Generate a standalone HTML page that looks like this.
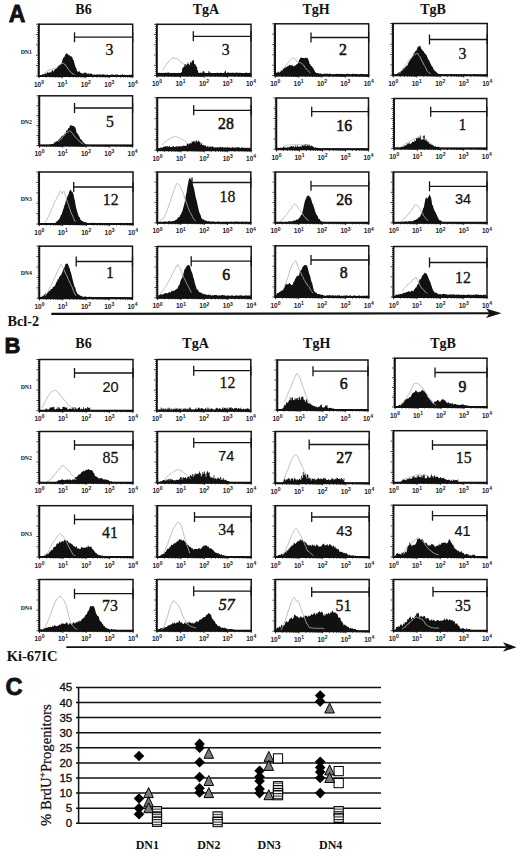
<!DOCTYPE html><html><head><meta charset="utf-8"><style>html,body{margin:0;padding:0;background:#fff;}svg{display:block;}</style></head><body>
<svg width="520" height="853" viewBox="0 0 520 853">
<defs><pattern id="stripe" patternUnits="userSpaceOnUse" width="4" height="2.6"><rect width="4" height="2.6" fill="#fff"/><rect y="0" width="4" height="1.1" fill="#222"/></pattern></defs>
<rect width="520" height="853" fill="#fff"/>
<path d="M40.0 76.0 L40.0 75.1 L40.7 75.6 L41.4 75.0 L42.1 75.0 L42.8 73.8 L43.5 74.3 L44.2 74.5 L44.9 73.7 L45.6 73.1 L46.3 74.0 L47.0 72.4 L47.7 72.2 L48.4 72.5 L49.1 73.2 L49.8 71.6 L50.5 72.6 L51.2 72.6 L51.9 70.3 L52.6 69.9 L53.3 71.5 L54.0 71.0 L54.7 69.6 L55.4 68.7 L56.1 68.9 L56.8 68.0 L57.5 67.3 L58.2 65.8 L58.9 65.2 L59.6 64.9 L60.3 63.8 L61.0 64.2 L61.7 63.0 L62.4 60.3 L63.1 57.7 L63.8 57.7 L64.5 56.8 L65.2 54.5 L65.9 54.3 L66.6 53.0 L67.3 53.9 L68.0 54.1 L68.7 55.6 L69.4 55.1 L70.1 55.7 L70.8 56.5 L71.5 56.4 L72.2 57.0 L72.9 59.4 L73.6 59.9 L74.3 62.7 L75.0 65.5 L75.7 67.2 L76.4 68.6 L77.1 71.3 L77.8 71.5 L78.5 71.9 L79.2 70.8 L79.9 71.9 L80.6 73.0 L81.3 72.8 L82.0 73.4 L82.7 73.6 L83.4 73.6 L84.1 72.4 L84.8 72.7 L85.5 72.4 L86.2 73.8 L86.9 72.5 L87.6 74.2 L88.3 73.8 L89.0 72.9 L89.7 74.5 L90.4 73.3 L91.1 73.4 L91.8 74.1 L92.5 74.2 L93.2 74.7 L93.9 74.9 L94.6 74.2 L95.3 74.7 L96.0 74.6 L96.7 74.5 L97.4 74.6 L98.1 74.2 L98.8 75.1 L99.5 74.4 L100.2 73.9 L100.9 74.9 L101.6 74.6 L102.3 74.8 L103.0 74.1 L103.7 74.5 L104.4 74.7 L105.1 74.4 L105.8 75.1 L106.5 74.9 L107.2 74.0 L107.9 75.1 L108.6 75.0 L109.3 75.1 L110.0 75.0 L110.7 74.8 L111.4 74.6 L112.1 74.6 L112.8 74.2 L113.5 75.2 L114.2 75.0 L114.9 74.6 L115.6 74.5 L116.3 74.8 L117.0 74.5 L117.7 74.4 L118.4 75.4 L119.1 75.4 L119.8 75.4 L120.5 74.8 L121.2 74.8 L121.9 74.7 L122.6 74.3 L123.3 75.1 L124.0 74.4 L124.7 75.1 L125.4 75.2 L126.1 74.8 L126.8 74.9 L127.5 75.0 L128.2 75.5 L128.9 74.9 L129.6 74.4 L130.3 75.5 L131.0 74.5 L131.7 74.4 L132.0 76.0 Z" fill="#111"/>
<path d="M44.0 73.5 L44.7 73.1 L45.4 72.8 L46.1 71.9 L46.8 71.5 L47.5 71.2 L48.2 70.2 L48.9 69.9 L49.6 70.0 L50.3 69.8 L51.0 69.6 L51.7 69.3 L52.4 68.9 L53.1 69.1 L53.8 68.4 L54.5 68.8 L55.2 68.0 L55.9 67.4 L56.6 67.4 L57.3 66.9 L58.0 66.2 L58.7 66.0 L59.4 65.2 L60.1 65.0 L60.8 64.1 L61.5 63.8 L62.2 63.1 L62.9 63.2 L63.6 63.4 L64.3 64.3 L65.0 64.2 L65.7 65.1 L66.4 66.7 L67.1 66.9 L67.8 68.2 L68.5 69.6 L69.2 70.3 L69.9 71.6 L70.6 71.9 L71.3 72.4 L72.0 73.0 L72.7 74.0 L73.4 74.0 L74.1 74.4 L74.8 75.0" fill="none" stroke="#b4b4b4" stroke-width="0.85"/>
<rect x="39.0" y="24.2" width="93.7" height="51.8" fill="none" stroke="#151515" stroke-width="1.5"/>
<line x1="38.6" y1="23.7" x2="38.6" y2="76.5" stroke="#111" stroke-width="1.3"/>
<line x1="38.0" y1="76.0" x2="133.2" y2="76.0" stroke="#111" stroke-width="2"/>
<path d="M36.0 24.2H39.0M37.2 26.3H39.0M37.2 28.3H39.0M37.2 30.4H39.0M37.2 32.5H39.0M36.0 34.6H39.0M37.2 36.6H39.0M37.2 38.7H39.0M37.2 40.8H39.0M37.2 42.8H39.0M36.0 44.9H39.0M37.2 47.0H39.0M37.2 49.1H39.0M37.2 51.1H39.0M37.2 53.2H39.0M36.0 55.3H39.0M37.2 57.4H39.0M37.2 59.4H39.0M37.2 61.5H39.0M37.2 63.6H39.0M36.0 65.6H39.0M37.2 67.7H39.0M37.2 69.8H39.0M37.2 71.9H39.0M37.2 73.9H39.0M36.0 76.0H39.0" stroke="#111" stroke-width="0.8"/>
<path d="M39.0 76.0V78.2M46.1 76.0V77.5M50.2 76.0V77.5M53.1 76.0V77.5M55.4 76.0V77.5M57.2 76.0V77.5M58.8 76.0V77.5M60.2 76.0V77.5M61.4 76.0V77.5M62.4 76.0V78.2M69.5 76.0V77.5M73.6 76.0V77.5M76.5 76.0V77.5M78.8 76.0V77.5M80.7 76.0V77.5M82.2 76.0V77.5M83.6 76.0V77.5M84.8 76.0V77.5M85.8 76.0V78.2M92.9 76.0V77.5M97.0 76.0V77.5M100.0 76.0V77.5M102.2 76.0V77.5M104.1 76.0V77.5M105.6 76.0V77.5M107.0 76.0V77.5M108.2 76.0V77.5M109.3 76.0V78.2M116.3 76.0V77.5M120.5 76.0V77.5M123.4 76.0V77.5M125.6 76.0V77.5M127.5 76.0V77.5M129.1 76.0V77.5M130.4 76.0V77.5M131.6 76.0V77.5M132.7 76.0V78.2" stroke="#111" stroke-width="0.9"/>
<text x="39.0" y="86.6" font-family="'Liberation Sans', sans-serif" font-size="6.5" font-weight="bold" fill="#222" text-anchor="middle">10<tspan font-size="5" dy="-2.9">0</tspan></text>
<text x="62.4" y="86.6" font-family="'Liberation Sans', sans-serif" font-size="6.5" font-weight="bold" fill="#222" text-anchor="middle">10<tspan font-size="5" dy="-2.9">1</tspan></text>
<text x="85.8" y="86.6" font-family="'Liberation Sans', sans-serif" font-size="6.5" font-weight="bold" fill="#222" text-anchor="middle">10<tspan font-size="5" dy="-2.9">2</tspan></text>
<text x="109.3" y="86.6" font-family="'Liberation Sans', sans-serif" font-size="6.5" font-weight="bold" fill="#222" text-anchor="middle">10<tspan font-size="5" dy="-2.9">3</tspan></text>
<text x="132.7" y="86.6" font-family="'Liberation Sans', sans-serif" font-size="6.5" font-weight="bold" fill="#222" text-anchor="middle">10<tspan font-size="5" dy="-2.9">4</tspan></text>
<path d="M74.5 37.2H132.7 M74.5 32.2V42.2 M132.7 32.2V42.2" stroke="#151515" stroke-width="1.3" fill="none"/>
<text x="109.5" y="55.2" font-family="'Liberation Serif', serif" font-size="15.8" stroke="#111" stroke-width="0.3" fill="#111" text-anchor="middle">3</text>
<rect x="157.0" y="73.0" width="94.0" height="2.5" fill="#111"/>
<path d="M158.0 75.5 L158.0 72.8 L158.8 72.8 L158.8 72.8 L159.6 72.8 L159.6 73.2 L160.4 73.2 L160.4 73.0 L161.2 73.0 L161.2 72.7 L162.0 72.7 L162.0 72.9 L162.8 72.9 L162.8 73.1 L163.6 73.1 L163.6 72.8 L164.4 72.8 L164.4 73.2 L165.2 73.2 L165.2 72.6 L166.0 72.6 L166.0 73.1 L166.8 73.1 L166.8 72.7 L167.6 72.7 L167.6 72.5 L168.4 72.5 L168.4 72.6 L169.2 72.6 L169.2 73.1 L170.0 73.1 L170.0 73.0 L170.8 73.0 L170.8 72.8 L171.6 72.8 L171.6 73.0 L172.4 73.0 L172.4 73.2 L173.2 73.2 L173.2 73.1 L174.0 73.1 L174.0 72.7 L174.8 72.7 L174.8 73.0 L175.6 73.0 L175.6 73.0 L176.4 73.0 L176.4 72.9 L177.2 72.9 L177.2 73.0 L178.0 73.0 L178.0 72.8 L178.8 72.8 L178.8 73.2 L179.6 73.2 L179.6 73.1 L180.4 73.1 L180.4 72.8 L181.2 72.8 L181.2 72.1 L182.0 72.1 L182.0 68.6 L182.8 68.6 L182.8 67.6 L183.6 67.6 L183.6 66.5 L184.4 66.5 L184.4 64.1 L185.2 64.1 L185.2 64.3 L186.0 64.3 L186.0 65.0 L186.8 65.0 L186.8 63.9 L187.6 63.9 L187.6 62.5 L188.4 62.5 L188.4 64.1 L189.2 64.1 L189.2 65.1 L190.0 65.1 L190.0 61.9 L190.8 61.9 L190.8 63.1 L191.6 63.1 L191.6 61.3 L192.4 61.3 L192.4 60.3 L193.2 60.3 L193.2 60.2 L194.0 60.2 L194.0 63.7 L194.8 63.7 L194.8 64.2 L195.6 64.2 L195.6 65.7 L196.4 65.7 L196.4 67.0 L197.2 67.0 L197.2 70.1 L198.0 70.1 L198.0 72.6 L198.8 72.6 L198.8 73.0 L199.6 73.0 L199.6 72.7 L200.4 72.7 L200.4 72.8 L201.2 72.8 L201.2 72.8 L202.0 72.8 L202.0 72.5 L202.8 72.5 L202.8 71.0 L203.6 71.0 L203.6 71.6 L204.4 71.6 L204.4 72.7 L205.2 72.7 L205.2 72.9 L206.0 72.9 L206.0 72.9 L206.8 72.9 L206.8 72.9 L207.6 72.9 L207.6 72.9 L208.4 72.9 L208.4 71.0 L209.2 71.0 L209.2 72.4 L210.0 72.4 L210.0 72.6 L210.8 72.6 L210.8 72.9 L211.6 72.9 L211.6 72.9 L212.4 72.9 L212.4 73.1 L213.2 73.1 L213.2 73.2 L214.0 73.2 L214.0 73.0 L214.8 73.0 L214.8 73.2 L215.6 73.2 L215.6 73.2 L216.4 73.2 L216.4 72.9 L217.2 72.9 L217.2 72.6 L218.0 72.6 L218.0 72.9 L218.8 72.9 L218.8 72.9 L219.6 72.9 L219.6 73.1 L220.4 73.1 L220.4 72.6 L221.2 72.6 L221.2 72.9 L222.0 72.9 L222.0 72.9 L222.8 72.9 L222.8 73.0 L223.6 73.0 L223.6 72.9 L224.4 72.9 L224.4 71.7 L225.2 71.7 L225.2 70.8 L226.0 70.8 L226.0 73.1 L226.8 73.1 L226.8 72.8 L227.6 72.8 L227.6 72.5 L228.4 72.5 L228.4 72.6 L229.2 72.6 L229.2 73.1 L230.0 73.1 L230.0 72.7 L230.8 72.7 L230.8 72.8 L231.6 72.8 L231.6 73.0 L232.4 73.0 L232.4 72.6 L233.2 72.6 L233.2 72.7 L234.0 72.7 L234.0 73.1 L234.8 73.1 L234.8 72.8 L235.6 72.8 L235.6 72.8 L236.4 72.8 L236.4 72.6 L237.2 72.6 L237.2 72.8 L238.0 72.8 L238.0 73.2 L238.8 73.2 L238.8 72.6 L239.6 72.6 L239.6 72.9 L240.4 72.9 L240.4 72.8 L241.2 72.8 L241.2 73.0 L242.0 73.0 L242.0 73.1 L242.8 73.1 L242.8 73.0 L243.6 73.0 L243.6 73.2 L244.4 73.2 L244.4 73.1 L245.2 73.1 L245.2 72.8 L246.0 72.8 L246.0 72.6 L246.8 72.6 L246.8 72.9 L247.6 72.9 L247.6 72.9 L248.4 72.9 L248.4 73.0 L249.2 73.0 L249.2 72.8 L250.0 72.8 L250.0 72.7 L250.8 72.7 L250.0 75.5 Z" fill="#111"/>
<path d="M162.7 70.3 L163.4 68.6 L164.1 67.6 L164.8 67.0 L165.5 65.7 L166.2 65.0 L166.9 63.5 L167.6 63.2 L168.3 61.9 L169.0 61.5 L169.7 60.0 L170.4 59.8 L171.1 58.9 L171.8 58.8 L172.5 57.5 L173.2 56.9 L173.9 57.9 L174.6 59.0 L175.3 58.5 L176.0 58.7 L176.7 59.1 L177.4 58.6 L178.1 59.3 L178.8 60.3 L179.5 60.4 L180.2 61.4 L180.9 62.1 L181.6 61.9 L182.3 63.4 L183.0 63.6 L183.7 64.1 L184.4 64.4 L185.1 64.8 L185.8 65.7" fill="none" stroke="#b4b4b4" stroke-width="0.85"/>
<rect x="157.0" y="24.3" width="94.0" height="51.2" fill="none" stroke="#151515" stroke-width="1.5"/>
<line x1="156.6" y1="23.8" x2="156.6" y2="76.0" stroke="#111" stroke-width="1.3"/>
<line x1="156.0" y1="75.5" x2="251.5" y2="75.5" stroke="#111" stroke-width="2"/>
<path d="M154.0 24.3H157.0M155.2 26.3H157.0M155.2 28.4H157.0M155.2 30.4H157.0M155.2 32.5H157.0M154.0 34.5H157.0M155.2 36.6H157.0M155.2 38.6H157.0M155.2 40.7H157.0M155.2 42.7H157.0M154.0 44.8H157.0M155.2 46.8H157.0M155.2 48.9H157.0M155.2 50.9H157.0M155.2 53.0H157.0M154.0 55.0H157.0M155.2 57.1H157.0M155.2 59.1H157.0M155.2 61.2H157.0M155.2 63.2H157.0M154.0 65.3H157.0M155.2 67.3H157.0M155.2 69.4H157.0M155.2 71.4H157.0M155.2 73.5H157.0M154.0 75.5H157.0" stroke="#111" stroke-width="0.8"/>
<path d="M157.0 75.5V77.7M164.1 75.5V77.0M168.2 75.5V77.0M171.1 75.5V77.0M173.4 75.5V77.0M175.3 75.5V77.0M176.9 75.5V77.0M178.2 75.5V77.0M179.4 75.5V77.0M180.5 75.5V77.7M187.6 75.5V77.0M191.7 75.5V77.0M194.6 75.5V77.0M196.9 75.5V77.0M198.8 75.5V77.0M200.4 75.5V77.0M201.7 75.5V77.0M202.9 75.5V77.0M204.0 75.5V77.7M211.1 75.5V77.0M215.2 75.5V77.0M218.1 75.5V77.0M220.4 75.5V77.0M222.3 75.5V77.0M223.9 75.5V77.0M225.2 75.5V77.0M226.4 75.5V77.0M227.5 75.5V77.7M234.6 75.5V77.0M238.7 75.5V77.0M241.6 75.5V77.0M243.9 75.5V77.0M245.8 75.5V77.0M247.4 75.5V77.0M248.7 75.5V77.0M249.9 75.5V77.0M251.0 75.5V77.7" stroke="#111" stroke-width="0.9"/>
<text x="157.0" y="86.1" font-family="'Liberation Sans', sans-serif" font-size="6.5" font-weight="bold" fill="#222" text-anchor="middle">10<tspan font-size="5" dy="-2.9">0</tspan></text>
<text x="180.5" y="86.1" font-family="'Liberation Sans', sans-serif" font-size="6.5" font-weight="bold" fill="#222" text-anchor="middle">10<tspan font-size="5" dy="-2.9">1</tspan></text>
<text x="204.0" y="86.1" font-family="'Liberation Sans', sans-serif" font-size="6.5" font-weight="bold" fill="#222" text-anchor="middle">10<tspan font-size="5" dy="-2.9">2</tspan></text>
<text x="227.5" y="86.1" font-family="'Liberation Sans', sans-serif" font-size="6.5" font-weight="bold" fill="#222" text-anchor="middle">10<tspan font-size="5" dy="-2.9">3</tspan></text>
<text x="251.0" y="86.1" font-family="'Liberation Sans', sans-serif" font-size="6.5" font-weight="bold" fill="#222" text-anchor="middle">10<tspan font-size="5" dy="-2.9">4</tspan></text>
<path d="M193.3 36.3H251.0 M193.3 31.3V41.3 M251.0 31.3V41.3" stroke="#151515" stroke-width="1.3" fill="none"/>
<text x="225.8" y="54.7" font-family="'Liberation Serif', serif" font-size="15.8" stroke="#111" stroke-width="0.3" fill="#111" text-anchor="middle">3</text>
<path d="M276.0 75.5 L276.0 73.3 L276.7 72.2 L277.4 72.5 L278.1 72.5 L278.8 71.3 L279.5 72.3 L280.2 71.7 L280.9 70.5 L281.6 69.7 L282.3 70.7 L283.0 69.1 L283.7 68.7 L284.4 67.6 L285.1 68.4 L285.8 66.8 L286.5 67.2 L287.2 66.6 L287.9 65.9 L288.6 65.9 L289.3 64.7 L290.0 65.5 L290.7 64.9 L291.4 65.4 L292.1 65.2 L292.8 65.2 L293.5 66.8 L294.2 66.1 L294.9 65.6 L295.6 65.5 L296.3 64.6 L297.0 64.3 L297.7 63.8 L298.4 62.4 L299.1 59.9 L299.8 59.2 L300.5 57.2 L301.2 58.0 L301.9 57.5 L302.6 58.0 L303.3 57.9 L304.0 58.0 L304.7 58.4 L305.4 57.6 L306.1 58.1 L306.8 57.7 L307.5 58.0 L308.2 59.5 L308.9 60.9 L309.6 64.0 L310.3 64.2 L311.0 66.0 L311.7 65.9 L312.4 67.2 L313.1 68.0 L313.8 69.2 L314.5 70.8 L315.2 71.9 L315.9 72.6 L316.6 73.2 L317.3 72.9 L318.0 73.1 L318.7 73.6 L319.4 73.6 L320.1 73.8 L320.8 73.3 L321.5 74.0 L322.2 74.1 L322.9 74.1 L323.6 74.0 L324.3 73.4 L325.0 73.7 L325.7 74.0 L326.4 73.6 L327.1 73.6 L327.8 74.1 L328.5 74.1 L329.2 73.6 L329.9 74.1 L330.6 73.6 L331.3 74.4 L332.0 74.5 L332.7 74.2 L333.4 74.4 L334.1 73.7 L334.8 74.4 L335.5 74.1 L336.2 73.7 L336.9 73.9 L337.6 73.7 L338.3 74.0 L339.0 74.1 L339.7 74.1 L340.4 73.8 L341.1 73.8 L341.8 74.3 L342.5 74.1 L343.2 73.8 L343.9 74.3 L344.6 74.0 L345.3 74.5 L346.0 73.7 L346.7 74.3 L347.4 73.6 L348.1 73.7 L348.8 74.3 L349.5 74.1 L350.2 74.4 L350.9 74.3 L351.6 74.4 L352.3 73.8 L353.0 73.7 L353.7 74.0 L354.4 73.7 L355.1 73.9 L355.8 74.0 L356.5 73.9 L357.2 74.2 L357.9 73.7 L358.6 74.5 L359.3 74.4 L360.0 74.5 L360.7 73.8 L361.4 74.0 L362.1 73.7 L362.8 74.6 L363.5 73.9 L364.2 74.6 L364.9 74.2 L365.6 74.4 L366.3 73.9 L367.0 74.5 L367.7 74.3 L368.0 75.5 Z" fill="#111"/>
<path d="M279.0 73.0 L279.7 72.3 L280.4 71.6 L281.1 70.5 L281.8 70.5 L282.5 69.0 L283.2 68.7 L283.9 68.4 L284.6 67.1 L285.3 66.8 L286.0 65.7 L286.7 64.3 L287.4 63.9 L288.1 62.9 L288.8 62.2 L289.5 60.6 L290.2 59.6 L290.9 59.1 L291.6 58.4 L292.3 57.7 L293.0 58.1 L293.7 58.3 L294.4 58.3 L295.1 59.5 L295.8 59.9 L296.5 61.0 L297.2 61.4 L297.9 61.5 L298.6 62.2 L299.3 62.5 L300.0 62.5 L300.7 62.9 L301.4 63.5 L302.1 63.6 L302.8 64.7 L303.5 65.1 L304.2 66.0 L304.9 67.3 L305.6 68.0 L306.3 69.2 L307.0 69.5 L307.7 70.2 L308.4 71.0 L309.1 71.9 L309.8 72.5 L310.5 73.4" fill="none" stroke="#b4b4b4" stroke-width="0.85"/>
<rect x="275.2" y="23.8" width="93.5" height="51.7" fill="none" stroke="#151515" stroke-width="1.5"/>
<line x1="274.8" y1="23.3" x2="274.8" y2="76.0" stroke="#111" stroke-width="1.3"/>
<line x1="274.2" y1="75.5" x2="369.2" y2="75.5" stroke="#111" stroke-width="2"/>
<path d="M272.2 23.8H275.2M273.4 25.9H275.2M273.4 27.9H275.2M273.4 30.0H275.2M273.4 32.1H275.2M272.2 34.1H275.2M273.4 36.2H275.2M273.4 38.3H275.2M273.4 40.3H275.2M273.4 42.4H275.2M272.2 44.5H275.2M273.4 46.5H275.2M273.4 48.6H275.2M273.4 50.7H275.2M273.4 52.8H275.2M272.2 54.8H275.2M273.4 56.9H275.2M273.4 59.0H275.2M273.4 61.0H275.2M273.4 63.1H275.2M272.2 65.2H275.2M273.4 67.2H275.2M273.4 69.3H275.2M273.4 71.4H275.2M273.4 73.4H275.2M272.2 75.5H275.2" stroke="#111" stroke-width="0.8"/>
<path d="M275.2 75.5V77.7M282.2 75.5V77.0M286.4 75.5V77.0M289.3 75.5V77.0M291.5 75.5V77.0M293.4 75.5V77.0M295.0 75.5V77.0M296.3 75.5V77.0M297.5 75.5V77.0M298.6 75.5V77.7M305.6 75.5V77.0M309.7 75.5V77.0M312.6 75.5V77.0M314.9 75.5V77.0M316.8 75.5V77.0M318.3 75.5V77.0M319.7 75.5V77.0M320.9 75.5V77.0M321.9 75.5V77.7M329.0 75.5V77.0M333.1 75.5V77.0M336.0 75.5V77.0M338.3 75.5V77.0M340.1 75.5V77.0M341.7 75.5V77.0M343.1 75.5V77.0M344.3 75.5V77.0M345.3 75.5V77.7M352.4 75.5V77.0M356.5 75.5V77.0M359.4 75.5V77.0M361.7 75.5V77.0M363.5 75.5V77.0M365.1 75.5V77.0M366.4 75.5V77.0M367.6 75.5V77.0M368.7 75.5V77.7" stroke="#111" stroke-width="0.9"/>
<text x="275.2" y="86.1" font-family="'Liberation Sans', sans-serif" font-size="6.5" font-weight="bold" fill="#222" text-anchor="middle">10<tspan font-size="5" dy="-2.9">0</tspan></text>
<text x="298.6" y="86.1" font-family="'Liberation Sans', sans-serif" font-size="6.5" font-weight="bold" fill="#222" text-anchor="middle">10<tspan font-size="5" dy="-2.9">1</tspan></text>
<text x="321.9" y="86.1" font-family="'Liberation Sans', sans-serif" font-size="6.5" font-weight="bold" fill="#222" text-anchor="middle">10<tspan font-size="5" dy="-2.9">2</tspan></text>
<text x="345.3" y="86.1" font-family="'Liberation Sans', sans-serif" font-size="6.5" font-weight="bold" fill="#222" text-anchor="middle">10<tspan font-size="5" dy="-2.9">3</tspan></text>
<text x="368.7" y="86.1" font-family="'Liberation Sans', sans-serif" font-size="6.5" font-weight="bold" fill="#222" text-anchor="middle">10<tspan font-size="5" dy="-2.9">4</tspan></text>
<path d="M311.0 37.5H368.7 M311.0 32.5V42.5 M368.7 32.5V42.5" stroke="#151515" stroke-width="1.3" fill="none"/>
<text x="343.0" y="54.7" font-family="'Liberation Serif', serif" font-size="15.8" stroke="#111" stroke-width="0.55" fill="#111" text-anchor="middle">2</text>
<path d="M394.3 75.3 L394.3 75.1 L395.0 74.5 L395.7 74.8 L396.4 73.9 L397.1 73.5 L397.8 73.2 L398.5 72.8 L399.2 72.0 L399.9 72.0 L400.6 71.7 L401.3 70.3 L402.0 71.0 L402.7 69.7 L403.4 69.3 L404.1 67.5 L404.8 68.4 L405.5 67.0 L406.2 65.4 L406.9 66.2 L407.6 65.0 L408.3 63.2 L409.0 61.6 L409.7 61.0 L410.4 59.3 L411.1 58.6 L411.8 57.7 L412.5 56.3 L413.2 54.7 L413.9 53.3 L414.6 52.7 L415.3 51.0 L416.0 51.1 L416.7 49.9 L417.4 47.4 L418.1 46.5 L418.8 46.8 L419.5 46.0 L420.2 45.8 L420.9 47.8 L421.6 49.2 L422.3 50.0 L423.0 50.9 L423.7 51.3 L424.4 53.1 L425.1 53.6 L425.8 54.5 L426.5 55.1 L427.2 57.1 L427.9 58.6 L428.6 60.1 L429.3 60.5 L430.0 62.8 L430.7 63.7 L431.4 65.4 L432.1 66.4 L432.8 67.2 L433.5 69.0 L434.2 70.2 L434.9 70.7 L435.6 71.5 L436.3 71.7 L437.0 73.0 L437.7 73.2 L438.4 74.1 L439.1 74.2 L439.8 74.0 L440.5 74.3 L441.2 74.2 L441.9 74.3 L442.6 74.7 L443.3 74.7 L444.0 74.5 L444.7 74.5 L445.4 74.4 L446.1 74.6 L446.8 74.6 L447.5 74.9 L448.2 74.9 L448.9 75.0 L449.6 74.3 L450.3 74.4 L451.0 74.4 L451.7 74.2 L452.4 74.2 L453.1 74.3 L453.8 74.9 L454.5 74.8 L455.2 74.8 L455.9 74.3 L456.6 74.6 L457.3 74.5 L458.0 74.4 L458.7 75.0 L459.4 74.5 L460.1 74.4 L460.8 74.4 L461.5 74.9 L462.2 74.5 L462.9 74.6 L463.6 74.7 L464.3 74.4 L465.0 74.5 L465.7 74.3 L466.4 74.7 L467.1 75.0 L467.8 74.6 L468.5 75.0 L469.2 74.9 L469.9 75.0 L470.6 74.7 L471.3 75.0 L472.0 75.1 L472.7 75.1 L473.4 74.4 L474.1 74.5 L474.8 75.0 L475.5 74.7 L476.2 74.5 L476.9 74.8 L477.6 74.7 L478.3 75.1 L479.0 74.9 L479.7 74.7 L480.4 75.1 L481.1 75.1 L481.8 74.6 L482.5 74.9 L483.2 74.8 L483.9 75.0 L484.6 75.1 L485.3 74.5 L486.0 74.9 L486.7 74.9 L487.0 75.3 Z" fill="#111"/>
<path d="M399.0 73.8 L399.7 73.1 L400.4 71.9 L401.1 71.3 L401.8 69.7 L402.5 68.7 L403.2 68.3 L403.9 67.6 L404.6 66.5 L405.3 65.5 L406.0 64.4 L406.7 63.3 L407.4 62.2 L408.1 61.1 L408.8 60.8 L409.5 59.8 L410.2 59.0 L410.9 58.2 L411.6 57.6 L412.3 56.8 L413.0 56.2 L413.7 55.6 L414.4 54.9 L415.1 54.0 L415.8 54.1 L416.5 53.4 L417.2 53.8 L417.9 53.6 L418.6 55.4 L419.3 55.9 L420.0 56.7 L420.7 58.2 L421.4 60.0 L422.1 61.6 L422.8 62.1 L423.5 64.2 L424.2 65.3 L424.9 66.5 L425.6 67.8 L426.3 69.0 L427.0 70.5 L427.7 71.6 L428.4 72.3 L429.1 72.8 L429.8 73.0 L430.5 73.9" fill="none" stroke="#b4b4b4" stroke-width="0.85"/>
<rect x="393.2" y="23.5" width="94.0" height="51.8" fill="none" stroke="#151515" stroke-width="1.5"/>
<line x1="392.8" y1="23.0" x2="392.8" y2="75.8" stroke="#111" stroke-width="1.3"/>
<line x1="392.2" y1="75.3" x2="487.7" y2="75.3" stroke="#111" stroke-width="2"/>
<path d="M390.2 23.5H393.2M391.4 25.6H393.2M391.4 27.6H393.2M391.4 29.7H393.2M391.4 31.8H393.2M390.2 33.9H393.2M391.4 35.9H393.2M391.4 38.0H393.2M391.4 40.1H393.2M391.4 42.1H393.2M390.2 44.2H393.2M391.4 46.3H393.2M391.4 48.4H393.2M391.4 50.4H393.2M391.4 52.5H393.2M390.2 54.6H393.2M391.4 56.7H393.2M391.4 58.7H393.2M391.4 60.8H393.2M391.4 62.9H393.2M390.2 64.9H393.2M391.4 67.0H393.2M391.4 69.1H393.2M391.4 71.2H393.2M391.4 73.2H393.2M390.2 75.3H393.2" stroke="#111" stroke-width="0.8"/>
<path d="M393.2 75.3V77.5M400.3 75.3V76.8M404.4 75.3V76.8M407.3 75.3V76.8M409.6 75.3V76.8M411.5 75.3V76.8M413.1 75.3V76.8M414.4 75.3V76.8M415.6 75.3V76.8M416.7 75.3V77.5M423.8 75.3V76.8M427.9 75.3V76.8M430.8 75.3V76.8M433.1 75.3V76.8M435.0 75.3V76.8M436.6 75.3V76.8M437.9 75.3V76.8M439.1 75.3V76.8M440.2 75.3V77.5M447.3 75.3V76.8M451.4 75.3V76.8M454.3 75.3V76.8M456.6 75.3V76.8M458.5 75.3V76.8M460.1 75.3V76.8M461.4 75.3V76.8M462.6 75.3V76.8M463.7 75.3V77.5M470.8 75.3V76.8M474.9 75.3V76.8M477.8 75.3V76.8M480.1 75.3V76.8M482.0 75.3V76.8M483.6 75.3V76.8M484.9 75.3V76.8M486.1 75.3V76.8M487.2 75.3V77.5" stroke="#111" stroke-width="0.9"/>
<text x="393.2" y="85.9" font-family="'Liberation Sans', sans-serif" font-size="6.5" font-weight="bold" fill="#222" text-anchor="middle">10<tspan font-size="5" dy="-2.9">0</tspan></text>
<text x="416.7" y="85.9" font-family="'Liberation Sans', sans-serif" font-size="6.5" font-weight="bold" fill="#222" text-anchor="middle">10<tspan font-size="5" dy="-2.9">1</tspan></text>
<text x="440.2" y="85.9" font-family="'Liberation Sans', sans-serif" font-size="6.5" font-weight="bold" fill="#222" text-anchor="middle">10<tspan font-size="5" dy="-2.9">2</tspan></text>
<text x="463.7" y="85.9" font-family="'Liberation Sans', sans-serif" font-size="6.5" font-weight="bold" fill="#222" text-anchor="middle">10<tspan font-size="5" dy="-2.9">3</tspan></text>
<text x="487.2" y="85.9" font-family="'Liberation Sans', sans-serif" font-size="6.5" font-weight="bold" fill="#222" text-anchor="middle">10<tspan font-size="5" dy="-2.9">4</tspan></text>
<path d="M429.5 39.5H487.2 M429.5 34.5V44.5 M487.2 34.5V44.5" stroke="#151515" stroke-width="1.3" fill="none"/>
<text x="462.5" y="58.9" font-family="'Liberation Serif', serif" font-size="15.8" stroke="#111" stroke-width="0.3" fill="#111" text-anchor="middle">3</text>
<path d="M48.0 145.5 L48.0 145.4 L48.7 145.0 L49.4 144.6 L50.1 144.8 L50.8 144.4 L51.5 143.9 L52.2 144.0 L52.9 144.1 L53.6 143.7 L54.3 142.6 L55.0 142.2 L55.7 141.8 L56.4 141.2 L57.1 141.5 L57.8 140.7 L58.5 139.8 L59.2 139.5 L59.9 138.1 L60.6 138.3 L61.3 136.3 L62.0 136.6 L62.7 135.3 L63.4 135.5 L64.1 134.5 L64.8 133.6 L65.5 133.3 L66.2 130.7 L66.9 130.5 L67.6 130.0 L68.3 127.9 L69.0 128.4 L69.7 126.4 L70.4 125.3 L71.1 124.8 L71.8 126.1 L72.5 125.8 L73.2 126.1 L73.9 125.7 L74.6 127.2 L75.3 127.3 L76.0 130.1 L76.7 132.9 L77.4 133.4 L78.1 134.3 L78.8 135.8 L79.5 136.7 L80.2 139.0 L80.9 139.3 L81.6 139.7 L82.3 140.8 L83.0 142.6 L83.7 142.3 L84.4 143.0 L85.1 144.2 L85.8 144.7 L86.5 144.8 L87.2 144.5 L87.9 144.7 L88.0 145.5 Z" fill="#111"/>
<path d="M58.0 141.7 L58.7 141.1 L59.4 140.5 L60.1 139.7 L60.8 139.4 L61.5 139.0 L62.2 137.9 L62.9 136.5 L63.6 135.5 L64.3 135.6 L65.0 134.4 L65.7 132.9 L66.4 132.6 L67.1 132.0 L67.8 132.4 L68.5 131.8 L69.2 131.2 L69.9 130.7 L70.6 131.2 L71.3 132.3 L72.0 133.1 L72.7 133.6 L73.4 134.7 L74.1 135.8 L74.8 136.8 L75.5 137.0 L76.2 137.7 L76.9 138.7 L77.6 139.4 L78.3 140.1 L79.0 141.1 L79.7 141.3 L80.4 142.1 L81.1 143.0 L81.8 143.1 L82.5 144.1 L83.2 144.3 L83.9 145.0" fill="none" stroke="#b4b4b4" stroke-width="0.85"/>
<rect x="39.5" y="95.8" width="93.1" height="49.7" fill="none" stroke="#151515" stroke-width="1.5"/>
<line x1="39.1" y1="95.3" x2="39.1" y2="146.0" stroke="#111" stroke-width="1.3"/>
<line x1="38.5" y1="145.5" x2="133.1" y2="145.5" stroke="#111" stroke-width="2"/>
<path d="M36.5 95.8H39.5M37.7 97.8H39.5M37.7 99.8H39.5M37.7 101.8H39.5M37.7 103.8H39.5M36.5 105.7H39.5M37.7 107.7H39.5M37.7 109.7H39.5M37.7 111.7H39.5M37.7 113.7H39.5M36.5 115.7H39.5M37.7 117.7H39.5M37.7 119.7H39.5M37.7 121.6H39.5M37.7 123.6H39.5M36.5 125.6H39.5M37.7 127.6H39.5M37.7 129.6H39.5M37.7 131.6H39.5M37.7 133.6H39.5M36.5 135.6H39.5M37.7 137.5H39.5M37.7 139.5H39.5M37.7 141.5H39.5M37.7 143.5H39.5M36.5 145.5H39.5" stroke="#111" stroke-width="0.8"/>
<path d="M39.5 145.5V147.7M46.5 145.5V147.0M50.6 145.5V147.0M53.5 145.5V147.0M55.8 145.5V147.0M57.6 145.5V147.0M59.2 145.5V147.0M60.5 145.5V147.0M61.7 145.5V147.0M62.8 145.5V147.7M69.8 145.5V147.0M73.9 145.5V147.0M76.8 145.5V147.0M79.0 145.5V147.0M80.9 145.5V147.0M82.4 145.5V147.0M83.8 145.5V147.0M85.0 145.5V147.0M86.0 145.5V147.7M93.1 145.5V147.0M97.2 145.5V147.0M100.1 145.5V147.0M102.3 145.5V147.0M104.2 145.5V147.0M105.7 145.5V147.0M107.1 145.5V147.0M108.3 145.5V147.0M109.3 145.5V147.7M116.3 145.5V147.0M120.4 145.5V147.0M123.3 145.5V147.0M125.6 145.5V147.0M127.4 145.5V147.0M129.0 145.5V147.0M130.3 145.5V147.0M131.5 145.5V147.0M132.6 145.5V147.7" stroke="#111" stroke-width="0.9"/>
<text x="39.5" y="156.1" font-family="'Liberation Sans', sans-serif" font-size="6.5" font-weight="bold" fill="#222" text-anchor="middle">10<tspan font-size="5" dy="-2.9">0</tspan></text>
<text x="62.8" y="156.1" font-family="'Liberation Sans', sans-serif" font-size="6.5" font-weight="bold" fill="#222" text-anchor="middle">10<tspan font-size="5" dy="-2.9">1</tspan></text>
<text x="86.0" y="156.1" font-family="'Liberation Sans', sans-serif" font-size="6.5" font-weight="bold" fill="#222" text-anchor="middle">10<tspan font-size="5" dy="-2.9">2</tspan></text>
<text x="109.3" y="156.1" font-family="'Liberation Sans', sans-serif" font-size="6.5" font-weight="bold" fill="#222" text-anchor="middle">10<tspan font-size="5" dy="-2.9">3</tspan></text>
<text x="132.6" y="156.1" font-family="'Liberation Sans', sans-serif" font-size="6.5" font-weight="bold" fill="#222" text-anchor="middle">10<tspan font-size="5" dy="-2.9">4</tspan></text>
<path d="M74.5 108.0H132.6 M74.5 103.0V113.0 M132.6 103.0V113.0" stroke="#151515" stroke-width="1.3" fill="none"/>
<text x="110.0" y="126.9" font-family="'Liberation Serif', serif" font-size="15.8" stroke="#111" stroke-width="0.3" fill="#111" text-anchor="middle">5</text>
<rect x="157.5" y="148.7" width="93.6" height="1.5" fill="#111"/>
<path d="M158.0 150.2 L158.0 148.3 L158.8 148.3 L158.8 148.2 L159.6 148.2 L159.6 148.1 L160.4 148.1 L160.4 147.6 L161.2 147.6 L161.2 147.5 L162.0 147.5 L162.0 147.7 L162.8 147.7 L162.8 147.0 L163.6 147.0 L163.6 146.6 L164.4 146.6 L164.4 146.8 L165.2 146.8 L165.2 146.1 L166.0 146.1 L166.0 146.4 L166.8 146.4 L166.8 146.1 L167.6 146.1 L167.6 146.5 L168.4 146.5 L168.4 146.8 L169.2 146.8 L169.2 146.0 L170.0 146.0 L170.0 146.9 L170.8 146.9 L170.8 147.2 L171.6 147.2 L171.6 146.7 L172.4 146.7 L172.4 146.5 L173.2 146.5 L173.2 146.1 L174.0 146.1 L174.0 147.1 L174.8 147.1 L174.8 147.0 L175.6 147.0 L175.6 146.3 L176.4 146.3 L176.4 146.3 L177.2 146.3 L177.2 146.8 L178.0 146.8 L178.0 146.2 L178.8 146.2 L178.8 146.6 L179.6 146.6 L179.6 145.9 L180.4 145.9 L180.4 146.5 L181.2 146.5 L181.2 146.3 L182.0 146.3 L182.0 146.2 L182.8 146.2 L182.8 145.7 L183.6 145.7 L183.6 145.6 L184.4 145.6 L184.4 145.9 L185.2 145.9 L185.2 145.7 L186.0 145.7 L186.0 145.7 L186.8 145.7 L186.8 143.5 L187.6 143.5 L187.6 143.4 L188.4 143.4 L188.4 144.5 L189.2 144.5 L189.2 143.5 L190.0 143.5 L190.0 143.0 L190.8 143.0 L190.8 143.6 L191.6 143.6 L191.6 141.5 L192.4 141.5 L192.4 141.9 L193.2 141.9 L193.2 141.0 L194.0 141.0 L194.0 141.3 L194.8 141.3 L194.8 142.4 L195.6 142.4 L195.6 140.5 L196.4 140.5 L196.4 140.4 L197.2 140.4 L197.2 141.9 L198.0 141.9 L198.0 140.4 L198.8 140.4 L198.8 141.5 L199.6 141.5 L199.6 142.1 L200.4 142.1 L200.4 144.4 L201.2 144.4 L201.2 142.9 L202.0 142.9 L202.0 145.0 L202.8 145.0 L202.8 144.7 L203.6 144.7 L203.6 145.3 L204.4 145.3 L204.4 145.7 L205.2 145.7 L205.2 145.6 L206.0 145.6 L206.0 146.8 L206.8 146.8 L206.8 146.2 L207.6 146.2 L207.6 146.2 L208.4 146.2 L208.4 147.2 L209.2 147.2 L209.2 146.4 L210.0 146.4 L210.0 146.4 L210.8 146.4 L210.8 147.2 L211.6 147.2 L211.6 146.3 L212.4 146.3 L212.4 146.5 L213.2 146.5 L213.2 147.2 L214.0 147.2 L214.0 147.6 L214.8 147.6 L214.8 147.2 L215.6 147.2 L215.6 147.6 L216.4 147.6 L216.4 147.5 L217.2 147.5 L217.2 146.9 L218.0 146.9 L218.0 147.6 L218.8 147.6 L218.8 147.5 L219.6 147.5 L219.6 147.1 L220.4 147.1 L220.4 146.8 L221.2 146.8 L221.2 147.4 L222.0 147.4 L222.0 147.1 L222.8 147.1 L222.8 147.4 L223.6 147.4 L223.6 147.5 L224.4 147.5 L224.4 147.5 L225.2 147.5 L225.2 147.3 L226.0 147.3 L226.0 147.7 L226.8 147.7 L226.8 147.1 L227.6 147.1 L227.6 147.5 L228.4 147.5 L228.4 147.5 L229.2 147.5 L229.2 147.5 L230.0 147.5 L230.0 147.7 L230.8 147.7 L230.8 147.9 L231.6 147.9 L231.6 147.0 L232.4 147.0 L232.4 147.3 L233.2 147.3 L233.2 147.7 L234.0 147.7 L234.0 147.5 L234.8 147.5 L234.8 147.8 L235.6 147.8 L235.6 147.3 L236.4 147.3 L236.4 147.5 L237.2 147.5 L237.2 147.3 L238.0 147.3 L238.0 147.2 L238.8 147.2 L238.8 147.3 L239.6 147.3 L239.6 147.9 L240.4 147.9 L240.4 148.0 L241.2 148.0 L241.2 147.3 L242.0 147.3 L242.0 147.5 L242.8 147.5 L242.8 147.7 L243.6 147.7 L243.6 148.1 L244.4 148.1 L244.4 147.5 L245.2 147.5 L245.2 147.9 L246.0 147.9 L246.0 147.9 L246.8 147.9 L246.8 147.5 L247.6 147.5 L247.6 148.2 L248.4 148.2 L248.4 147.7 L249.2 147.7 L249.2 147.7 L250.0 147.7 L250.0 147.9 L250.8 147.9 L250.0 150.2 Z" fill="#111"/>
<path d="M162.0 144.6 L162.7 144.8 L163.4 144.0 L164.1 142.5 L164.8 142.4 L165.5 141.4 L166.2 141.3 L166.9 140.3 L167.6 139.8 L168.3 139.7 L169.0 139.0 L169.7 139.2 L170.4 138.1 L171.1 137.8 L171.8 137.4 L172.5 137.2 L173.2 137.2 L173.9 136.4 L174.6 136.7 L175.3 137.0 L176.0 136.3 L176.7 136.9 L177.4 137.4 L178.1 137.5 L178.8 137.6 L179.5 137.6 L180.2 138.3 L180.9 138.6 L181.6 139.6 L182.3 139.7 L183.0 140.1 L183.7 140.4 L184.4 140.8 L185.1 141.1 L185.8 141.8 L186.5 142.4 L187.2 142.8 L187.9 143.9" fill="none" stroke="#b4b4b4" stroke-width="0.85"/>
<rect x="157.5" y="97.7" width="93.6" height="52.5" fill="none" stroke="#151515" stroke-width="1.5"/>
<line x1="157.1" y1="97.2" x2="157.1" y2="150.7" stroke="#111" stroke-width="1.3"/>
<line x1="156.5" y1="150.2" x2="251.6" y2="150.2" stroke="#111" stroke-width="2"/>
<path d="M154.5 97.7H157.5M155.7 99.8H157.5M155.7 101.9H157.5M155.7 104.0H157.5M155.7 106.1H157.5M154.5 108.2H157.5M155.7 110.3H157.5M155.7 112.4H157.5M155.7 114.5H157.5M155.7 116.6H157.5M154.5 118.7H157.5M155.7 120.8H157.5M155.7 122.9H157.5M155.7 125.0H157.5M155.7 127.1H157.5M154.5 129.2H157.5M155.7 131.3H157.5M155.7 133.4H157.5M155.7 135.5H157.5M155.7 137.6H157.5M154.5 139.7H157.5M155.7 141.8H157.5M155.7 143.9H157.5M155.7 146.0H157.5M155.7 148.1H157.5M154.5 150.2H157.5" stroke="#111" stroke-width="0.8"/>
<path d="M157.5 150.2V152.4M164.5 150.2V151.7M168.7 150.2V151.7M171.6 150.2V151.7M173.9 150.2V151.7M175.7 150.2V151.7M177.3 150.2V151.7M178.6 150.2V151.7M179.8 150.2V151.7M180.9 150.2V152.4M187.9 150.2V151.7M192.1 150.2V151.7M195.0 150.2V151.7M197.3 150.2V151.7M199.1 150.2V151.7M200.7 150.2V151.7M202.0 150.2V151.7M203.2 150.2V151.7M204.3 150.2V152.4M211.3 150.2V151.7M215.5 150.2V151.7M218.4 150.2V151.7M220.7 150.2V151.7M222.5 150.2V151.7M224.1 150.2V151.7M225.4 150.2V151.7M226.6 150.2V151.7M227.7 150.2V152.4M234.7 150.2V151.7M238.9 150.2V151.7M241.8 150.2V151.7M244.1 150.2V151.7M245.9 150.2V151.7M247.5 150.2V151.7M248.8 150.2V151.7M250.0 150.2V151.7M251.1 150.2V152.4" stroke="#111" stroke-width="0.9"/>
<text x="157.5" y="160.8" font-family="'Liberation Sans', sans-serif" font-size="6.5" font-weight="bold" fill="#222" text-anchor="middle">10<tspan font-size="5" dy="-2.9">0</tspan></text>
<text x="180.9" y="160.8" font-family="'Liberation Sans', sans-serif" font-size="6.5" font-weight="bold" fill="#222" text-anchor="middle">10<tspan font-size="5" dy="-2.9">1</tspan></text>
<text x="204.3" y="160.8" font-family="'Liberation Sans', sans-serif" font-size="6.5" font-weight="bold" fill="#222" text-anchor="middle">10<tspan font-size="5" dy="-2.9">2</tspan></text>
<text x="227.7" y="160.8" font-family="'Liberation Sans', sans-serif" font-size="6.5" font-weight="bold" fill="#222" text-anchor="middle">10<tspan font-size="5" dy="-2.9">3</tspan></text>
<text x="251.1" y="160.8" font-family="'Liberation Sans', sans-serif" font-size="6.5" font-weight="bold" fill="#222" text-anchor="middle">10<tspan font-size="5" dy="-2.9">4</tspan></text>
<path d="M193.7 110.3H251.1 M193.7 105.3V115.3 M251.1 105.3V115.3" stroke="#151515" stroke-width="1.3" fill="none"/>
<text x="226.0" y="128.7" font-family="'Liberation Serif', serif" font-size="15.8" stroke="#111" stroke-width="0.55" fill="#111" text-anchor="middle">28</text>
<path d="M277.0 149.3 L277.0 147.8 L277.8 147.8 L277.8 147.7 L278.6 147.7 L278.6 147.7 L279.4 147.7 L279.4 148.1 L280.2 148.1 L280.2 147.4 L281.0 147.4 L281.0 147.9 L281.8 147.9 L281.8 147.9 L282.6 147.9 L282.6 146.9 L283.4 146.9 L283.4 146.7 L284.2 146.7 L284.2 147.6 L285.0 147.6 L285.0 147.4 L285.8 147.4 L285.8 147.5 L286.6 147.5 L286.6 147.7 L287.4 147.7 L287.4 146.7 L288.2 146.7 L288.2 147.4 L289.0 147.4 L289.0 146.8 L289.8 146.8 L289.8 146.9 L290.6 146.9 L290.6 146.1 L291.4 146.1 L291.4 146.0 L292.2 146.0 L292.2 146.8 L293.0 146.8 L293.0 146.1 L293.8 146.1 L293.8 147.2 L294.6 147.2 L294.6 146.8 L295.4 146.8 L295.4 145.3 L296.2 145.3 L296.2 147.0 L297.0 147.0 L297.0 145.5 L297.8 145.5 L297.8 146.8 L298.6 146.8 L298.6 146.8 L299.4 146.8 L299.4 146.6 L300.2 146.6 L300.2 146.4 L301.0 146.4 L301.0 146.6 L301.8 146.6 L301.8 145.3 L302.6 145.3 L302.6 144.8 L303.4 144.8 L303.4 145.8 L304.2 145.8 L304.2 144.5 L305.0 144.5 L305.0 144.4 L305.8 144.4 L305.8 144.6 L306.6 144.6 L306.6 146.1 L307.4 146.1 L307.4 144.3 L308.2 144.3 L308.2 145.6 L309.0 145.6 L309.0 144.8 L309.8 144.8 L309.8 146.4 L310.6 146.4 L310.6 145.4 L311.4 145.4 L311.4 145.8 L312.2 145.8 L312.2 146.3 L313.0 146.3 L313.0 147.0 L313.8 147.0 L313.8 147.4 L314.6 147.4 L314.6 147.8 L315.4 147.8 L315.4 147.3 L316.2 147.3 L316.2 147.7 L317.0 147.7 L317.0 147.9 L317.8 147.9 L317.8 148.2 L318.6 148.2 L318.6 148.1 L319.4 148.1 L319.4 148.4 L320.2 148.4 L320.2 148.6 L321.0 148.6 L321.0 148.4 L321.8 148.4 L321.8 148.7 L322.6 148.7 L322.6 148.6 L323.4 148.6 L323.4 148.6 L324.2 148.6 L324.2 148.6 L325.0 148.6 L325.0 148.7 L325.8 148.7 L325.8 148.6 L326.6 148.6 L326.6 148.8 L327.4 148.8 L327.4 148.6 L328.2 148.6 L328.2 148.6 L329.0 148.6 L329.0 148.7 L329.8 148.7 L329.8 148.7 L330.6 148.7 L330.6 148.7 L331.4 148.7 L331.4 148.6 L332.2 148.6 L332.2 148.8 L333.0 148.8 L333.0 148.8 L333.8 148.8 L333.8 148.8 L334.6 148.8 L334.6 148.6 L335.4 148.6 L335.4 148.8 L336.2 148.8 L336.2 148.7 L337.0 148.7 L337.0 148.5 L337.8 148.5 L337.8 148.7 L338.6 148.7 L338.6 148.6 L339.4 148.6 L339.4 148.6 L340.2 148.6 L340.2 148.9 L341.0 148.9 L341.0 148.8 L341.8 148.8 L341.8 148.8 L342.6 148.8 L342.6 148.8 L343.4 148.8 L343.4 148.6 L344.2 148.6 L344.2 148.8 L345.0 148.8 L345.0 148.5 L345.8 148.5 L345.8 148.9 L346.6 148.9 L346.6 148.8 L347.4 148.8 L347.4 148.7 L348.2 148.7 L348.2 148.6 L349.0 148.6 L349.0 148.8 L349.8 148.8 L349.8 148.8 L350.6 148.8 L350.6 148.7 L351.4 148.7 L351.4 148.7 L352.2 148.7 L352.2 148.9 L353.0 148.9 L353.0 148.7 L353.8 148.7 L353.8 148.5 L354.6 148.5 L354.6 148.8 L355.4 148.8 L355.4 148.6 L356.2 148.6 L356.2 148.8 L357.0 148.8 L357.0 148.7 L357.8 148.7 L357.8 148.6 L358.6 148.6 L358.6 148.9 L359.4 148.9 L359.4 148.6 L360.2 148.6 L360.2 148.5 L361.0 148.5 L361.0 148.6 L361.8 148.6 L361.8 148.8 L362.6 148.8 L362.6 148.7 L363.4 148.7 L363.4 148.7 L364.2 148.7 L364.2 148.7 L365.0 148.7 L365.0 148.8 L365.8 148.8 L365.8 148.7 L366.6 148.7 L366.6 148.7 L367.4 148.7 L367.4 148.9 L368.2 148.9 L368.0 149.3 Z" fill="#111"/>
<path d="M283.0 146.0 L283.7 146.1 L284.4 145.8 L285.1 145.9 L285.8 145.3 L286.5 145.3 L287.2 145.2 L287.9 145.6 L288.6 145.3 L289.3 144.7 L290.0 145.0 L290.7 145.0 L291.4 144.5 L292.1 144.9 L292.8 144.9 L293.5 144.9 L294.2 144.7 L294.9 144.6 L295.6 144.5 L296.3 144.9 L297.0 144.2 L297.7 144.5 L298.4 144.9 L299.1 144.2 L299.8 145.0 L300.5 144.9 L301.2 145.0 L301.9 144.4 L302.6 145.3 L303.3 145.0 L304.0 145.3 L304.7 145.0 L305.4 145.5 L306.1 145.3 L306.8 145.8" fill="none" stroke="#b4b4b4" stroke-width="0.85"/>
<rect x="276.5" y="98.0" width="92.0" height="51.3" fill="none" stroke="#151515" stroke-width="1.5"/>
<line x1="276.1" y1="97.5" x2="276.1" y2="149.8" stroke="#111" stroke-width="1.3"/>
<line x1="275.5" y1="149.3" x2="369.0" y2="149.3" stroke="#111" stroke-width="2"/>
<path d="M273.5 98.0H276.5M274.7 100.1H276.5M274.7 102.1H276.5M274.7 104.2H276.5M274.7 106.2H276.5M273.5 108.3H276.5M274.7 110.3H276.5M274.7 112.4H276.5M274.7 114.4H276.5M274.7 116.5H276.5M273.5 118.5H276.5M274.7 120.6H276.5M274.7 122.6H276.5M274.7 124.7H276.5M274.7 126.7H276.5M273.5 128.8H276.5M274.7 130.8H276.5M274.7 132.9H276.5M274.7 134.9H276.5M274.7 137.0H276.5M273.5 139.0H276.5M274.7 141.1H276.5M274.7 143.1H276.5M274.7 145.2H276.5M274.7 147.2H276.5M273.5 149.3H276.5" stroke="#111" stroke-width="0.8"/>
<path d="M276.5 149.3V151.5M283.4 149.3V150.8M287.5 149.3V150.8M290.3 149.3V150.8M292.6 149.3V150.8M294.4 149.3V150.8M295.9 149.3V150.8M297.3 149.3V150.8M298.4 149.3V150.8M299.5 149.3V151.5M306.4 149.3V150.8M310.5 149.3V150.8M313.3 149.3V150.8M315.6 149.3V150.8M317.4 149.3V150.8M318.9 149.3V150.8M320.3 149.3V150.8M321.4 149.3V150.8M322.5 149.3V151.5M329.4 149.3V150.8M333.5 149.3V150.8M336.3 149.3V150.8M338.6 149.3V150.8M340.4 149.3V150.8M341.9 149.3V150.8M343.3 149.3V150.8M344.4 149.3V150.8M345.5 149.3V151.5M352.4 149.3V150.8M356.5 149.3V150.8M359.3 149.3V150.8M361.6 149.3V150.8M363.4 149.3V150.8M364.9 149.3V150.8M366.3 149.3V150.8M367.4 149.3V150.8M368.5 149.3V151.5" stroke="#111" stroke-width="0.9"/>
<text x="276.5" y="159.9" font-family="'Liberation Sans', sans-serif" font-size="6.5" font-weight="bold" fill="#222" text-anchor="middle">10<tspan font-size="5" dy="-2.9">0</tspan></text>
<text x="299.5" y="159.9" font-family="'Liberation Sans', sans-serif" font-size="6.5" font-weight="bold" fill="#222" text-anchor="middle">10<tspan font-size="5" dy="-2.9">1</tspan></text>
<text x="322.5" y="159.9" font-family="'Liberation Sans', sans-serif" font-size="6.5" font-weight="bold" fill="#222" text-anchor="middle">10<tspan font-size="5" dy="-2.9">2</tspan></text>
<text x="345.5" y="159.9" font-family="'Liberation Sans', sans-serif" font-size="6.5" font-weight="bold" fill="#222" text-anchor="middle">10<tspan font-size="5" dy="-2.9">3</tspan></text>
<text x="368.5" y="159.9" font-family="'Liberation Sans', sans-serif" font-size="6.5" font-weight="bold" fill="#222" text-anchor="middle">10<tspan font-size="5" dy="-2.9">4</tspan></text>
<path d="M311.7 111.7H368.5 M311.7 106.7V116.7 M368.5 106.7V116.7" stroke="#151515" stroke-width="1.3" fill="none"/>
<text x="344.2" y="130.7" font-family="'Liberation Serif', serif" font-size="15.8" stroke="#111" stroke-width="0.55" fill="#111" text-anchor="middle">16</text>
<path d="M396.0 148.5 L396.0 148.3 L396.8 148.3 L396.8 146.7 L397.6 146.7 L397.6 148.3 L398.4 148.3 L398.4 148.0 L399.2 148.0 L399.2 147.7 L400.0 147.7 L400.0 147.6 L400.8 147.6 L400.8 147.1 L401.6 147.1 L401.6 146.6 L402.4 146.6 L402.4 146.8 L403.2 146.8 L403.2 146.5 L404.0 146.5 L404.0 145.7 L404.8 145.7 L404.8 145.2 L405.6 145.2 L405.6 145.5 L406.4 145.5 L406.4 144.5 L407.2 144.5 L407.2 143.5 L408.0 143.5 L408.0 143.5 L408.8 143.5 L408.8 142.8 L409.6 142.8 L409.6 143.9 L410.4 143.9 L410.4 143.7 L411.2 143.7 L411.2 143.0 L412.0 143.0 L412.0 141.7 L412.8 141.7 L412.8 141.7 L413.6 141.7 L413.6 142.0 L414.4 142.0 L414.4 139.8 L415.2 139.8 L415.2 141.0 L416.0 141.0 L416.0 138.2 L416.8 138.2 L416.8 137.9 L417.6 137.9 L417.6 138.4 L418.4 138.4 L418.4 136.8 L419.2 136.8 L419.2 137.8 L420.0 137.8 L420.0 135.4 L420.8 135.4 L420.8 139.4 L421.6 139.4 L421.6 139.4 L422.4 139.4 L422.4 139.5 L423.2 139.5 L423.2 135.8 L424.0 135.8 L424.0 135.4 L424.8 135.4 L424.8 140.3 L425.6 140.3 L425.6 138.8 L426.4 138.8 L426.4 141.1 L427.2 141.1 L427.2 141.4 L428.0 141.4 L428.0 142.0 L428.8 142.0 L428.8 143.2 L429.6 143.2 L429.6 144.1 L430.4 144.1 L430.4 144.2 L431.2 144.2 L431.2 144.4 L432.0 144.4 L432.0 145.1 L432.8 145.1 L432.8 145.3 L433.6 145.3 L433.6 146.2 L434.4 146.2 L434.4 146.6 L435.2 146.6 L435.2 146.3 L436.0 146.3 L436.0 147.0 L436.8 147.0 L436.8 147.1 L437.6 147.1 L437.6 146.4 L438.4 146.4 L438.4 147.1 L439.2 147.1 L439.2 147.5 L440.0 147.5 L440.0 148.3 L440.8 148.3 L440.0 148.5 Z" fill="#111"/>
<path d="M402.0 146.3 L402.7 145.8 L403.4 145.0 L404.1 144.9 L404.8 144.5 L405.5 143.4 L406.2 143.5 L406.9 142.3 L407.6 142.7 L408.3 142.1 L409.0 141.5 L409.7 141.4 L410.4 140.6 L411.1 140.5 L411.8 139.8 L412.5 139.8 L413.2 139.0 L413.9 138.5 L414.6 138.4 L415.3 138.4 L416.0 137.8 L416.7 137.8 L417.4 137.2 L418.1 136.9 L418.8 137.1 L419.5 137.0 L420.2 137.1 L420.9 136.7 L421.6 136.9 L422.3 137.3 L423.0 138.3 L423.7 138.4 L424.4 139.0 L425.1 139.1 L425.8 139.4 L426.5 140.1 L427.2 140.6 L427.9 140.7 L428.6 142.2 L429.3 141.8 L430.0 143.0 L430.7 143.7 L431.4 144.2 L432.1 144.4 L432.8 145.3" fill="none" stroke="#b4b4b4" stroke-width="0.85"/>
<rect x="394.2" y="98.5" width="92.6" height="50.0" fill="none" stroke="#151515" stroke-width="1.5"/>
<line x1="393.8" y1="98.0" x2="393.8" y2="149.0" stroke="#111" stroke-width="1.3"/>
<line x1="393.2" y1="148.5" x2="487.3" y2="148.5" stroke="#111" stroke-width="2"/>
<path d="M391.2 98.5H394.2M392.4 100.5H394.2M392.4 102.5H394.2M392.4 104.5H394.2M392.4 106.5H394.2M391.2 108.5H394.2M392.4 110.5H394.2M392.4 112.5H394.2M392.4 114.5H394.2M392.4 116.5H394.2M391.2 118.5H394.2M392.4 120.5H394.2M392.4 122.5H394.2M392.4 124.5H394.2M392.4 126.5H394.2M391.2 128.5H394.2M392.4 130.5H394.2M392.4 132.5H394.2M392.4 134.5H394.2M392.4 136.5H394.2M391.2 138.5H394.2M392.4 140.5H394.2M392.4 142.5H394.2M392.4 144.5H394.2M392.4 146.5H394.2M391.2 148.5H394.2" stroke="#111" stroke-width="0.8"/>
<path d="M394.2 148.5V150.7M401.2 148.5V150.0M405.2 148.5V150.0M408.1 148.5V150.0M410.4 148.5V150.0M412.2 148.5V150.0M413.8 148.5V150.0M415.1 148.5V150.0M416.3 148.5V150.0M417.4 148.5V150.7M424.3 148.5V150.0M428.4 148.5V150.0M431.3 148.5V150.0M433.5 148.5V150.0M435.4 148.5V150.0M436.9 148.5V150.0M438.3 148.5V150.0M439.4 148.5V150.0M440.5 148.5V150.7M447.5 148.5V150.0M451.5 148.5V150.0M454.4 148.5V150.0M456.7 148.5V150.0M458.5 148.5V150.0M460.1 148.5V150.0M461.4 148.5V150.0M462.6 148.5V150.0M463.6 148.5V150.7M470.6 148.5V150.0M474.7 148.5V150.0M477.6 148.5V150.0M479.8 148.5V150.0M481.7 148.5V150.0M483.2 148.5V150.0M484.6 148.5V150.0M485.7 148.5V150.0M486.8 148.5V150.7" stroke="#111" stroke-width="0.9"/>
<text x="394.2" y="159.1" font-family="'Liberation Sans', sans-serif" font-size="6.5" font-weight="bold" fill="#222" text-anchor="middle">10<tspan font-size="5" dy="-2.9">0</tspan></text>
<text x="417.4" y="159.1" font-family="'Liberation Sans', sans-serif" font-size="6.5" font-weight="bold" fill="#222" text-anchor="middle">10<tspan font-size="5" dy="-2.9">1</tspan></text>
<text x="440.5" y="159.1" font-family="'Liberation Sans', sans-serif" font-size="6.5" font-weight="bold" fill="#222" text-anchor="middle">10<tspan font-size="5" dy="-2.9">2</tspan></text>
<text x="463.6" y="159.1" font-family="'Liberation Sans', sans-serif" font-size="6.5" font-weight="bold" fill="#222" text-anchor="middle">10<tspan font-size="5" dy="-2.9">3</tspan></text>
<text x="486.8" y="159.1" font-family="'Liberation Sans', sans-serif" font-size="6.5" font-weight="bold" fill="#222" text-anchor="middle">10<tspan font-size="5" dy="-2.9">4</tspan></text>
<path d="M430.7 111.7H486.8 M430.7 106.7V116.7 M486.8 106.7V116.7" stroke="#151515" stroke-width="1.3" fill="none"/>
<text x="462.5" y="130.2" font-family="'Liberation Serif', serif" font-size="15.8" stroke="#111" stroke-width="0.3" fill="#111" text-anchor="middle">1</text>
<path d="M55.3 224.0 L55.3 223.3 L56.0 221.9 L56.7 221.6 L57.4 221.2 L58.1 219.8 L58.8 220.1 L59.5 218.5 L60.2 216.9 L60.9 215.0 L61.6 214.5 L62.3 212.3 L63.0 209.9 L63.7 207.9 L64.4 205.6 L65.1 203.9 L65.8 201.0 L66.5 198.6 L67.2 197.2 L67.9 195.2 L68.6 194.2 L69.3 191.5 L70.0 190.3 L70.7 189.5 L71.4 191.1 L72.1 192.2 L72.8 192.3 L73.5 194.4 L74.2 198.2 L74.9 200.7 L75.6 205.1 L76.3 208.4 L77.0 211.0 L77.7 213.2 L78.4 215.5 L79.1 217.2 L79.8 217.2 L80.5 219.7 L81.2 220.5 L81.9 221.1 L82.6 221.1 L83.3 221.7 L84.0 222.2 L84.7 221.7 L85.4 222.0 L86.1 222.5 L86.8 222.4 L87.5 223.0 L88.2 223.0 L88.9 223.0 L89.6 223.4 L90.3 222.8 L91.0 223.1 L91.7 222.9 L92.4 222.7 L93.1 222.9 L93.8 222.7 L94.5 223.0 L95.2 222.8 L95.9 223.3 L96.6 223.3 L97.3 223.1 L98.0 223.3 L98.7 223.3 L99.4 222.6 L100.1 223.1 L100.8 223.3 L101.5 223.1 L102.2 223.0 L102.9 223.4 L103.6 223.5 L104.3 222.9 L105.0 222.9 L105.7 223.5 L106.4 223.2 L107.1 223.2 L107.8 223.0 L108.5 223.0 L109.2 223.2 L109.9 223.0 L110.6 222.9 L111.3 222.8 L112.0 223.4 L112.7 223.3 L113.4 223.2 L114.1 223.4 L114.8 223.4 L115.5 223.1 L116.2 223.3 L116.9 223.0 L117.6 222.9 L118.3 223.4 L119.0 223.5 L119.7 223.0 L120.4 222.7 L121.1 222.9 L121.8 223.2 L122.5 222.9 L123.2 223.3 L123.9 223.3 L124.6 222.8 L125.3 223.5 L126.0 223.3 L126.7 223.2 L127.4 222.8 L128.1 223.6 L128.8 223.5 L129.5 223.6 L130.2 223.2 L130.9 223.3 L131.6 223.5 L132.3 222.8 L133.0 223.3 L133.0 224.0 Z" fill="#111"/>
<path d="M44.9 223.2 L45.6 221.6 L46.3 220.5 L47.0 219.0 L47.7 217.8 L48.4 216.8 L49.1 215.0 L49.8 213.9 L50.5 211.9 L51.2 210.2 L51.9 208.8 L52.6 207.3 L53.3 205.6 L54.0 203.7 L54.7 201.9 L55.4 200.3 L56.1 199.5 L56.8 198.5 L57.5 196.4 L58.2 196.0 L58.9 195.2 L59.6 192.5 L60.3 191.2 L61.0 191.4 L61.7 192.9 L62.4 193.8 L63.1 191.9 L63.8 191.2 L64.5 191.8 L65.2 195.0 L65.9 196.9 L66.6 199.4 L67.3 201.6 L68.0 203.6 L68.7 205.2 L69.4 208.1 L70.1 209.3 L70.8 212.1 L71.5 214.0 L72.2 214.9 L72.9 216.7 L73.6 218.3 L74.3 220.0 L75.0 221.3 L75.7 222.0" fill="none" stroke="#b4b4b4" stroke-width="0.85"/>
<rect x="39.3" y="172.0" width="93.7" height="52.0" fill="none" stroke="#151515" stroke-width="1.5"/>
<line x1="38.9" y1="171.5" x2="38.9" y2="224.5" stroke="#111" stroke-width="1.3"/>
<line x1="38.3" y1="224.0" x2="133.5" y2="224.0" stroke="#111" stroke-width="2"/>
<path d="M36.3 172.0H39.3M37.5 174.1H39.3M37.5 176.2H39.3M37.5 178.2H39.3M37.5 180.3H39.3M36.3 182.4H39.3M37.5 184.5H39.3M37.5 186.6H39.3M37.5 188.6H39.3M37.5 190.7H39.3M36.3 192.8H39.3M37.5 194.9H39.3M37.5 197.0H39.3M37.5 199.0H39.3M37.5 201.1H39.3M36.3 203.2H39.3M37.5 205.3H39.3M37.5 207.4H39.3M37.5 209.4H39.3M37.5 211.5H39.3M36.3 213.6H39.3M37.5 215.7H39.3M37.5 217.8H39.3M37.5 219.8H39.3M37.5 221.9H39.3M36.3 224.0H39.3" stroke="#111" stroke-width="0.8"/>
<path d="M39.3 224.0V226.2M46.4 224.0V225.5M50.5 224.0V225.5M53.4 224.0V225.5M55.7 224.0V225.5M57.5 224.0V225.5M59.1 224.0V225.5M60.5 224.0V225.5M61.7 224.0V225.5M62.7 224.0V226.2M69.8 224.0V225.5M73.9 224.0V225.5M76.8 224.0V225.5M79.1 224.0V225.5M81.0 224.0V225.5M82.5 224.0V225.5M83.9 224.0V225.5M85.1 224.0V225.5M86.2 224.0V226.2M93.2 224.0V225.5M97.3 224.0V225.5M100.3 224.0V225.5M102.5 224.0V225.5M104.4 224.0V225.5M105.9 224.0V225.5M107.3 224.0V225.5M108.5 224.0V225.5M109.6 224.0V226.2M116.6 224.0V225.5M120.8 224.0V225.5M123.7 224.0V225.5M125.9 224.0V225.5M127.8 224.0V225.5M129.4 224.0V225.5M130.7 224.0V225.5M131.9 224.0V225.5M133.0 224.0V226.2" stroke="#111" stroke-width="0.9"/>
<text x="39.3" y="234.6" font-family="'Liberation Sans', sans-serif" font-size="6.5" font-weight="bold" fill="#222" text-anchor="middle">10<tspan font-size="5" dy="-2.9">0</tspan></text>
<text x="62.7" y="234.6" font-family="'Liberation Sans', sans-serif" font-size="6.5" font-weight="bold" fill="#222" text-anchor="middle">10<tspan font-size="5" dy="-2.9">1</tspan></text>
<text x="86.2" y="234.6" font-family="'Liberation Sans', sans-serif" font-size="6.5" font-weight="bold" fill="#222" text-anchor="middle">10<tspan font-size="5" dy="-2.9">2</tspan></text>
<text x="109.6" y="234.6" font-family="'Liberation Sans', sans-serif" font-size="6.5" font-weight="bold" fill="#222" text-anchor="middle">10<tspan font-size="5" dy="-2.9">3</tspan></text>
<text x="133.0" y="234.6" font-family="'Liberation Sans', sans-serif" font-size="6.5" font-weight="bold" fill="#222" text-anchor="middle">10<tspan font-size="5" dy="-2.9">4</tspan></text>
<path d="M73.7 187.0H133.0 M73.7 182.0V192.0 M133.0 182.0V192.0" stroke="#151515" stroke-width="1.3" fill="none"/>
<text x="110.7" y="204.7" font-family="'Liberation Serif', serif" font-size="15.8" stroke="#111" stroke-width="0.3" fill="#111" text-anchor="middle">12</text>
<path d="M160.0 222.8 L160.0 222.0 L160.7 222.4 L161.4 221.9 L162.1 222.2 L162.8 221.9 L163.5 222.0 L164.2 221.6 L164.9 221.5 L165.6 221.9 L166.3 221.6 L167.0 221.9 L167.7 221.9 L168.4 221.3 L169.1 221.2 L169.8 221.1 L170.5 221.8 L171.2 221.6 L171.9 221.5 L172.6 220.9 L173.3 221.0 L174.0 220.7 L174.7 220.8 L175.4 219.9 L176.1 219.9 L176.8 219.2 L177.5 218.4 L178.2 217.5 L178.9 217.1 L179.6 217.0 L180.3 214.5 L181.0 214.8 L181.7 212.0 L182.4 211.3 L183.1 208.3 L183.8 205.9 L184.5 203.0 L185.2 199.8 L185.9 194.9 L186.6 192.5 L187.3 187.6 L188.0 183.8 L188.7 180.3 L189.4 177.7 L190.1 178.3 L190.8 179.5 L191.5 180.6 L192.2 182.1 L192.9 184.9 L193.6 187.0 L194.3 189.7 L195.0 193.5 L195.7 197.4 L196.4 199.6 L197.1 202.5 L197.8 205.9 L198.5 209.1 L199.2 212.1 L199.9 213.8 L200.6 215.1 L201.3 217.7 L202.0 218.5 L202.7 219.5 L203.4 219.2 L204.1 220.1 L204.8 220.6 L205.5 220.5 L206.2 220.7 L206.9 221.0 L207.6 221.4 L208.3 220.9 L209.0 221.5 L209.7 221.3 L210.4 221.8 L211.1 221.8 L211.8 221.8 L212.5 221.4 L213.2 221.7 L213.9 221.6 L214.6 222.0 L215.3 221.9 L216.0 222.2 L216.7 222.1 L217.4 221.5 L218.1 222.1 L218.8 221.5 L219.5 222.0 L220.2 222.2 L220.9 222.0 L221.6 222.2 L222.3 222.2 L223.0 222.1 L223.7 222.0 L224.4 222.2 L225.1 221.7 L225.8 222.1 L226.5 222.3 L227.2 222.0 L227.9 221.8 L228.6 221.9 L229.3 221.9 L230.0 222.1 L230.7 221.9 L231.4 221.6 L232.1 222.1 L232.8 222.2 L233.5 222.1 L234.2 222.3 L234.9 221.8 L235.6 221.5 L236.3 221.6 L237.0 222.0 L237.7 222.4 L238.4 221.6 L239.1 222.0 L239.8 222.2 L240.5 222.3 L241.2 221.8 L241.9 222.0 L242.6 221.5 L243.3 221.7 L244.0 222.2 L244.7 221.9 L245.4 221.9 L246.1 221.6 L246.8 222.2 L247.5 222.4 L248.2 222.2 L248.9 221.9 L249.6 222.3 L250.0 222.8 Z" fill="#111"/>
<path d="M159.5 221.6 L160.2 221.0 L160.9 220.3 L161.6 219.4 L162.3 218.6 L163.0 218.7 L163.7 217.7 L164.4 216.6 L165.1 215.4 L165.8 213.3 L166.5 212.1 L167.2 210.8 L167.9 208.3 L168.6 206.0 L169.3 204.6 L170.0 202.2 L170.7 200.5 L171.4 198.3 L172.1 196.0 L172.8 194.0 L173.5 191.3 L174.2 189.7 L174.9 187.9 L175.6 186.1 L176.3 184.5 L177.0 183.3 L177.7 183.7 L178.4 184.2 L179.1 184.5 L179.8 185.6 L180.5 187.0 L181.2 188.6 L181.9 190.2 L182.6 191.4 L183.3 193.8 L184.0 195.7 L184.7 198.3 L185.4 199.8 L186.1 201.7 L186.8 203.9 L187.5 206.2 L188.2 207.4 L188.9 209.4 L189.6 211.4 L190.3 212.6 L191.0 213.8 L191.7 214.9 L192.4 216.6 L193.1 218.1 L193.8 219.0 L194.5 219.8 L195.2 220.7 L195.9 221.4" fill="none" stroke="#b4b4b4" stroke-width="0.85"/>
<rect x="157.5" y="172.0" width="93.3" height="50.8" fill="none" stroke="#151515" stroke-width="1.5"/>
<line x1="157.1" y1="171.5" x2="157.1" y2="223.3" stroke="#111" stroke-width="1.3"/>
<line x1="156.5" y1="222.8" x2="251.3" y2="222.8" stroke="#111" stroke-width="2"/>
<path d="M154.5 172.0H157.5M155.7 174.0H157.5M155.7 176.1H157.5M155.7 178.1H157.5M155.7 180.1H157.5M154.5 182.2H157.5M155.7 184.2H157.5M155.7 186.2H157.5M155.7 188.3H157.5M155.7 190.3H157.5M154.5 192.3H157.5M155.7 194.4H157.5M155.7 196.4H157.5M155.7 198.4H157.5M155.7 200.4H157.5M154.5 202.5H157.5M155.7 204.5H157.5M155.7 206.5H157.5M155.7 208.6H157.5M155.7 210.6H157.5M154.5 212.6H157.5M155.7 214.7H157.5M155.7 216.7H157.5M155.7 218.7H157.5M155.7 220.8H157.5M154.5 222.8H157.5" stroke="#111" stroke-width="0.8"/>
<path d="M157.5 222.8V225.0M164.5 222.8V224.3M168.6 222.8V224.3M171.5 222.8V224.3M173.8 222.8V224.3M175.7 222.8V224.3M177.2 222.8V224.3M178.6 222.8V224.3M179.8 222.8V224.3M180.8 222.8V225.0M187.8 222.8V224.3M192.0 222.8V224.3M194.9 222.8V224.3M197.1 222.8V224.3M199.0 222.8V224.3M200.5 222.8V224.3M201.9 222.8V224.3M203.1 222.8V224.3M204.2 222.8V225.0M211.2 222.8V224.3M215.3 222.8V224.3M218.2 222.8V224.3M220.5 222.8V224.3M222.3 222.8V224.3M223.9 222.8V224.3M225.2 222.8V224.3M226.4 222.8V224.3M227.5 222.8V225.0M234.5 222.8V224.3M238.6 222.8V224.3M241.5 222.8V224.3M243.8 222.8V224.3M245.6 222.8V224.3M247.2 222.8V224.3M248.5 222.8V224.3M249.7 222.8V224.3M250.8 222.8V225.0" stroke="#111" stroke-width="0.9"/>
<text x="157.5" y="233.4" font-family="'Liberation Sans', sans-serif" font-size="6.5" font-weight="bold" fill="#222" text-anchor="middle">10<tspan font-size="5" dy="-2.9">0</tspan></text>
<text x="180.8" y="233.4" font-family="'Liberation Sans', sans-serif" font-size="6.5" font-weight="bold" fill="#222" text-anchor="middle">10<tspan font-size="5" dy="-2.9">1</tspan></text>
<text x="204.2" y="233.4" font-family="'Liberation Sans', sans-serif" font-size="6.5" font-weight="bold" fill="#222" text-anchor="middle">10<tspan font-size="5" dy="-2.9">2</tspan></text>
<text x="227.5" y="233.4" font-family="'Liberation Sans', sans-serif" font-size="6.5" font-weight="bold" fill="#222" text-anchor="middle">10<tspan font-size="5" dy="-2.9">3</tspan></text>
<text x="250.8" y="233.4" font-family="'Liberation Sans', sans-serif" font-size="6.5" font-weight="bold" fill="#222" text-anchor="middle">10<tspan font-size="5" dy="-2.9">4</tspan></text>
<path d="M192.0 182.5H250.8 M192.0 177.5V187.5 M250.8 177.5V187.5" stroke="#151515" stroke-width="1.3" fill="none"/>
<text x="227.5" y="202.2" font-family="'Liberation Serif', serif" font-size="15.8" stroke="#111" stroke-width="0.3" fill="#111" text-anchor="middle">18</text>
<path d="M285.0 222.8 L285.0 221.7 L285.7 222.3 L286.4 221.9 L287.1 222.1 L287.8 222.1 L288.5 221.3 L289.2 221.8 L289.9 221.5 L290.6 221.3 L291.3 221.4 L292.0 221.3 L292.7 221.4 L293.4 220.7 L294.1 220.2 L294.8 220.5 L295.5 220.7 L296.2 219.8 L296.9 219.5 L297.6 219.7 L298.3 218.7 L299.0 218.4 L299.7 217.4 L300.4 216.2 L301.1 215.1 L301.8 214.5 L302.5 211.8 L303.2 209.2 L303.9 205.2 L304.6 202.3 L305.3 199.7 L306.0 198.7 L306.7 196.6 L307.4 195.9 L308.1 195.0 L308.8 196.0 L309.5 196.5 L310.2 197.0 L310.9 198.3 L311.6 200.4 L312.3 203.4 L313.0 203.9 L313.7 206.4 L314.4 208.4 L315.1 211.3 L315.8 212.9 L316.5 214.8 L317.2 215.6 L317.9 216.7 L318.6 218.9 L319.3 219.0 L320.0 219.5 L320.7 220.9 L321.4 221.6 L322.1 221.5 L322.8 222.2 L323.5 221.7 L324.2 221.9 L324.9 222.3 L325.6 222.4 L326.3 221.7 L327.0 222.4 L327.7 222.1 L328.4 222.2 L329.1 221.8 L329.8 221.9 L330.5 222.4 L331.2 221.9 L331.9 222.1 L332.6 222.4 L333.3 221.8 L334.0 222.6 L334.7 222.0 L335.4 222.5 L336.1 222.4 L336.8 222.5 L337.5 221.9 L338.2 221.9 L338.9 222.0 L339.6 222.6 L340.3 221.8 L341.0 222.4 L341.7 222.0 L342.4 222.2 L343.1 221.9 L343.8 222.4 L344.5 222.0 L345.2 222.4 L345.9 222.4 L346.6 222.1 L347.3 222.0 L348.0 222.4 L348.7 222.6 L349.4 222.3 L350.1 222.1 L350.8 221.9 L351.5 221.9 L352.2 221.9 L352.9 221.9 L353.6 222.2 L354.3 222.6 L355.0 222.0 L355.7 222.5 L356.4 222.5 L357.1 222.4 L357.8 222.2 L358.5 222.4 L359.2 222.1 L359.9 222.3 L360.6 222.5 L361.3 222.4 L362.0 222.4 L362.7 222.3 L363.4 222.4 L364.1 222.5 L364.8 222.1 L365.5 222.1 L366.2 222.2 L366.9 222.2 L367.6 222.7 L368.0 222.8 Z" fill="#111"/>
<path d="M279.6 222.1 L280.3 221.2 L281.0 220.8 L281.7 219.9 L282.4 218.9 L283.1 218.7 L283.8 217.9 L284.5 216.8 L285.2 216.4 L285.9 215.5 L286.6 214.6 L287.3 213.7 L288.0 212.8 L288.7 211.7 L289.4 210.5 L290.1 209.6 L290.8 208.9 L291.5 208.1 L292.2 206.7 L292.9 205.4 L293.6 204.7 L294.3 204.1 L295.0 204.2 L295.7 205.1 L296.4 205.1 L297.1 206.4 L297.8 207.1 L298.5 208.5 L299.2 209.3 L299.9 210.1 L300.6 210.7 L301.3 212.6 L302.0 213.0 L302.7 214.0 L303.4 215.0 L304.1 216.3 L304.8 217.1 L305.5 217.5 L306.2 219.0 L306.9 218.9 L307.6 220.0 L308.3 220.6 L309.0 220.7" fill="none" stroke="#b4b4b4" stroke-width="0.85"/>
<rect x="275.5" y="172.0" width="93.3" height="50.8" fill="none" stroke="#151515" stroke-width="1.5"/>
<line x1="275.1" y1="171.5" x2="275.1" y2="223.3" stroke="#111" stroke-width="1.3"/>
<line x1="274.5" y1="222.8" x2="369.3" y2="222.8" stroke="#111" stroke-width="2"/>
<path d="M272.5 172.0H275.5M273.7 174.0H275.5M273.7 176.1H275.5M273.7 178.1H275.5M273.7 180.1H275.5M272.5 182.2H275.5M273.7 184.2H275.5M273.7 186.2H275.5M273.7 188.3H275.5M273.7 190.3H275.5M272.5 192.3H275.5M273.7 194.4H275.5M273.7 196.4H275.5M273.7 198.4H275.5M273.7 200.4H275.5M272.5 202.5H275.5M273.7 204.5H275.5M273.7 206.5H275.5M273.7 208.6H275.5M273.7 210.6H275.5M272.5 212.6H275.5M273.7 214.7H275.5M273.7 216.7H275.5M273.7 218.7H275.5M273.7 220.8H275.5M272.5 222.8H275.5" stroke="#111" stroke-width="0.8"/>
<path d="M275.5 222.8V225.0M282.5 222.8V224.3M286.6 222.8V224.3M289.5 222.8V224.3M291.8 222.8V224.3M293.7 222.8V224.3M295.2 222.8V224.3M296.6 222.8V224.3M297.8 222.8V224.3M298.8 222.8V225.0M305.8 222.8V224.3M310.0 222.8V224.3M312.9 222.8V224.3M315.1 222.8V224.3M317.0 222.8V224.3M318.5 222.8V224.3M319.9 222.8V224.3M321.1 222.8V224.3M322.1 222.8V225.0M329.2 222.8V224.3M333.3 222.8V224.3M336.2 222.8V224.3M338.5 222.8V224.3M340.3 222.8V224.3M341.9 222.8V224.3M343.2 222.8V224.3M344.4 222.8V224.3M345.5 222.8V225.0M352.5 222.8V224.3M356.6 222.8V224.3M359.5 222.8V224.3M361.8 222.8V224.3M363.6 222.8V224.3M365.2 222.8V224.3M366.5 222.8V224.3M367.7 222.8V224.3M368.8 222.8V225.0" stroke="#111" stroke-width="0.9"/>
<text x="275.5" y="233.4" font-family="'Liberation Sans', sans-serif" font-size="6.5" font-weight="bold" fill="#222" text-anchor="middle">10<tspan font-size="5" dy="-2.9">0</tspan></text>
<text x="298.8" y="233.4" font-family="'Liberation Sans', sans-serif" font-size="6.5" font-weight="bold" fill="#222" text-anchor="middle">10<tspan font-size="5" dy="-2.9">1</tspan></text>
<text x="322.1" y="233.4" font-family="'Liberation Sans', sans-serif" font-size="6.5" font-weight="bold" fill="#222" text-anchor="middle">10<tspan font-size="5" dy="-2.9">2</tspan></text>
<text x="345.5" y="233.4" font-family="'Liberation Sans', sans-serif" font-size="6.5" font-weight="bold" fill="#222" text-anchor="middle">10<tspan font-size="5" dy="-2.9">3</tspan></text>
<text x="368.8" y="233.4" font-family="'Liberation Sans', sans-serif" font-size="6.5" font-weight="bold" fill="#222" text-anchor="middle">10<tspan font-size="5" dy="-2.9">4</tspan></text>
<path d="M311.0 185.8H368.8 M311.0 180.8V190.8 M368.8 180.8V190.8" stroke="#151515" stroke-width="1.3" fill="none"/>
<text x="344.2" y="205.2" font-family="'Liberation Serif', serif" font-size="15.8" stroke="#111" stroke-width="0.55" fill="#111" text-anchor="middle">26</text>
<path d="M400.0 222.8 L400.0 221.8 L400.7 222.3 L401.4 221.9 L402.1 221.8 L402.8 221.5 L403.5 222.0 L404.2 221.9 L404.9 221.5 L405.6 221.5 L406.3 221.3 L407.0 221.8 L407.7 221.9 L408.4 221.6 L409.1 221.0 L409.8 220.9 L410.5 221.4 L411.2 221.6 L411.9 221.3 L412.6 220.9 L413.3 220.7 L414.0 220.4 L414.7 219.8 L415.4 220.2 L416.1 219.0 L416.8 219.4 L417.5 218.8 L418.2 217.9 L418.9 217.1 L419.6 217.3 L420.3 216.1 L421.0 214.4 L421.7 212.7 L422.4 211.1 L423.1 208.5 L423.8 207.6 L424.5 203.8 L425.2 199.9 L425.9 197.2 L426.6 198.1 L427.3 199.1 L428.0 197.2 L428.7 196.5 L429.4 194.1 L430.1 195.9 L430.8 196.7 L431.5 200.0 L432.2 205.1 L432.9 205.6 L433.6 208.3 L434.3 210.0 L435.0 211.6 L435.7 212.6 L436.4 214.2 L437.1 215.6 L437.8 217.5 L438.5 218.5 L439.2 220.3 L439.9 219.9 L440.6 220.2 L441.3 221.2 L442.0 221.5 L442.7 222.0 L443.4 222.0 L444.1 222.2 L444.8 222.1 L445.5 222.0 L446.2 222.2 L446.9 222.4 L447.6 222.2 L448.3 222.4 L449.0 221.8 L449.7 222.0 L450.4 222.3 L451.1 222.0 L451.8 222.6 L452.5 221.8 L453.2 222.5 L453.9 222.1 L454.6 222.2 L455.3 222.3 L456.0 222.4 L456.7 222.1 L457.4 222.2 L458.1 222.2 L458.8 222.2 L459.5 222.2 L460.2 222.3 L460.9 221.9 L461.6 222.0 L462.3 222.3 L463.0 222.5 L463.7 222.3 L464.4 222.6 L465.1 222.5 L465.8 222.0 L466.5 222.6 L467.2 222.1 L467.9 222.1 L468.6 222.5 L469.3 222.3 L470.0 222.5 L470.7 222.4 L471.4 222.3 L472.1 222.5 L472.8 222.5 L473.5 222.6 L474.2 222.3 L474.9 222.5 L475.6 222.2 L476.3 222.6 L477.0 222.0 L477.7 222.2 L478.4 222.5 L479.1 222.4 L479.8 222.7 L480.5 222.4 L481.2 222.4 L481.9 222.0 L482.6 222.2 L483.3 222.4 L484.0 221.9 L484.7 221.9 L485.4 222.3 L486.1 222.5 L486.8 222.0 L487.0 222.8 Z" fill="#111"/>
<path d="M401.1 221.5 L401.8 220.7 L402.5 220.2 L403.2 219.4 L403.9 218.4 L404.6 218.0 L405.3 217.7 L406.0 216.9 L406.7 216.1 L407.4 214.9 L408.1 214.7 L408.8 214.2 L409.5 213.1 L410.2 211.5 L410.9 211.3 L411.6 210.4 L412.3 208.6 L413.0 208.4 L413.7 206.9 L414.4 205.4 L415.1 204.7 L415.8 204.5 L416.5 204.8 L417.2 205.0 L417.9 205.8 L418.6 206.9 L419.3 207.7 L420.0 208.9 L420.7 210.7 L421.4 211.8 L422.1 212.4 L422.8 213.7 L423.5 215.6 L424.2 216.4 L424.9 217.3 L425.6 218.7 L426.3 219.4 L427.0 219.9 L427.7 220.2 L428.4 220.8" fill="none" stroke="#b4b4b4" stroke-width="0.85"/>
<rect x="393.7" y="172.0" width="93.3" height="50.8" fill="none" stroke="#151515" stroke-width="1.5"/>
<line x1="393.3" y1="171.5" x2="393.3" y2="223.3" stroke="#111" stroke-width="1.3"/>
<line x1="392.7" y1="222.8" x2="487.5" y2="222.8" stroke="#111" stroke-width="2"/>
<path d="M390.7 172.0H393.7M391.9 174.0H393.7M391.9 176.1H393.7M391.9 178.1H393.7M391.9 180.1H393.7M390.7 182.2H393.7M391.9 184.2H393.7M391.9 186.2H393.7M391.9 188.3H393.7M391.9 190.3H393.7M390.7 192.3H393.7M391.9 194.4H393.7M391.9 196.4H393.7M391.9 198.4H393.7M391.9 200.4H393.7M390.7 202.5H393.7M391.9 204.5H393.7M391.9 206.5H393.7M391.9 208.6H393.7M391.9 210.6H393.7M390.7 212.6H393.7M391.9 214.7H393.7M391.9 216.7H393.7M391.9 218.7H393.7M391.9 220.8H393.7M390.7 222.8H393.7" stroke="#111" stroke-width="0.8"/>
<path d="M393.7 222.8V225.0M400.7 222.8V224.3M404.8 222.8V224.3M407.7 222.8V224.3M410.0 222.8V224.3M411.9 222.8V224.3M413.4 222.8V224.3M414.8 222.8V224.3M416.0 222.8V224.3M417.0 222.8V225.0M424.0 222.8V224.3M428.2 222.8V224.3M431.1 222.8V224.3M433.3 222.8V224.3M435.2 222.8V224.3M436.7 222.8V224.3M438.1 222.8V224.3M439.3 222.8V224.3M440.4 222.8V225.0M447.4 222.8V224.3M451.5 222.8V224.3M454.4 222.8V224.3M456.7 222.8V224.3M458.5 222.8V224.3M460.1 222.8V224.3M461.4 222.8V224.3M462.6 222.8V224.3M463.7 222.8V225.0M470.7 222.8V224.3M474.8 222.8V224.3M477.7 222.8V224.3M480.0 222.8V224.3M481.8 222.8V224.3M483.4 222.8V224.3M484.7 222.8V224.3M485.9 222.8V224.3M487.0 222.8V225.0" stroke="#111" stroke-width="0.9"/>
<text x="393.7" y="233.4" font-family="'Liberation Sans', sans-serif" font-size="6.5" font-weight="bold" fill="#222" text-anchor="middle">10<tspan font-size="5" dy="-2.9">0</tspan></text>
<text x="417.0" y="233.4" font-family="'Liberation Sans', sans-serif" font-size="6.5" font-weight="bold" fill="#222" text-anchor="middle">10<tspan font-size="5" dy="-2.9">1</tspan></text>
<text x="440.4" y="233.4" font-family="'Liberation Sans', sans-serif" font-size="6.5" font-weight="bold" fill="#222" text-anchor="middle">10<tspan font-size="5" dy="-2.9">2</tspan></text>
<text x="463.7" y="233.4" font-family="'Liberation Sans', sans-serif" font-size="6.5" font-weight="bold" fill="#222" text-anchor="middle">10<tspan font-size="5" dy="-2.9">3</tspan></text>
<text x="487.0" y="233.4" font-family="'Liberation Sans', sans-serif" font-size="6.5" font-weight="bold" fill="#222" text-anchor="middle">10<tspan font-size="5" dy="-2.9">4</tspan></text>
<path d="M429.5 186.3H487.0 M429.5 181.3V191.3 M487.0 181.3V191.3" stroke="#151515" stroke-width="1.3" fill="none"/>
<text x="463.0" y="204.4" font-family="'Liberation Sans', sans-serif" font-size="14.5" stroke="#111" stroke-width="0.2" fill="#111" text-anchor="middle">34</text>
<path d="M40.3 298.2 L40.3 296.8 L41.0 297.0 L41.7 296.8 L42.4 296.5 L43.1 295.2 L43.8 295.8 L44.5 294.5 L45.2 294.1 L45.9 293.4 L46.6 294.1 L47.3 292.5 L48.0 293.1 L48.7 290.9 L49.4 291.0 L50.1 290.5 L50.8 289.5 L51.5 288.8 L52.2 288.9 L52.9 286.9 L53.6 286.9 L54.3 286.3 L55.0 285.7 L55.7 283.9 L56.4 282.0 L57.1 281.5 L57.8 279.1 L58.5 279.5 L59.2 276.9 L59.9 276.3 L60.6 275.4 L61.3 274.5 L62.0 272.9 L62.7 271.2 L63.4 268.7 L64.1 268.1 L64.8 266.4 L65.5 264.1 L66.2 264.0 L66.9 263.5 L67.6 263.5 L68.3 265.0 L69.0 267.1 L69.7 268.6 L70.4 271.6 L71.1 272.9 L71.8 275.9 L72.5 278.9 L73.2 282.1 L73.9 284.2 L74.6 286.9 L75.3 287.4 L76.0 290.7 L76.7 291.9 L77.4 293.8 L78.1 294.2 L78.8 294.6 L79.5 295.0 L80.2 295.9 L80.9 295.4 L81.6 296.1 L82.3 296.4 L83.0 297.0 L83.7 296.4 L84.4 296.7 L85.1 296.6 L85.8 296.6 L86.5 296.8 L87.2 297.1 L87.9 297.3 L88.6 296.8 L89.3 296.9 L90.0 296.6 L90.7 297.2 L91.4 296.7 L92.1 297.0 L92.8 297.4 L93.5 297.1 L94.2 297.5 L94.9 296.9 L95.6 297.6 L96.3 297.5 L97.0 297.3 L97.7 297.1 L98.4 297.2 L99.1 297.6 L99.8 297.0 L100.5 297.1 L101.2 297.5 L101.9 297.3 L102.6 297.4 L103.3 297.3 L104.0 297.2 L104.7 297.0 L105.4 297.2 L106.1 297.1 L106.8 297.5 L107.5 297.1 L108.2 297.0 L108.9 297.1 L109.6 296.9 L110.3 296.9 L111.0 297.8 L111.7 297.5 L112.4 297.0 L113.1 297.3 L113.8 297.2 L114.5 297.0 L115.2 297.4 L115.9 297.2 L116.6 297.6 L117.3 297.6 L118.0 297.6 L118.7 297.3 L119.4 297.8 L120.1 297.0 L120.8 297.6 L121.5 297.5 L122.2 297.8 L122.9 297.5 L123.6 297.6 L124.3 297.8 L125.0 297.2 L125.7 297.9 L126.4 297.4 L127.1 297.7 L127.8 297.9 L128.5 297.3 L129.2 297.5 L129.9 297.8 L130.6 297.6 L131.3 297.8 L132.0 297.5 L132.0 298.2 Z" fill="#111"/>
<path d="M45.0 296.2 L45.7 295.0 L46.4 294.2 L47.1 292.8 L47.8 292.2 L48.5 290.4 L49.2 289.0 L49.9 287.5 L50.6 286.5 L51.3 285.4 L52.0 283.6 L52.7 281.8 L53.4 280.8 L54.1 278.6 L54.8 277.2 L55.5 275.9 L56.2 274.2 L56.9 272.4 L57.6 271.5 L58.3 269.6 L59.0 268.5 L59.7 266.3 L60.4 264.4 L61.1 264.4 L61.8 266.1 L62.5 267.5 L63.2 268.0 L63.9 269.3 L64.6 270.8 L65.3 273.1 L66.0 274.1 L66.7 275.4 L67.4 277.1 L68.1 279.1 L68.8 279.9 L69.5 282.1 L70.2 283.3 L70.9 285.0 L71.6 286.1 L72.3 287.3 L73.0 289.7 L73.7 291.2 L74.4 293.0 L75.1 294.2 L75.8 295.8" fill="none" stroke="#b4b4b4" stroke-width="0.85"/>
<rect x="39.5" y="246.2" width="93.0" height="52.0" fill="none" stroke="#151515" stroke-width="1.5"/>
<line x1="39.1" y1="245.7" x2="39.1" y2="298.7" stroke="#111" stroke-width="1.3"/>
<line x1="38.5" y1="298.2" x2="133.0" y2="298.2" stroke="#111" stroke-width="2"/>
<path d="M36.5 246.2H39.5M37.7 248.3H39.5M37.7 250.4H39.5M37.7 252.4H39.5M37.7 254.5H39.5M36.5 256.6H39.5M37.7 258.7H39.5M37.7 260.8H39.5M37.7 262.8H39.5M37.7 264.9H39.5M36.5 267.0H39.5M37.7 269.1H39.5M37.7 271.2H39.5M37.7 273.2H39.5M37.7 275.3H39.5M36.5 277.4H39.5M37.7 279.5H39.5M37.7 281.6H39.5M37.7 283.6H39.5M37.7 285.7H39.5M36.5 287.8H39.5M37.7 289.9H39.5M37.7 292.0H39.5M37.7 294.0H39.5M37.7 296.1H39.5M36.5 298.2H39.5" stroke="#111" stroke-width="0.8"/>
<path d="M39.5 298.2V300.4M46.5 298.2V299.7M50.6 298.2V299.7M53.5 298.2V299.7M55.8 298.2V299.7M57.6 298.2V299.7M59.1 298.2V299.7M60.5 298.2V299.7M61.7 298.2V299.7M62.8 298.2V300.4M69.7 298.2V299.7M73.8 298.2V299.7M76.7 298.2V299.7M79.0 298.2V299.7M80.8 298.2V299.7M82.4 298.2V299.7M83.7 298.2V299.7M84.9 298.2V299.7M86.0 298.2V300.4M93.0 298.2V299.7M97.1 298.2V299.7M100.0 298.2V299.7M102.3 298.2V299.7M104.1 298.2V299.7M105.6 298.2V299.7M107.0 298.2V299.7M108.2 298.2V299.7M109.2 298.2V300.4M116.2 298.2V299.7M120.3 298.2V299.7M123.2 298.2V299.7M125.5 298.2V299.7M127.3 298.2V299.7M128.9 298.2V299.7M130.2 298.2V299.7M131.4 298.2V299.7M132.5 298.2V300.4" stroke="#111" stroke-width="0.9"/>
<text x="39.5" y="308.8" font-family="'Liberation Sans', sans-serif" font-size="6.5" font-weight="bold" fill="#222" text-anchor="middle">10<tspan font-size="5" dy="-2.9">0</tspan></text>
<text x="62.8" y="308.8" font-family="'Liberation Sans', sans-serif" font-size="6.5" font-weight="bold" fill="#222" text-anchor="middle">10<tspan font-size="5" dy="-2.9">1</tspan></text>
<text x="86.0" y="308.8" font-family="'Liberation Sans', sans-serif" font-size="6.5" font-weight="bold" fill="#222" text-anchor="middle">10<tspan font-size="5" dy="-2.9">2</tspan></text>
<text x="109.2" y="308.8" font-family="'Liberation Sans', sans-serif" font-size="6.5" font-weight="bold" fill="#222" text-anchor="middle">10<tspan font-size="5" dy="-2.9">3</tspan></text>
<text x="132.5" y="308.8" font-family="'Liberation Sans', sans-serif" font-size="6.5" font-weight="bold" fill="#222" text-anchor="middle">10<tspan font-size="5" dy="-2.9">4</tspan></text>
<path d="M76.2 261.5H132.5 M76.2 256.5V266.5 M132.5 256.5V266.5" stroke="#151515" stroke-width="1.3" fill="none"/>
<text x="110.0" y="278.4" font-family="'Liberation Serif', serif" font-size="15.8" stroke="#111" stroke-width="0.3" fill="#111" text-anchor="middle">1</text>
<path d="M158.3 297.8 L158.3 295.4 L159.0 295.1 L159.7 295.0 L160.4 294.3 L161.1 294.6 L161.8 294.3 L162.5 294.7 L163.2 294.3 L163.9 293.8 L164.6 293.2 L165.3 293.2 L166.0 293.2 L166.7 292.9 L167.4 293.6 L168.1 292.9 L168.8 292.3 L169.5 292.1 L170.2 292.4 L170.9 292.3 L171.6 290.6 L172.3 291.4 L173.0 290.2 L173.7 290.9 L174.4 290.9 L175.1 289.3 L175.8 290.0 L176.5 288.7 L177.2 289.0 L177.9 287.4 L178.6 285.4 L179.3 285.2 L180.0 282.8 L180.7 280.4 L181.4 278.9 L182.1 278.1 L182.8 275.5 L183.5 273.7 L184.2 270.3 L184.9 268.9 L185.6 268.2 L186.3 266.4 L187.0 265.7 L187.7 265.3 L188.4 264.5 L189.1 265.9 L189.8 265.6 L190.5 268.2 L191.2 270.7 L191.9 272.2 L192.6 274.3 L193.3 277.6 L194.0 279.3 L194.7 282.6 L195.4 284.9 L196.1 287.1 L196.8 289.3 L197.5 289.7 L198.2 290.1 L198.9 292.1 L199.6 292.2 L200.3 292.6 L201.0 292.5 L201.7 293.0 L202.4 293.7 L203.1 293.6 L203.8 294.6 L204.5 293.7 L205.2 294.6 L205.9 294.6 L206.6 294.5 L207.3 294.9 L208.0 294.9 L208.7 294.5 L209.4 295.1 L210.1 294.4 L210.8 295.4 L211.5 295.5 L212.2 295.6 L212.9 294.8 L213.6 295.7 L214.3 295.1 L215.0 295.0 L215.7 295.0 L216.4 294.9 L217.1 295.2 L217.8 295.7 L218.5 295.5 L219.2 295.2 L219.9 295.4 L220.6 295.7 L221.3 295.0 L222.0 294.9 L222.7 295.0 L223.4 295.3 L224.1 295.4 L224.8 295.3 L225.5 295.4 L226.2 296.0 L226.9 295.6 L227.6 295.6 L228.3 295.7 L229.0 295.1 L229.7 296.0 L230.4 295.9 L231.1 295.2 L231.8 295.5 L232.5 295.6 L233.2 295.6 L233.9 296.0 L234.6 296.0 L235.3 295.5 L236.0 295.4 L236.7 295.3 L237.4 295.9 L238.1 295.1 L238.8 296.0 L239.5 295.6 L240.2 295.2 L240.9 295.4 L241.6 295.1 L242.3 296.1 L243.0 295.4 L243.7 296.0 L244.4 295.4 L245.1 295.4 L245.8 295.6 L246.5 295.2 L247.2 295.8 L247.9 295.6 L248.6 295.4 L249.3 295.7 L250.0 295.1 L250.7 295.9 L251.0 297.8 Z" fill="#111"/>
<path d="M160.6 293.9 L161.3 292.8 L162.0 291.9 L162.7 290.9 L163.4 289.9 L164.1 288.6 L164.8 287.6 L165.5 286.8 L166.2 285.4 L166.9 284.9 L167.6 283.2 L168.3 281.9 L169.0 281.2 L169.7 279.1 L170.4 278.1 L171.1 277.1 L171.8 274.8 L172.5 273.6 L173.2 272.6 L173.9 270.9 L174.6 269.7 L175.3 268.7 L176.0 266.7 L176.7 266.6 L177.4 264.9 L178.1 264.8 L178.8 266.0 L179.5 267.5 L180.2 268.5 L180.9 270.5 L181.6 271.9 L182.3 273.6 L183.0 275.4 L183.7 277.4 L184.4 278.5 L185.1 280.1 L185.8 281.4 L186.5 283.3 L187.2 284.3 L187.9 285.8 L188.6 286.8 L189.3 288.5 L190.0 290.1 L190.7 291.1 L191.4 292.6" fill="none" stroke="#b4b4b4" stroke-width="0.85"/>
<rect x="157.5" y="246.5" width="93.7" height="51.3" fill="none" stroke="#151515" stroke-width="1.5"/>
<line x1="157.1" y1="246.0" x2="157.1" y2="298.3" stroke="#111" stroke-width="1.3"/>
<line x1="156.5" y1="297.8" x2="251.7" y2="297.8" stroke="#111" stroke-width="2"/>
<path d="M154.5 246.5H157.5M155.7 248.6H157.5M155.7 250.6H157.5M155.7 252.7H157.5M155.7 254.7H157.5M154.5 256.8H157.5M155.7 258.8H157.5M155.7 260.9H157.5M155.7 262.9H157.5M155.7 265.0H157.5M154.5 267.0H157.5M155.7 269.1H157.5M155.7 271.1H157.5M155.7 273.2H157.5M155.7 275.2H157.5M154.5 277.3H157.5M155.7 279.3H157.5M155.7 281.4H157.5M155.7 283.4H157.5M155.7 285.5H157.5M154.5 287.5H157.5M155.7 289.6H157.5M155.7 291.6H157.5M155.7 293.7H157.5M155.7 295.7H157.5M154.5 297.8H157.5" stroke="#111" stroke-width="0.8"/>
<path d="M157.5 297.8V300.0M164.6 297.8V299.3M168.7 297.8V299.3M171.6 297.8V299.3M173.9 297.8V299.3M175.7 297.8V299.3M177.3 297.8V299.3M178.7 297.8V299.3M179.9 297.8V299.3M180.9 297.8V300.0M188.0 297.8V299.3M192.1 297.8V299.3M195.0 297.8V299.3M197.3 297.8V299.3M199.2 297.8V299.3M200.7 297.8V299.3M202.1 297.8V299.3M203.3 297.8V299.3M204.3 297.8V300.0M211.4 297.8V299.3M215.5 297.8V299.3M218.5 297.8V299.3M220.7 297.8V299.3M222.6 297.8V299.3M224.1 297.8V299.3M225.5 297.8V299.3M226.7 297.8V299.3M227.8 297.8V300.0M234.8 297.8V299.3M239.0 297.8V299.3M241.9 297.8V299.3M244.1 297.8V299.3M246.0 297.8V299.3M247.6 297.8V299.3M248.9 297.8V299.3M250.1 297.8V299.3M251.2 297.8V300.0" stroke="#111" stroke-width="0.9"/>
<text x="157.5" y="308.4" font-family="'Liberation Sans', sans-serif" font-size="6.5" font-weight="bold" fill="#222" text-anchor="middle">10<tspan font-size="5" dy="-2.9">0</tspan></text>
<text x="180.9" y="308.4" font-family="'Liberation Sans', sans-serif" font-size="6.5" font-weight="bold" fill="#222" text-anchor="middle">10<tspan font-size="5" dy="-2.9">1</tspan></text>
<text x="204.3" y="308.4" font-family="'Liberation Sans', sans-serif" font-size="6.5" font-weight="bold" fill="#222" text-anchor="middle">10<tspan font-size="5" dy="-2.9">2</tspan></text>
<text x="227.8" y="308.4" font-family="'Liberation Sans', sans-serif" font-size="6.5" font-weight="bold" fill="#222" text-anchor="middle">10<tspan font-size="5" dy="-2.9">3</tspan></text>
<text x="251.2" y="308.4" font-family="'Liberation Sans', sans-serif" font-size="6.5" font-weight="bold" fill="#222" text-anchor="middle">10<tspan font-size="5" dy="-2.9">4</tspan></text>
<path d="M191.2 261.2H251.2 M191.2 256.2V266.2 M251.2 256.2V266.2" stroke="#151515" stroke-width="1.3" fill="none"/>
<text x="226.2" y="280.2" font-family="'Liberation Serif', serif" font-size="15.8" stroke="#111" stroke-width="0.55" fill="#111" text-anchor="middle">6</text>
<path d="M276.0 297.0 L276.0 295.2 L276.7 294.2 L277.4 293.0 L278.1 293.0 L278.8 292.7 L279.5 292.1 L280.2 291.7 L280.9 291.1 L281.6 290.6 L282.3 290.7 L283.0 289.8 L283.7 288.9 L284.4 287.7 L285.1 285.3 L285.8 283.9 L286.5 284.3 L287.2 284.2 L287.9 284.4 L288.6 283.9 L289.3 282.8 L290.0 283.5 L290.7 284.4 L291.4 285.2 L292.1 284.5 L292.8 284.8 L293.5 282.0 L294.2 281.5 L294.9 279.6 L295.6 278.3 L296.3 277.1 L297.0 275.9 L297.7 275.8 L298.4 275.9 L299.1 274.7 L299.8 272.2 L300.5 270.8 L301.2 269.9 L301.9 268.9 L302.6 266.5 L303.3 266.4 L304.0 265.5 L304.7 265.1 L305.4 265.1 L306.1 265.6 L306.8 265.1 L307.5 267.1 L308.2 269.7 L308.9 272.8 L309.6 274.8 L310.3 276.4 L311.0 280.2 L311.7 282.2 L312.4 283.8 L313.1 287.4 L313.8 289.9 L314.5 291.5 L315.2 292.2 L315.9 292.7 L316.6 292.8 L317.3 293.9 L318.0 294.2 L318.7 294.1 L319.4 294.1 L320.1 294.6 L320.8 294.6 L321.5 295.0 L322.2 294.6 L322.9 295.1 L323.6 295.5 L324.3 295.4 L325.0 295.6 L325.7 295.9 L326.4 295.4 L327.1 295.6 L327.8 295.1 L328.5 295.5 L329.2 295.3 L329.9 295.0 L330.6 295.4 L331.3 295.5 L332.0 295.5 L332.7 295.2 L333.4 295.2 L334.1 295.7 L334.8 295.7 L335.5 295.3 L336.2 295.6 L336.9 295.9 L337.6 295.1 L338.3 295.4 L339.0 295.3 L339.7 295.4 L340.4 295.9 L341.1 295.5 L341.8 295.7 L342.5 295.9 L343.2 295.7 L343.9 295.4 L344.6 295.5 L345.3 295.7 L346.0 295.4 L346.7 295.3 L347.4 295.5 L348.1 296.0 L348.8 296.1 L349.5 295.3 L350.2 295.5 L350.9 295.6 L351.6 295.9 L352.3 295.9 L353.0 295.7 L353.7 295.5 L354.4 295.6 L355.1 295.8 L355.8 295.4 L356.5 295.9 L357.2 296.0 L357.9 295.9 L358.6 295.3 L359.3 295.8 L360.0 295.3 L360.7 296.2 L361.4 296.0 L362.1 296.1 L362.8 295.4 L363.5 295.4 L364.2 296.2 L364.9 295.6 L365.6 295.8 L366.3 295.7 L367.0 295.6 L367.7 295.4 L368.0 297.0 Z" fill="#111"/>
<path d="M283.0 289.2 L283.7 287.8 L284.4 286.5 L285.1 284.7 L285.8 282.8 L286.5 280.8 L287.2 279.7 L287.9 277.3 L288.6 275.3 L289.3 272.1 L290.0 269.9 L290.7 268.1 L291.4 266.9 L292.1 264.6 L292.8 263.8 L293.5 262.8 L294.2 262.5 L294.9 261.8 L295.6 260.6 L296.3 261.8 L297.0 263.6 L297.7 265.8 L298.4 267.4 L299.1 269.6 L299.8 271.2 L300.5 272.5 L301.2 273.6 L301.9 275.6 L302.6 276.3 L303.3 277.6 L304.0 279.5 L304.7 280.3 L305.4 281.9 L306.1 283.3 L306.8 283.5 L307.5 285.4 L308.2 285.8 L308.9 286.7 L309.6 287.7 L310.3 289.4 L311.0 290.4 L311.7 291.3 L312.4 292.5 L313.1 293.1" fill="none" stroke="#b4b4b4" stroke-width="0.85"/>
<rect x="275.5" y="245.8" width="93.3" height="51.2" fill="none" stroke="#151515" stroke-width="1.5"/>
<line x1="275.1" y1="245.3" x2="275.1" y2="297.5" stroke="#111" stroke-width="1.3"/>
<line x1="274.5" y1="297.0" x2="369.3" y2="297.0" stroke="#111" stroke-width="2"/>
<path d="M272.5 245.8H275.5M273.7 247.8H275.5M273.7 249.9H275.5M273.7 251.9H275.5M273.7 254.0H275.5M272.5 256.0H275.5M273.7 258.1H275.5M273.7 260.1H275.5M273.7 262.2H275.5M273.7 264.2H275.5M272.5 266.3H275.5M273.7 268.3H275.5M273.7 270.4H275.5M273.7 272.4H275.5M273.7 274.5H275.5M272.5 276.5H275.5M273.7 278.6H275.5M273.7 280.6H275.5M273.7 282.7H275.5M273.7 284.7H275.5M272.5 286.8H275.5M273.7 288.8H275.5M273.7 290.9H275.5M273.7 292.9H275.5M273.7 295.0H275.5M272.5 297.0H275.5" stroke="#111" stroke-width="0.8"/>
<path d="M275.5 297.0V299.2M282.5 297.0V298.5M286.6 297.0V298.5M289.5 297.0V298.5M291.8 297.0V298.5M293.7 297.0V298.5M295.2 297.0V298.5M296.6 297.0V298.5M297.8 297.0V298.5M298.8 297.0V299.2M305.8 297.0V298.5M310.0 297.0V298.5M312.9 297.0V298.5M315.1 297.0V298.5M317.0 297.0V298.5M318.5 297.0V298.5M319.9 297.0V298.5M321.1 297.0V298.5M322.1 297.0V299.2M329.2 297.0V298.5M333.3 297.0V298.5M336.2 297.0V298.5M338.5 297.0V298.5M340.3 297.0V298.5M341.9 297.0V298.5M343.2 297.0V298.5M344.4 297.0V298.5M345.5 297.0V299.2M352.5 297.0V298.5M356.6 297.0V298.5M359.5 297.0V298.5M361.8 297.0V298.5M363.6 297.0V298.5M365.2 297.0V298.5M366.5 297.0V298.5M367.7 297.0V298.5M368.8 297.0V299.2" stroke="#111" stroke-width="0.9"/>
<text x="275.5" y="307.6" font-family="'Liberation Sans', sans-serif" font-size="6.5" font-weight="bold" fill="#222" text-anchor="middle">10<tspan font-size="5" dy="-2.9">0</tspan></text>
<text x="298.8" y="307.6" font-family="'Liberation Sans', sans-serif" font-size="6.5" font-weight="bold" fill="#222" text-anchor="middle">10<tspan font-size="5" dy="-2.9">1</tspan></text>
<text x="322.1" y="307.6" font-family="'Liberation Sans', sans-serif" font-size="6.5" font-weight="bold" fill="#222" text-anchor="middle">10<tspan font-size="5" dy="-2.9">2</tspan></text>
<text x="345.5" y="307.6" font-family="'Liberation Sans', sans-serif" font-size="6.5" font-weight="bold" fill="#222" text-anchor="middle">10<tspan font-size="5" dy="-2.9">3</tspan></text>
<text x="368.8" y="307.6" font-family="'Liberation Sans', sans-serif" font-size="6.5" font-weight="bold" fill="#222" text-anchor="middle">10<tspan font-size="5" dy="-2.9">4</tspan></text>
<path d="M311.0 260.0H368.8 M311.0 255.0V265.0 M368.8 255.0V265.0" stroke="#151515" stroke-width="1.3" fill="none"/>
<text x="343.7" y="278.4" font-family="'Liberation Serif', serif" font-size="15.8" stroke="#111" stroke-width="0.55" fill="#111" text-anchor="middle">8</text>
<path d="M395.3 297.0 L395.3 294.4 L396.0 294.9 L396.7 294.6 L397.4 294.9 L398.1 294.6 L398.8 294.3 L399.5 294.6 L400.2 294.0 L400.9 293.7 L401.6 294.2 L402.3 293.9 L403.0 292.7 L403.7 292.9 L404.4 293.2 L405.1 292.2 L405.8 292.8 L406.5 292.1 L407.2 292.2 L407.9 291.6 L408.6 291.3 L409.3 291.4 L410.0 291.7 L410.7 291.8 L411.4 290.8 L412.1 290.4 L412.8 291.2 L413.5 291.1 L414.2 289.5 L414.9 288.7 L415.6 287.4 L416.3 287.6 L417.0 285.5 L417.7 284.3 L418.4 284.0 L419.1 280.8 L419.8 279.1 L420.5 279.4 L421.2 278.2 L421.9 276.6 L422.6 275.2 L423.3 274.5 L424.0 273.9 L424.7 272.6 L425.4 273.3 L426.1 273.1 L426.8 274.3 L427.5 275.4 L428.2 277.3 L428.9 278.9 L429.6 280.7 L430.3 282.0 L431.0 284.4 L431.7 286.2 L432.4 288.5 L433.1 290.2 L433.8 291.3 L434.5 292.4 L435.2 291.9 L435.9 293.4 L436.6 292.8 L437.3 293.0 L438.0 294.4 L438.7 294.1 L439.4 294.2 L440.1 294.3 L440.8 293.9 L441.5 294.7 L442.2 294.0 L442.9 294.3 L443.6 293.7 L444.3 293.9 L445.0 293.7 L445.7 294.6 L446.4 294.1 L447.1 294.7 L447.8 294.8 L448.5 294.4 L449.2 295.0 L449.9 294.0 L450.6 294.4 L451.3 294.6 L452.0 294.8 L452.7 294.2 L453.4 294.3 L454.1 295.1 L454.8 294.1 L455.5 294.9 L456.2 295.1 L456.9 294.3 L457.6 295.1 L458.3 294.3 L459.0 294.5 L459.7 295.0 L460.4 295.1 L461.1 294.4 L461.8 295.0 L462.5 294.9 L463.2 294.8 L463.9 294.5 L464.6 295.1 L465.3 295.1 L466.0 294.9 L466.7 295.0 L467.4 294.5 L468.1 295.1 L468.8 294.2 L469.5 294.4 L470.2 295.3 L470.9 295.1 L471.6 294.5 L472.3 295.2 L473.0 294.5 L473.7 294.8 L474.4 295.1 L475.1 294.4 L475.8 294.6 L476.5 294.4 L477.2 294.7 L477.9 294.6 L478.6 294.5 L479.3 294.9 L480.0 295.1 L480.7 294.7 L481.4 294.9 L482.1 295.1 L482.8 295.3 L483.5 294.4 L484.2 294.5 L484.9 295.2 L485.6 294.5 L486.3 295.4 L487.0 295.4 L487.0 297.0 Z" fill="#111"/>
<path d="M402.2 291.1 L402.9 290.2 L403.6 288.9 L404.3 288.3 L405.0 287.4 L405.7 286.7 L406.4 286.2 L407.1 285.0 L407.8 284.5 L408.5 283.9 L409.2 283.5 L409.9 282.6 L410.6 282.3 L411.3 281.2 L412.0 280.7 L412.7 279.7 L413.4 279.4 L414.1 279.3 L414.8 277.9 L415.5 277.9 L416.2 277.5 L416.9 279.0 L417.6 280.5 L418.3 282.1 L419.0 282.8 L419.7 284.7 L420.4 286.1 L421.1 287.3 L421.8 288.1 L422.5 289.1 L423.2 289.3 L423.9 290.0 L424.6 291.3 L425.3 292.0 L426.0 292.2 L426.7 292.9 L427.4 293.5" fill="none" stroke="#b4b4b4" stroke-width="0.85"/>
<rect x="393.7" y="246.5" width="93.3" height="50.5" fill="none" stroke="#151515" stroke-width="1.5"/>
<line x1="393.3" y1="246.0" x2="393.3" y2="297.5" stroke="#111" stroke-width="1.3"/>
<line x1="392.7" y1="297.0" x2="487.5" y2="297.0" stroke="#111" stroke-width="2"/>
<path d="M390.7 246.5H393.7M391.9 248.5H393.7M391.9 250.5H393.7M391.9 252.6H393.7M391.9 254.6H393.7M390.7 256.6H393.7M391.9 258.6H393.7M391.9 260.6H393.7M391.9 262.7H393.7M391.9 264.7H393.7M390.7 266.7H393.7M391.9 268.7H393.7M391.9 270.7H393.7M391.9 272.8H393.7M391.9 274.8H393.7M390.7 276.8H393.7M391.9 278.8H393.7M391.9 280.8H393.7M391.9 282.9H393.7M391.9 284.9H393.7M390.7 286.9H393.7M391.9 288.9H393.7M391.9 290.9H393.7M391.9 293.0H393.7M391.9 295.0H393.7M390.7 297.0H393.7" stroke="#111" stroke-width="0.8"/>
<path d="M393.7 297.0V299.2M400.7 297.0V298.5M404.8 297.0V298.5M407.7 297.0V298.5M410.0 297.0V298.5M411.9 297.0V298.5M413.4 297.0V298.5M414.8 297.0V298.5M416.0 297.0V298.5M417.0 297.0V299.2M424.0 297.0V298.5M428.2 297.0V298.5M431.1 297.0V298.5M433.3 297.0V298.5M435.2 297.0V298.5M436.7 297.0V298.5M438.1 297.0V298.5M439.3 297.0V298.5M440.4 297.0V299.2M447.4 297.0V298.5M451.5 297.0V298.5M454.4 297.0V298.5M456.7 297.0V298.5M458.5 297.0V298.5M460.1 297.0V298.5M461.4 297.0V298.5M462.6 297.0V298.5M463.7 297.0V299.2M470.7 297.0V298.5M474.8 297.0V298.5M477.7 297.0V298.5M480.0 297.0V298.5M481.8 297.0V298.5M483.4 297.0V298.5M484.7 297.0V298.5M485.9 297.0V298.5M487.0 297.0V299.2" stroke="#111" stroke-width="0.9"/>
<text x="393.7" y="307.6" font-family="'Liberation Sans', sans-serif" font-size="6.5" font-weight="bold" fill="#222" text-anchor="middle">10<tspan font-size="5" dy="-2.9">0</tspan></text>
<text x="417.0" y="307.6" font-family="'Liberation Sans', sans-serif" font-size="6.5" font-weight="bold" fill="#222" text-anchor="middle">10<tspan font-size="5" dy="-2.9">1</tspan></text>
<text x="440.4" y="307.6" font-family="'Liberation Sans', sans-serif" font-size="6.5" font-weight="bold" fill="#222" text-anchor="middle">10<tspan font-size="5" dy="-2.9">2</tspan></text>
<text x="463.7" y="307.6" font-family="'Liberation Sans', sans-serif" font-size="6.5" font-weight="bold" fill="#222" text-anchor="middle">10<tspan font-size="5" dy="-2.9">3</tspan></text>
<text x="487.0" y="307.6" font-family="'Liberation Sans', sans-serif" font-size="6.5" font-weight="bold" fill="#222" text-anchor="middle">10<tspan font-size="5" dy="-2.9">4</tspan></text>
<path d="M429.5 262.5H487.0 M429.5 257.5V267.5 M487.0 257.5V267.5" stroke="#151515" stroke-width="1.3" fill="none"/>
<text x="463.0" y="282.7" font-family="'Liberation Serif', serif" font-size="15.8" stroke="#111" stroke-width="0.3" fill="#111" text-anchor="middle">12</text>
<path d="M44.0 410.7 L44.0 410.3 L44.8 410.3 L44.8 410.1 L45.6 410.1 L45.6 408.2 L46.4 408.2 L46.4 408.9 L47.2 408.9 L47.2 409.6 L48.0 409.6 L48.0 409.7 L48.8 409.7 L48.8 408.7 L49.6 408.7 L49.6 407.6 L50.4 407.6 L50.4 407.4 L51.2 407.4 L51.2 407.5 L52.0 407.5 L52.0 407.3 L52.8 407.3 L52.8 406.8 L53.6 406.8 L53.6 407.3 L54.4 407.3 L54.4 409.4 L55.2 409.4 L55.2 409.4 L56.0 409.4 L56.0 408.8 L56.8 408.8 L56.8 408.7 L57.6 408.7 L57.6 406.7 L58.4 406.7 L58.4 408.6 L59.2 408.6 L59.2 407.4 L60.0 407.4 L60.0 409.0 L60.8 409.0 L60.8 409.0 L61.6 409.0 L61.6 408.9 L62.4 408.9 L62.4 406.7 L63.2 406.7 L63.2 407.0 L64.0 407.0 L64.0 406.8 L64.8 406.8 L64.8 407.6 L65.6 407.6 L65.6 407.8 L66.4 407.8 L66.4 407.2 L67.2 407.2 L67.2 409.2 L68.0 409.2 L68.0 409.6 L68.8 409.6 L68.8 408.9 L69.6 408.9 L69.6 408.2 L70.4 408.2 L70.4 409.0 L71.2 409.0 L71.2 408.8 L72.0 408.8 L72.0 407.6 L72.8 407.6 L72.8 408.6 L73.6 408.6 L73.6 407.0 L74.4 407.0 L74.4 409.8 L75.2 409.8 L75.2 407.5 L76.0 407.5 L76.0 408.7 L76.8 408.7 L76.8 409.4 L77.6 409.4 L77.6 407.9 L78.4 407.9 L78.4 408.0 L79.2 408.0 L79.2 407.0 L80.0 407.0 L80.0 409.4 L80.8 409.4 L80.8 408.4 L81.6 408.4 L81.6 409.2 L82.4 409.2 L82.4 409.3 L83.2 409.3 L83.2 407.3 L84.0 407.3 L84.0 409.6 L84.8 409.6 L84.8 408.3 L85.6 408.3 L85.6 407.9 L86.4 407.9 L86.4 409.1 L87.2 409.1 L87.2 406.9 L88.0 406.9 L88.0 407.8 L88.8 407.8 L88.8 408.2 L89.6 408.2 L89.6 407.6 L90.4 407.6 L90.0 410.7 Z" fill="#111"/>
<path d="M41.8 407.9 L42.5 406.9 L43.2 405.6 L43.9 403.7 L44.6 402.6 L45.3 401.4 L46.0 400.1 L46.7 399.0 L47.4 397.0 L48.1 396.0 L48.8 395.7 L49.5 394.4 L50.2 393.2 L50.9 392.3 L51.6 391.9 L52.3 391.1 L53.0 391.2 L53.7 390.8 L54.4 390.4 L55.1 390.5 L55.8 390.2 L56.5 390.8 L57.2 391.3 L57.9 392.6 L58.6 393.6 L59.3 393.7 L60.0 395.3 L60.7 396.0 L61.4 396.2 L62.1 397.4 L62.8 398.9 L63.5 399.0 L64.2 399.9 L64.9 401.1 L65.6 401.6 L66.3 402.5 L67.0 403.9 L67.7 404.9 L68.4 405.3 L69.1 405.4 L69.8 406.5 L70.5 406.5 L71.2 407.4 L71.9 407.5 L72.6 407.8 L73.3 408.6" fill="none" stroke="#b4b4b4" stroke-width="0.85"/>
<rect x="39.5" y="359.5" width="93.5" height="51.2" fill="none" stroke="#151515" stroke-width="1.5"/>
<line x1="39.1" y1="359.0" x2="39.1" y2="411.2" stroke="#111" stroke-width="1.3"/>
<line x1="38.5" y1="410.7" x2="133.5" y2="410.7" stroke="#111" stroke-width="2"/>
<path d="M36.5 359.5H39.5M37.7 361.5H39.5M37.7 363.6H39.5M37.7 365.6H39.5M37.7 367.7H39.5M36.5 369.7H39.5M37.7 371.8H39.5M37.7 373.8H39.5M37.7 375.9H39.5M37.7 377.9H39.5M36.5 380.0H39.5M37.7 382.0H39.5M37.7 384.1H39.5M37.7 386.1H39.5M37.7 388.2H39.5M36.5 390.2H39.5M37.7 392.3H39.5M37.7 394.3H39.5M37.7 396.4H39.5M37.7 398.4H39.5M36.5 400.5H39.5M37.7 402.5H39.5M37.7 404.6H39.5M37.7 406.6H39.5M37.7 408.7H39.5M36.5 410.7H39.5" stroke="#111" stroke-width="0.8"/>
<path d="M39.5 410.7V412.9M46.5 410.7V412.2M50.7 410.7V412.2M53.6 410.7V412.2M55.8 410.7V412.2M57.7 410.7V412.2M59.3 410.7V412.2M60.6 410.7V412.2M61.8 410.7V412.2M62.9 410.7V412.9M69.9 410.7V412.2M74.0 410.7V412.2M76.9 410.7V412.2M79.2 410.7V412.2M81.1 410.7V412.2M82.6 410.7V412.2M84.0 410.7V412.2M85.2 410.7V412.2M86.2 410.7V412.9M93.3 410.7V412.2M97.4 410.7V412.2M100.3 410.7V412.2M102.6 410.7V412.2M104.4 410.7V412.2M106.0 410.7V412.2M107.4 410.7V412.2M108.6 410.7V412.2M109.6 410.7V412.9M116.7 410.7V412.2M120.8 410.7V412.2M123.7 410.7V412.2M126.0 410.7V412.2M127.8 410.7V412.2M129.4 410.7V412.2M130.7 410.7V412.2M131.9 410.7V412.2M133.0 410.7V412.9" stroke="#111" stroke-width="0.9"/>
<text x="39.5" y="421.3" font-family="'Liberation Sans', sans-serif" font-size="6.5" font-weight="bold" fill="#222" text-anchor="middle">10<tspan font-size="5" dy="-2.9">0</tspan></text>
<text x="62.9" y="421.3" font-family="'Liberation Sans', sans-serif" font-size="6.5" font-weight="bold" fill="#222" text-anchor="middle">10<tspan font-size="5" dy="-2.9">1</tspan></text>
<text x="86.2" y="421.3" font-family="'Liberation Sans', sans-serif" font-size="6.5" font-weight="bold" fill="#222" text-anchor="middle">10<tspan font-size="5" dy="-2.9">2</tspan></text>
<text x="109.6" y="421.3" font-family="'Liberation Sans', sans-serif" font-size="6.5" font-weight="bold" fill="#222" text-anchor="middle">10<tspan font-size="5" dy="-2.9">3</tspan></text>
<text x="133.0" y="421.3" font-family="'Liberation Sans', sans-serif" font-size="6.5" font-weight="bold" fill="#222" text-anchor="middle">10<tspan font-size="5" dy="-2.9">4</tspan></text>
<path d="M74.5 373.0H133.0 M74.5 368.0V378.0 M133.0 368.0V378.0" stroke="#151515" stroke-width="1.3" fill="none"/>
<text x="110.5" y="392.2" font-family="'Liberation Sans', sans-serif" font-size="14.5" stroke="#111" stroke-width="0.2" fill="#111" text-anchor="middle">20</text>
<path d="M158.0 410.7 L158.0 409.7 L158.8 409.7 L158.8 409.6 L159.6 409.6 L159.6 409.7 L160.4 409.7 L160.4 408.8 L161.2 408.8 L161.2 407.6 L162.0 407.6 L162.0 408.8 L162.8 408.8 L162.8 408.8 L163.6 408.8 L163.6 408.5 L164.4 408.5 L164.4 409.7 L165.2 409.7 L165.2 408.6 L166.0 408.6 L166.0 409.5 L166.8 409.5 L166.8 409.3 L167.6 409.3 L167.6 407.7 L168.4 407.7 L168.4 408.6 L169.2 408.6 L169.2 407.8 L170.0 407.8 L170.0 410.0 L170.8 410.0 L170.8 408.4 L171.6 408.4 L171.6 409.6 L172.4 409.6 L172.4 409.9 L173.2 409.9 L173.2 409.1 L174.0 409.1 L174.0 408.9 L174.8 408.9 L174.8 409.3 L175.6 409.3 L175.6 407.8 L176.4 407.8 L176.4 408.3 L177.2 408.3 L177.2 408.8 L178.0 408.8 L178.0 409.4 L178.8 409.4 L178.8 408.5 L179.6 408.5 L179.6 408.7 L180.4 408.7 L180.4 408.4 L181.2 408.4 L181.2 410.0 L182.0 410.0 L182.0 410.1 L182.8 410.1 L182.8 409.1 L183.6 409.1 L183.6 408.3 L184.4 408.3 L184.4 408.6 L185.2 408.6 L185.2 408.4 L186.0 408.4 L186.0 408.9 L186.8 408.9 L186.8 408.6 L187.6 408.6 L187.6 409.2 L188.4 409.2 L188.4 408.8 L189.2 408.8 L189.2 407.7 L190.0 407.7 L190.0 407.6 L190.8 407.6 L190.8 409.6 L191.6 409.6 L191.6 409.5 L192.4 409.5 L192.4 410.0 L193.2 410.0 L193.2 409.3 L194.0 409.3 L194.0 409.7 L194.8 409.7 L194.8 409.3 L195.6 409.3 L195.6 407.8 L196.4 407.8 L196.4 409.3 L197.2 409.3 L197.2 409.0 L198.0 409.0 L198.0 407.6 L198.8 407.6 L198.8 408.1 L199.6 408.1 L199.6 409.3 L200.4 409.3 L200.4 408.5 L201.2 408.5 L201.2 408.1 L202.0 408.1 L202.0 408.3 L202.8 408.3 L202.8 409.3 L203.6 409.3 L203.6 408.9 L204.4 408.9 L204.4 409.5 L205.2 409.5 L205.2 408.1 L206.0 408.1 L206.0 409.5 L206.8 409.5 L206.8 407.6 L207.6 407.6 L207.6 409.7 L208.4 409.7 L208.4 407.7 L209.2 407.7 L209.2 409.3 L210.0 409.3 L210.0 409.4 L210.8 409.4 L210.8 408.3 L211.6 408.3 L211.6 408.4 L212.4 408.4 L212.4 409.0 L213.2 409.0 L213.2 409.8 L214.0 409.8 L214.0 410.0 L214.8 410.0 L214.8 409.6 L215.6 409.6 L215.6 408.3 L216.4 408.3 L216.4 407.8 L217.2 407.8 L217.2 408.3 L218.0 408.3 L218.0 409.2 L218.8 409.2 L218.8 408.4 L219.6 408.4 L219.6 408.0 L220.4 408.0 L220.4 409.2 L221.2 409.2 L221.2 409.4 L222.0 409.4 L222.0 407.5 L222.8 407.5 L222.8 409.1 L223.6 409.1 L223.6 407.5 L224.4 407.5 L224.4 408.1 L225.2 408.1 L225.2 408.5 L226.0 408.5 L226.0 408.4 L226.8 408.4 L226.8 407.4 L227.6 407.4 L227.6 409.7 L228.4 409.7 L228.4 408.4 L229.2 408.4 L229.2 407.5 L230.0 407.5 L230.0 407.7 L230.8 407.7 L230.8 407.3 L231.6 407.3 L231.6 408.8 L232.4 408.8 L232.4 407.9 L233.2 407.9 L233.2 409.0 L234.0 409.0 L234.0 408.5 L234.8 408.5 L234.8 407.7 L235.6 407.7 L235.6 408.3 L236.4 408.3 L236.4 408.1 L237.2 408.1 L237.2 409.0 L238.0 409.0 L238.0 408.0 L238.8 408.0 L238.8 408.5 L239.6 408.5 L239.6 409.0 L240.4 409.0 L240.4 407.7 L241.2 407.7 L241.2 409.2 L242.0 409.2 L242.0 409.3 L242.8 409.3 L242.8 408.7 L243.6 408.7 L243.6 408.7 L244.4 408.7 L244.4 409.8 L245.2 409.8 L245.2 408.8 L246.0 408.8 L246.0 409.1 L246.8 409.1 L246.8 408.0 L247.6 408.0 L247.6 408.9 L248.4 408.9 L248.4 408.5 L249.2 408.5 L249.2 409.8 L250.0 409.8 L250.0 409.0 L250.8 409.0 L250.0 410.7 Z" fill="#111"/>
<path d="M160.0 409.0 L160.7 408.9 L161.4 409.1 L162.1 408.9 L162.8 409.1 L163.5 408.9 L164.2 408.7 L164.9 408.8 L165.6 408.8 L166.3 409.1 L167.0 408.5 L167.7 408.6 L168.4 408.5 L169.1 408.9 L169.8 409.0 L170.5 408.8 L171.2 408.4 L171.9 408.6 L172.6 408.8 L173.3 408.5 L174.0 408.7 L174.7 408.6 L175.4 408.3 L176.1 408.8 L176.8 408.6 L177.5 408.8 L178.2 408.7 L178.9 408.5 L179.6 408.6 L180.3 408.9 L181.0 408.7 L181.7 408.6 L182.4 408.9 L183.1 409.0 L183.8 408.6 L184.5 408.9 L185.2 408.9 L185.9 408.9 L186.6 409.2 L187.3 408.8 L188.0 409.0 L188.7 408.9 L189.4 409.1" fill="none" stroke="#b4b4b4" stroke-width="0.85"/>
<rect x="157.0" y="359.5" width="93.8" height="51.2" fill="none" stroke="#151515" stroke-width="1.5"/>
<line x1="156.6" y1="359.0" x2="156.6" y2="411.2" stroke="#111" stroke-width="1.3"/>
<line x1="156.0" y1="410.7" x2="251.3" y2="410.7" stroke="#111" stroke-width="2"/>
<path d="M154.0 359.5H157.0M155.2 361.5H157.0M155.2 363.6H157.0M155.2 365.6H157.0M155.2 367.7H157.0M154.0 369.7H157.0M155.2 371.8H157.0M155.2 373.8H157.0M155.2 375.9H157.0M155.2 377.9H157.0M154.0 380.0H157.0M155.2 382.0H157.0M155.2 384.1H157.0M155.2 386.1H157.0M155.2 388.2H157.0M154.0 390.2H157.0M155.2 392.3H157.0M155.2 394.3H157.0M155.2 396.4H157.0M155.2 398.4H157.0M154.0 400.5H157.0M155.2 402.5H157.0M155.2 404.6H157.0M155.2 406.6H157.0M155.2 408.7H157.0M154.0 410.7H157.0" stroke="#111" stroke-width="0.8"/>
<path d="M157.0 410.7V412.9M164.1 410.7V412.2M168.2 410.7V412.2M171.1 410.7V412.2M173.4 410.7V412.2M175.2 410.7V412.2M176.8 410.7V412.2M178.2 410.7V412.2M179.4 410.7V412.2M180.4 410.7V412.9M187.5 410.7V412.2M191.6 410.7V412.2M194.6 410.7V412.2M196.8 410.7V412.2M198.7 410.7V412.2M200.3 410.7V412.2M201.6 410.7V412.2M202.8 410.7V412.2M203.9 410.7V412.9M211.0 410.7V412.2M215.1 410.7V412.2M218.0 410.7V412.2M220.3 410.7V412.2M222.1 410.7V412.2M223.7 410.7V412.2M225.1 410.7V412.2M226.3 410.7V412.2M227.4 410.7V412.9M234.4 410.7V412.2M238.5 410.7V412.2M241.5 410.7V412.2M243.7 410.7V412.2M245.6 410.7V412.2M247.2 410.7V412.2M248.5 410.7V412.2M249.7 410.7V412.2M250.8 410.7V412.9" stroke="#111" stroke-width="0.9"/>
<text x="157.0" y="421.3" font-family="'Liberation Sans', sans-serif" font-size="6.5" font-weight="bold" fill="#222" text-anchor="middle">10<tspan font-size="5" dy="-2.9">0</tspan></text>
<text x="180.4" y="421.3" font-family="'Liberation Sans', sans-serif" font-size="6.5" font-weight="bold" fill="#222" text-anchor="middle">10<tspan font-size="5" dy="-2.9">1</tspan></text>
<text x="203.9" y="421.3" font-family="'Liberation Sans', sans-serif" font-size="6.5" font-weight="bold" fill="#222" text-anchor="middle">10<tspan font-size="5" dy="-2.9">2</tspan></text>
<text x="227.4" y="421.3" font-family="'Liberation Sans', sans-serif" font-size="6.5" font-weight="bold" fill="#222" text-anchor="middle">10<tspan font-size="5" dy="-2.9">3</tspan></text>
<text x="250.8" y="421.3" font-family="'Liberation Sans', sans-serif" font-size="6.5" font-weight="bold" fill="#222" text-anchor="middle">10<tspan font-size="5" dy="-2.9">4</tspan></text>
<path d="M193.7 370.7H250.8 M193.7 365.7V375.7 M250.8 365.7V375.7" stroke="#151515" stroke-width="1.3" fill="none"/>
<text x="227.5" y="387.7" font-family="'Liberation Serif', serif" font-size="15.8" stroke="#111" stroke-width="0.3" fill="#111" text-anchor="middle">12</text>
<path d="M281.8 410.0 L281.8 408.8 L282.6 408.8 L282.6 407.9 L283.4 407.9 L283.4 406.4 L284.2 406.4 L284.2 404.8 L285.0 404.8 L285.0 405.3 L285.8 405.3 L285.8 403.1 L286.6 403.1 L286.6 401.7 L287.4 401.7 L287.4 403.2 L288.2 403.2 L288.2 401.3 L289.0 401.3 L289.0 400.1 L289.8 400.1 L289.8 397.4 L290.6 397.4 L290.6 400.3 L291.4 400.3 L291.4 397.8 L292.2 397.8 L292.2 397.6 L293.0 397.6 L293.0 399.9 L293.8 399.9 L293.8 400.3 L294.6 400.3 L294.6 398.3 L295.4 398.3 L295.4 399.3 L296.2 399.3 L296.2 398.6 L297.0 398.6 L297.0 398.0 L297.8 398.0 L297.8 400.0 L298.6 400.0 L298.6 397.5 L299.4 397.5 L299.4 396.8 L300.2 396.8 L300.2 399.7 L301.0 399.7 L301.0 397.4 L301.8 397.4 L301.8 396.2 L302.6 396.2 L302.6 397.0 L303.4 397.0 L303.4 399.4 L304.2 399.4 L304.2 400.3 L305.0 400.3 L305.0 401.7 L305.8 401.7 L305.8 399.2 L306.6 399.2 L306.6 400.2 L307.4 400.2 L307.4 402.8 L308.2 402.8 L308.2 403.6 L309.0 403.6 L309.0 402.9 L309.8 402.9 L309.8 403.4 L310.6 403.4 L310.6 404.2 L311.4 404.2 L311.4 405.1 L312.2 405.1 L312.2 405.5 L313.0 405.5 L313.0 405.8 L313.8 405.8 L313.8 406.3 L314.6 406.3 L314.6 406.0 L315.4 406.0 L315.4 407.2 L316.2 407.2 L316.2 406.5 L317.0 406.5 L317.0 407.3 L317.8 407.3 L317.8 407.2 L318.6 407.2 L318.6 406.6 L319.4 406.6 L319.4 406.5 L320.2 406.5 L320.2 405.1 L321.0 405.1 L321.0 404.5 L321.8 404.5 L321.8 406.7 L322.6 406.7 L322.6 407.7 L323.4 407.7 L323.4 407.5 L324.2 407.5 L324.2 407.1 L325.0 407.1 L325.0 405.4 L325.8 405.4 L325.8 405.9 L326.6 405.9 L326.6 405.1 L327.4 405.1 L327.4 407.6 L328.2 407.6 L328.2 408.2 L329.0 408.2 L329.0 407.9 L329.8 407.9 L329.8 407.8 L330.6 407.8 L330.6 408.0 L331.4 408.0 L331.4 408.3 L332.2 408.3 L332.2 408.5 L333.0 408.5 L333.0 408.4 L333.8 408.4 L333.8 408.8 L334.6 408.8 L334.6 409.0 L335.4 409.0 L335.0 410.0 Z" fill="#111"/>
<path d="M284.0 402.5 L284.7 401.4 L285.4 399.7 L286.1 398.4 L286.8 396.3 L287.5 394.8 L288.2 392.9 L288.9 391.2 L289.6 389.6 L290.3 388.6 L291.0 386.5 L291.7 384.6 L292.4 383.1 L293.1 380.8 L293.8 379.6 L294.5 378.4 L295.2 376.8 L295.9 374.5 L296.6 373.9 L297.3 373.6 L298.0 375.1 L298.7 375.7 L299.4 377.2 L300.1 378.5 L300.8 380.5 L301.5 382.8 L302.2 384.8 L302.9 386.8 L303.6 388.5 L304.3 390.6 L305.0 392.9 L305.7 395.1 L306.4 396.3 L307.1 398.2 L307.8 399.9 L308.5 401.1 L309.2 402.3 L309.9 403.7" fill="none" stroke="#b4b4b4" stroke-width="0.85"/>
<rect x="277.5" y="360.0" width="90.5" height="50.0" fill="none" stroke="#151515" stroke-width="1.5"/>
<line x1="277.1" y1="359.5" x2="277.1" y2="410.5" stroke="#111" stroke-width="1.3"/>
<line x1="276.5" y1="410.0" x2="368.5" y2="410.0" stroke="#111" stroke-width="2"/>
<path d="M274.5 360.0H277.5M275.7 362.0H277.5M275.7 364.0H277.5M275.7 366.0H277.5M275.7 368.0H277.5M274.5 370.0H277.5M275.7 372.0H277.5M275.7 374.0H277.5M275.7 376.0H277.5M275.7 378.0H277.5M274.5 380.0H277.5M275.7 382.0H277.5M275.7 384.0H277.5M275.7 386.0H277.5M275.7 388.0H277.5M274.5 390.0H277.5M275.7 392.0H277.5M275.7 394.0H277.5M275.7 396.0H277.5M275.7 398.0H277.5M274.5 400.0H277.5M275.7 402.0H277.5M275.7 404.0H277.5M275.7 406.0H277.5M275.7 408.0H277.5M274.5 410.0H277.5" stroke="#111" stroke-width="0.8"/>
<path d="M277.5 410.0V412.2M284.3 410.0V411.5M288.3 410.0V411.5M291.1 410.0V411.5M293.3 410.0V411.5M295.1 410.0V411.5M296.6 410.0V411.5M297.9 410.0V411.5M299.1 410.0V411.5M300.1 410.0V412.2M306.9 410.0V411.5M310.9 410.0V411.5M313.7 410.0V411.5M315.9 410.0V411.5M317.7 410.0V411.5M319.2 410.0V411.5M320.6 410.0V411.5M321.7 410.0V411.5M322.8 410.0V412.2M329.6 410.0V411.5M333.5 410.0V411.5M336.4 410.0V411.5M338.6 410.0V411.5M340.4 410.0V411.5M341.9 410.0V411.5M343.2 410.0V411.5M344.3 410.0V411.5M345.4 410.0V412.2M352.2 410.0V411.5M356.2 410.0V411.5M359.0 410.0V411.5M361.2 410.0V411.5M363.0 410.0V411.5M364.5 410.0V411.5M365.8 410.0V411.5M367.0 410.0V411.5M368.0 410.0V412.2" stroke="#111" stroke-width="0.9"/>
<text x="277.5" y="420.6" font-family="'Liberation Sans', sans-serif" font-size="6.5" font-weight="bold" fill="#222" text-anchor="middle">10<tspan font-size="5" dy="-2.9">0</tspan></text>
<text x="300.1" y="420.6" font-family="'Liberation Sans', sans-serif" font-size="6.5" font-weight="bold" fill="#222" text-anchor="middle">10<tspan font-size="5" dy="-2.9">1</tspan></text>
<text x="322.8" y="420.6" font-family="'Liberation Sans', sans-serif" font-size="6.5" font-weight="bold" fill="#222" text-anchor="middle">10<tspan font-size="5" dy="-2.9">2</tspan></text>
<text x="345.4" y="420.6" font-family="'Liberation Sans', sans-serif" font-size="6.5" font-weight="bold" fill="#222" text-anchor="middle">10<tspan font-size="5" dy="-2.9">3</tspan></text>
<text x="368.0" y="420.6" font-family="'Liberation Sans', sans-serif" font-size="6.5" font-weight="bold" fill="#222" text-anchor="middle">10<tspan font-size="5" dy="-2.9">4</tspan></text>
<path d="M313.0 371.2H368.0 M313.0 366.2V376.2 M368.0 366.2V376.2" stroke="#151515" stroke-width="1.3" fill="none"/>
<text x="343.7" y="388.9" font-family="'Liberation Serif', serif" font-size="15.8" stroke="#111" stroke-width="0.55" fill="#111" text-anchor="middle">6</text>
<path d="M398.0 407.0 L398.0 406.0 L398.7 405.2 L399.4 404.8 L400.1 405.0 L400.8 404.7 L401.5 403.8 L402.2 402.3 L402.9 403.0 L403.6 402.0 L404.3 400.5 L405.0 399.8 L405.7 399.4 L406.4 398.9 L407.1 399.2 L407.8 398.1 L408.5 398.8 L409.2 397.1 L409.9 397.2 L410.6 397.0 L411.3 395.6 L412.0 393.7 L412.7 393.3 L413.4 392.7 L414.1 392.3 L414.8 392.3 L415.5 390.6 L416.2 390.4 L416.9 391.5 L417.6 392.3 L418.3 392.4 L419.0 391.7 L419.7 391.4 L420.4 392.3 L421.1 391.0 L421.8 390.2 L422.5 389.4 L423.2 390.9 L423.9 390.8 L424.6 391.5 L425.3 392.3 L426.0 393.6 L426.7 394.0 L427.4 396.6 L428.1 397.5 L428.8 398.1 L429.5 399.1 L430.2 399.3 L430.9 400.5 L431.6 400.7 L432.3 401.5 L433.0 403.6 L433.7 403.1 L434.4 401.7 L435.1 401.2 L435.8 401.8 L436.5 401.2 L437.2 400.2 L437.9 399.7 L438.6 400.5 L439.3 401.6 L440.0 402.0 L440.7 401.1 L441.4 399.7 L442.1 399.7 L442.8 399.1 L443.5 399.5 L444.2 400.1 L444.9 400.6 L445.6 401.0 L446.3 402.2 L447.0 402.6 L447.7 403.2 L448.4 402.0 L449.1 403.1 L449.8 403.4 L450.5 403.3 L451.2 403.9 L451.9 403.0 L452.6 403.3 L453.3 404.5 L454.0 404.4 L454.7 403.8 L455.4 404.1 L456.1 404.3 L456.8 404.7 L457.5 404.7 L458.2 404.9 L458.9 404.7 L459.6 405.0 L460.3 405.1 L461.0 405.0 L461.7 404.3 L462.4 404.6 L463.1 404.5 L463.8 404.8 L464.5 405.3 L465.2 405.0 L465.9 405.2 L466.6 405.6 L467.3 405.6 L468.0 406.1 L468.7 405.3 L469.4 406.0 L470.0 407.0 Z" fill="#111"/>
<path d="M400.0 405.6 L400.7 405.1 L401.4 404.3 L402.1 404.0 L402.8 403.2 L403.5 402.7 L404.2 400.8 L404.9 400.4 L405.6 398.6 L406.3 397.8 L407.0 396.9 L407.7 395.8 L408.4 394.5 L409.1 393.1 L409.8 392.6 L410.5 390.5 L411.2 390.0 L411.9 388.3 L412.6 386.6 L413.3 385.1 L414.0 383.7 L414.7 383.2 L415.4 383.4 L416.1 383.5 L416.8 383.4 L417.5 383.4 L418.2 383.8 L418.9 384.1 L419.6 384.9 L420.3 385.9 L421.0 386.7 L421.7 386.9 L422.4 387.7 L423.1 389.0 L423.8 389.4 L424.5 390.7 L425.2 392.0 L425.9 393.0 L426.6 393.3 L427.3 395.0 L428.0 396.0 L428.7 396.6 L429.4 398.3 L430.1 399.8 L430.8 400.5 L431.5 401.6 L432.2 402.5 L432.9 402.9 L433.6 403.6 L434.3 403.7 L435.0 404.7 L435.7 405.3" fill="none" stroke="#b4b4b4" stroke-width="0.85"/>
<rect x="395.0" y="358.2" width="92.0" height="48.8" fill="none" stroke="#151515" stroke-width="1.5"/>
<line x1="394.6" y1="357.7" x2="394.6" y2="407.5" stroke="#111" stroke-width="1.3"/>
<line x1="394.0" y1="407.0" x2="487.5" y2="407.0" stroke="#111" stroke-width="2"/>
<path d="M392.0 358.2H395.0M393.2 360.2H395.0M393.2 362.1H395.0M393.2 364.1H395.0M393.2 366.0H395.0M392.0 368.0H395.0M393.2 369.9H395.0M393.2 371.9H395.0M393.2 373.8H395.0M393.2 375.8H395.0M392.0 377.7H395.0M393.2 379.7H395.0M393.2 381.6H395.0M393.2 383.6H395.0M393.2 385.5H395.0M392.0 387.5H395.0M393.2 389.4H395.0M393.2 391.4H395.0M393.2 393.3H395.0M393.2 395.3H395.0M392.0 397.2H395.0M393.2 399.2H395.0M393.2 401.1H395.0M393.2 403.1H395.0M393.2 405.0H395.0M392.0 407.0H395.0" stroke="#111" stroke-width="0.8"/>
<path d="M395.0 407.0V409.2M401.9 407.0V408.5M406.0 407.0V408.5M408.8 407.0V408.5M411.1 407.0V408.5M412.9 407.0V408.5M414.4 407.0V408.5M415.8 407.0V408.5M416.9 407.0V408.5M418.0 407.0V409.2M424.9 407.0V408.5M429.0 407.0V408.5M431.8 407.0V408.5M434.1 407.0V408.5M435.9 407.0V408.5M437.4 407.0V408.5M438.8 407.0V408.5M439.9 407.0V408.5M441.0 407.0V409.2M447.9 407.0V408.5M452.0 407.0V408.5M454.8 407.0V408.5M457.1 407.0V408.5M458.9 407.0V408.5M460.4 407.0V408.5M461.8 407.0V408.5M462.9 407.0V408.5M464.0 407.0V409.2M470.9 407.0V408.5M475.0 407.0V408.5M477.8 407.0V408.5M480.1 407.0V408.5M481.9 407.0V408.5M483.4 407.0V408.5M484.8 407.0V408.5M485.9 407.0V408.5M487.0 407.0V409.2" stroke="#111" stroke-width="0.9"/>
<text x="395.0" y="417.6" font-family="'Liberation Sans', sans-serif" font-size="6.5" font-weight="bold" fill="#222" text-anchor="middle">10<tspan font-size="5" dy="-2.9">0</tspan></text>
<text x="418.0" y="417.6" font-family="'Liberation Sans', sans-serif" font-size="6.5" font-weight="bold" fill="#222" text-anchor="middle">10<tspan font-size="5" dy="-2.9">1</tspan></text>
<text x="441.0" y="417.6" font-family="'Liberation Sans', sans-serif" font-size="6.5" font-weight="bold" fill="#222" text-anchor="middle">10<tspan font-size="5" dy="-2.9">2</tspan></text>
<text x="464.0" y="417.6" font-family="'Liberation Sans', sans-serif" font-size="6.5" font-weight="bold" fill="#222" text-anchor="middle">10<tspan font-size="5" dy="-2.9">3</tspan></text>
<text x="487.0" y="417.6" font-family="'Liberation Sans', sans-serif" font-size="6.5" font-weight="bold" fill="#222" text-anchor="middle">10<tspan font-size="5" dy="-2.9">4</tspan></text>
<path d="M435.0 372.5H487.0 M435.0 367.5V377.5 M487.0 367.5V377.5" stroke="#151515" stroke-width="1.3" fill="none"/>
<text x="462.5" y="392.2" font-family="'Liberation Serif', serif" font-size="15.8" stroke="#111" stroke-width="0.55" fill="#111" text-anchor="middle">9</text>
<path d="M57.0 482.7 L57.0 480.8 L57.7 481.0 L58.4 480.1 L59.1 480.7 L59.8 479.8 L60.5 480.0 L61.2 479.7 L61.9 479.6 L62.6 479.3 L63.3 479.9 L64.0 480.0 L64.7 480.2 L65.4 479.9 L66.1 479.7 L66.8 479.4 L67.5 479.3 L68.2 480.3 L68.9 479.6 L69.6 479.2 L70.3 479.4 L71.0 480.3 L71.7 480.3 L72.4 479.2 L73.1 479.7 L73.8 479.6 L74.5 479.4 L75.2 477.4 L75.9 476.8 L76.6 477.2 L77.3 476.3 L78.0 475.5 L78.7 474.6 L79.4 474.7 L80.1 473.5 L80.8 473.9 L81.5 471.9 L82.2 471.6 L82.9 471.8 L83.6 470.6 L84.3 471.2 L85.0 470.9 L85.7 470.0 L86.4 469.8 L87.1 470.3 L87.8 469.3 L88.5 468.9 L89.2 470.0 L89.9 469.7 L90.6 470.3 L91.3 469.9 L92.0 470.3 L92.7 471.2 L93.4 472.9 L94.1 472.7 L94.8 475.7 L95.5 476.3 L96.2 476.3 L96.9 476.9 L97.6 477.6 L98.3 477.7 L99.0 478.5 L99.7 478.7 L100.4 478.0 L101.1 478.1 L101.8 478.2 L102.5 478.8 L103.2 479.7 L103.9 479.1 L104.6 479.4 L105.3 479.7 L106.0 479.1 L106.7 480.0 L107.4 480.2 L108.1 479.7 L108.8 480.6 L109.5 481.1 L110.2 481.4 L110.9 481.4 L111.6 481.0 L112.3 482.1 L113.0 482.2 L113.0 482.7 Z" fill="#111"/>
<path d="M47.0 481.6 L47.7 480.9 L48.4 480.7 L49.1 480.3 L49.8 480.0 L50.5 479.7 L51.2 479.2 L51.9 478.1 L52.6 477.0 L53.3 476.0 L54.0 475.8 L54.7 474.3 L55.4 473.8 L56.1 472.5 L56.8 472.2 L57.5 471.1 L58.2 470.5 L58.9 468.8 L59.6 468.8 L60.3 467.7 L61.0 467.5 L61.7 466.0 L62.4 465.3 L63.1 465.2 L63.8 466.0 L64.5 466.8 L65.2 467.5 L65.9 467.5 L66.6 468.9 L67.3 468.9 L68.0 470.2 L68.7 470.7 L69.4 472.0 L70.1 472.7 L70.8 473.2 L71.5 474.5 L72.2 474.8 L72.9 475.9 L73.6 476.7 L74.3 477.6 L75.0 478.9 L75.7 479.2 L76.4 480.1" fill="none" stroke="#b4b4b4" stroke-width="0.85"/>
<rect x="39.5" y="431.5" width="93.5" height="51.2" fill="none" stroke="#151515" stroke-width="1.5"/>
<line x1="39.1" y1="431.0" x2="39.1" y2="483.2" stroke="#111" stroke-width="1.3"/>
<line x1="38.5" y1="482.7" x2="133.5" y2="482.7" stroke="#111" stroke-width="2"/>
<path d="M36.5 431.5H39.5M37.7 433.5H39.5M37.7 435.6H39.5M37.7 437.6H39.5M37.7 439.7H39.5M36.5 441.7H39.5M37.7 443.8H39.5M37.7 445.8H39.5M37.7 447.9H39.5M37.7 449.9H39.5M36.5 452.0H39.5M37.7 454.0H39.5M37.7 456.1H39.5M37.7 458.1H39.5M37.7 460.2H39.5M36.5 462.2H39.5M37.7 464.3H39.5M37.7 466.3H39.5M37.7 468.4H39.5M37.7 470.4H39.5M36.5 472.5H39.5M37.7 474.5H39.5M37.7 476.6H39.5M37.7 478.6H39.5M37.7 480.7H39.5M36.5 482.7H39.5" stroke="#111" stroke-width="0.8"/>
<path d="M39.5 482.7V484.9M46.5 482.7V484.2M50.7 482.7V484.2M53.6 482.7V484.2M55.8 482.7V484.2M57.7 482.7V484.2M59.3 482.7V484.2M60.6 482.7V484.2M61.8 482.7V484.2M62.9 482.7V484.9M69.9 482.7V484.2M74.0 482.7V484.2M76.9 482.7V484.2M79.2 482.7V484.2M81.1 482.7V484.2M82.6 482.7V484.2M84.0 482.7V484.2M85.2 482.7V484.2M86.2 482.7V484.9M93.3 482.7V484.2M97.4 482.7V484.2M100.3 482.7V484.2M102.6 482.7V484.2M104.4 482.7V484.2M106.0 482.7V484.2M107.4 482.7V484.2M108.6 482.7V484.2M109.6 482.7V484.9M116.7 482.7V484.2M120.8 482.7V484.2M123.7 482.7V484.2M126.0 482.7V484.2M127.8 482.7V484.2M129.4 482.7V484.2M130.7 482.7V484.2M131.9 482.7V484.2M133.0 482.7V484.9" stroke="#111" stroke-width="0.9"/>
<text x="39.5" y="493.3" font-family="'Liberation Sans', sans-serif" font-size="6.5" font-weight="bold" fill="#222" text-anchor="middle">10<tspan font-size="5" dy="-2.9">0</tspan></text>
<text x="62.9" y="493.3" font-family="'Liberation Sans', sans-serif" font-size="6.5" font-weight="bold" fill="#222" text-anchor="middle">10<tspan font-size="5" dy="-2.9">1</tspan></text>
<text x="86.2" y="493.3" font-family="'Liberation Sans', sans-serif" font-size="6.5" font-weight="bold" fill="#222" text-anchor="middle">10<tspan font-size="5" dy="-2.9">2</tspan></text>
<text x="109.6" y="493.3" font-family="'Liberation Sans', sans-serif" font-size="6.5" font-weight="bold" fill="#222" text-anchor="middle">10<tspan font-size="5" dy="-2.9">3</tspan></text>
<text x="133.0" y="493.3" font-family="'Liberation Sans', sans-serif" font-size="6.5" font-weight="bold" fill="#222" text-anchor="middle">10<tspan font-size="5" dy="-2.9">4</tspan></text>
<path d="M74.5 445.0H133.0 M74.5 440.0V450.0 M133.0 440.0V450.0" stroke="#151515" stroke-width="1.3" fill="none"/>
<text x="110.5" y="463.4" font-family="'Liberation Serif', serif" font-size="15.8" stroke="#111" stroke-width="0.3" fill="#111" text-anchor="middle">85</text>
<path d="M160.0 482.7 L160.0 481.2 L160.8 481.2 L160.8 481.8 L161.6 481.8 L161.6 480.9 L162.4 480.9 L162.4 480.2 L163.2 480.2 L163.2 480.1 L164.0 480.1 L164.0 480.0 L164.8 480.0 L164.8 480.9 L165.6 480.9 L165.6 479.4 L166.4 479.4 L166.4 480.4 L167.2 480.4 L167.2 479.4 L168.0 479.4 L168.0 479.0 L168.8 479.0 L168.8 480.4 L169.6 480.4 L169.6 478.8 L170.4 478.8 L170.4 479.2 L171.2 479.2 L171.2 479.4 L172.0 479.4 L172.0 479.5 L172.8 479.5 L172.8 479.9 L173.6 479.9 L173.6 480.4 L174.4 480.4 L174.4 480.3 L175.2 480.3 L175.2 480.2 L176.0 480.2 L176.0 479.7 L176.8 479.7 L176.8 479.9 L177.6 479.9 L177.6 479.5 L178.4 479.5 L178.4 480.0 L179.2 480.0 L179.2 478.8 L180.0 478.8 L180.0 477.3 L180.8 477.3 L180.8 477.1 L181.6 477.1 L181.6 479.6 L182.4 479.6 L182.4 477.6 L183.2 477.6 L183.2 477.5 L184.0 477.5 L184.0 478.1 L184.8 478.1 L184.8 477.1 L185.6 477.1 L185.6 478.1 L186.4 478.1 L186.4 478.8 L187.2 478.8 L187.2 477.0 L188.0 477.0 L188.0 475.9 L188.8 475.9 L188.8 477.0 L189.6 477.0 L189.6 475.7 L190.4 475.7 L190.4 474.7 L191.2 474.7 L191.2 476.3 L192.0 476.3 L192.0 474.2 L192.8 474.2 L192.8 476.7 L193.6 476.7 L193.6 473.9 L194.4 473.9 L194.4 475.6 L195.2 475.6 L195.2 473.4 L196.0 473.4 L196.0 474.0 L196.8 474.0 L196.8 473.7 L197.6 473.7 L197.6 474.3 L198.4 474.3 L198.4 473.0 L199.2 473.0 L199.2 471.4 L200.0 471.4 L200.0 473.2 L200.8 473.2 L200.8 476.5 L201.6 476.5 L201.6 474.5 L202.4 474.5 L202.4 471.9 L203.2 471.9 L203.2 473.6 L204.0 473.6 L204.0 471.6 L204.8 471.6 L204.8 474.1 L205.6 474.1 L205.6 476.8 L206.4 476.8 L206.4 472.6 L207.2 472.6 L207.2 471.3 L208.0 471.3 L208.0 473.0 L208.8 473.0 L208.8 471.9 L209.6 471.9 L209.6 476.2 L210.4 476.2 L210.4 477.6 L211.2 477.6 L211.2 477.5 L212.0 477.5 L212.0 477.4 L212.8 477.4 L212.8 478.2 L213.6 478.2 L213.6 475.3 L214.4 475.3 L214.4 478.8 L215.2 478.8 L215.2 478.3 L216.0 478.3 L216.0 479.3 L216.8 479.3 L216.8 478.4 L217.6 478.4 L217.6 477.6 L218.4 477.6 L218.4 478.3 L219.2 478.3 L219.2 479.1 L220.0 479.1 L220.0 477.0 L220.8 477.0 L220.8 479.9 L221.6 479.9 L221.6 478.3 L222.4 478.3 L222.4 479.9 L223.2 479.9 L223.2 478.2 L224.0 478.2 L224.0 480.2 L224.8 480.2 L224.8 479.4 L225.6 479.4 L225.6 480.1 L226.4 480.1 L226.4 480.7 L227.2 480.7 L227.2 481.0 L228.0 481.0 L228.0 480.9 L228.8 480.9 L228.8 481.6 L229.6 481.6 L229.6 482.1 L230.4 482.1 L230.0 482.7 Z" fill="#111"/>
<path d="M165.0 479.3 L165.7 478.1 L166.4 477.3 L167.1 476.4 L167.8 476.3 L168.5 475.3 L169.2 474.6 L169.9 473.8 L170.6 474.0 L171.3 473.4 L172.0 472.7 L172.7 472.2 L173.4 472.0 L174.1 471.5 L174.8 470.5 L175.5 470.8 L176.2 469.9 L176.9 470.3 L177.6 469.4 L178.3 469.2 L179.0 469.9 L179.7 470.4 L180.4 470.0 L181.1 470.9 L181.8 470.8 L182.5 471.9 L183.2 472.3 L183.9 472.6 L184.6 473.5 L185.3 473.7 L186.0 474.8 L186.7 474.8 L187.4 475.7 L188.1 476.0 L188.8 477.0 L189.5 477.4 L190.2 478.3 L190.9 479.2" fill="none" stroke="#b4b4b4" stroke-width="0.85"/>
<rect x="157.5" y="431.5" width="93.7" height="51.2" fill="none" stroke="#151515" stroke-width="1.5"/>
<line x1="157.1" y1="431.0" x2="157.1" y2="483.2" stroke="#111" stroke-width="1.3"/>
<line x1="156.5" y1="482.7" x2="251.7" y2="482.7" stroke="#111" stroke-width="2"/>
<path d="M154.5 431.5H157.5M155.7 433.5H157.5M155.7 435.6H157.5M155.7 437.6H157.5M155.7 439.7H157.5M154.5 441.7H157.5M155.7 443.8H157.5M155.7 445.8H157.5M155.7 447.9H157.5M155.7 449.9H157.5M154.5 452.0H157.5M155.7 454.0H157.5M155.7 456.1H157.5M155.7 458.1H157.5M155.7 460.2H157.5M154.5 462.2H157.5M155.7 464.3H157.5M155.7 466.3H157.5M155.7 468.4H157.5M155.7 470.4H157.5M154.5 472.5H157.5M155.7 474.5H157.5M155.7 476.6H157.5M155.7 478.6H157.5M155.7 480.7H157.5M154.5 482.7H157.5" stroke="#111" stroke-width="0.8"/>
<path d="M157.5 482.7V484.9M164.6 482.7V484.2M168.7 482.7V484.2M171.6 482.7V484.2M173.9 482.7V484.2M175.7 482.7V484.2M177.3 482.7V484.2M178.7 482.7V484.2M179.9 482.7V484.2M180.9 482.7V484.9M188.0 482.7V484.2M192.1 482.7V484.2M195.0 482.7V484.2M197.3 482.7V484.2M199.2 482.7V484.2M200.7 482.7V484.2M202.1 482.7V484.2M203.3 482.7V484.2M204.3 482.7V484.9M211.4 482.7V484.2M215.5 482.7V484.2M218.5 482.7V484.2M220.7 482.7V484.2M222.6 482.7V484.2M224.1 482.7V484.2M225.5 482.7V484.2M226.7 482.7V484.2M227.8 482.7V484.9M234.8 482.7V484.2M239.0 482.7V484.2M241.9 482.7V484.2M244.1 482.7V484.2M246.0 482.7V484.2M247.6 482.7V484.2M248.9 482.7V484.2M250.1 482.7V484.2M251.2 482.7V484.9" stroke="#111" stroke-width="0.9"/>
<text x="157.5" y="493.3" font-family="'Liberation Sans', sans-serif" font-size="6.5" font-weight="bold" fill="#222" text-anchor="middle">10<tspan font-size="5" dy="-2.9">0</tspan></text>
<text x="180.9" y="493.3" font-family="'Liberation Sans', sans-serif" font-size="6.5" font-weight="bold" fill="#222" text-anchor="middle">10<tspan font-size="5" dy="-2.9">1</tspan></text>
<text x="204.3" y="493.3" font-family="'Liberation Sans', sans-serif" font-size="6.5" font-weight="bold" fill="#222" text-anchor="middle">10<tspan font-size="5" dy="-2.9">2</tspan></text>
<text x="227.8" y="493.3" font-family="'Liberation Sans', sans-serif" font-size="6.5" font-weight="bold" fill="#222" text-anchor="middle">10<tspan font-size="5" dy="-2.9">3</tspan></text>
<text x="251.2" y="493.3" font-family="'Liberation Sans', sans-serif" font-size="6.5" font-weight="bold" fill="#222" text-anchor="middle">10<tspan font-size="5" dy="-2.9">4</tspan></text>
<path d="M193.7 442.7H251.2 M193.7 437.7V447.7 M251.2 437.7V447.7" stroke="#151515" stroke-width="1.3" fill="none"/>
<text x="226.2" y="460.9" font-family="'Liberation Sans', sans-serif" font-size="14.5" stroke="#111" stroke-width="0.2" fill="#111" text-anchor="middle">74</text>
<path d="M282.0 483.2 L282.0 482.4 L282.8 482.4 L282.8 481.7 L283.6 481.7 L283.6 479.8 L284.4 479.8 L284.4 478.6 L285.2 478.6 L285.2 480.5 L286.0 480.5 L286.0 479.4 L286.8 479.4 L286.8 479.6 L287.6 479.6 L287.6 479.0 L288.4 479.0 L288.4 477.8 L289.2 477.8 L289.2 479.1 L290.0 479.1 L290.0 480.6 L290.8 480.6 L290.8 478.7 L291.6 478.7 L291.6 478.0 L292.4 478.0 L292.4 478.8 L293.2 478.8 L293.2 480.5 L294.0 480.5 L294.0 477.8 L294.8 477.8 L294.8 479.3 L295.6 479.3 L295.6 479.3 L296.4 479.3 L296.4 480.3 L297.2 480.3 L297.2 479.3 L298.0 479.3 L298.0 480.1 L298.8 480.1 L298.8 479.1 L299.6 479.1 L299.6 478.4 L300.4 478.4 L300.4 479.9 L301.2 479.9 L301.2 475.7 L302.0 475.7 L302.0 478.0 L302.8 478.0 L302.8 472.1 L303.6 472.1 L303.6 474.9 L304.4 474.9 L304.4 474.4 L305.2 474.4 L305.2 473.4 L306.0 473.4 L306.0 477.3 L306.8 477.3 L306.8 474.1 L307.6 474.1 L307.6 475.0 L308.4 475.0 L308.4 478.5 L309.2 478.5 L309.2 477.8 L310.0 477.8 L310.0 478.5 L310.8 478.5 L310.8 480.4 L311.6 480.4 L311.6 478.6 L312.4 478.6 L312.4 478.7 L313.2 478.7 L313.2 479.0 L314.0 479.0 L314.0 478.5 L314.8 478.5 L314.8 480.3 L315.6 480.3 L315.6 479.3 L316.4 479.3 L316.4 479.5 L317.2 479.5 L317.2 478.5 L318.0 478.5 L318.0 477.9 L318.8 477.9 L318.8 479.1 L319.6 479.1 L319.6 479.3 L320.4 479.3 L320.4 478.3 L321.2 478.3 L321.2 478.9 L322.0 478.9 L322.0 479.3 L322.8 479.3 L322.8 478.4 L323.6 478.4 L323.6 478.1 L324.4 478.1 L324.4 478.4 L325.2 478.4 L325.2 478.6 L326.0 478.6 L326.0 479.7 L326.8 479.7 L326.8 479.9 L327.6 479.9 L327.6 480.0 L328.4 480.0 L328.4 479.0 L329.2 479.0 L329.2 480.3 L330.0 480.3 L330.0 479.7 L330.8 479.7 L330.8 479.6 L331.6 479.6 L331.6 477.8 L332.4 477.8 L332.4 479.1 L333.2 479.1 L333.2 479.6 L334.0 479.6 L334.0 479.6 L334.8 479.6 L334.8 478.8 L335.6 478.8 L335.6 479.4 L336.4 479.4 L336.4 477.7 L337.2 477.7 L337.2 477.9 L338.0 477.9 L338.0 479.0 L338.8 479.0 L338.8 479.0 L339.6 479.0 L339.6 478.6 L340.4 478.6 L340.4 479.6 L341.2 479.6 L341.2 477.9 L342.0 477.9 L342.0 479.1 L342.8 479.1 L342.8 480.2 L343.6 480.2 L343.6 478.3 L344.4 478.3 L344.4 482.3 L345.2 482.3 L345.2 482.4 L346.0 482.4 L346.0 482.8 L346.8 482.8 L346.0 483.2 Z" fill="#111"/>
<path d="M283.0 480.9 L283.7 479.7 L284.4 477.3 L285.1 476.0 L285.8 474.3 L286.5 472.3 L287.2 470.8 L287.9 469.4 L288.6 467.6 L289.3 464.9 L290.0 463.7 L290.7 461.6 L291.4 460.2 L292.1 458.4 L292.8 457.7 L293.5 456.9 L294.2 455.4 L294.9 455.3 L295.6 454.8 L296.3 454.6 L297.0 456.1 L297.7 456.5 L298.4 457.9 L299.1 459.7 L299.8 461.1 L300.5 462.4 L301.2 464.2 L301.9 466.2 L302.6 467.5 L303.3 469.0 L304.0 471.0 L304.7 473.4 L305.4 475.0 L306.1 475.9 L306.8 477.5 L307.5 478.8" fill="none" stroke="#b4b4b4" stroke-width="0.85"/>
<rect x="275.5" y="431.5" width="93.7" height="51.7" fill="none" stroke="#151515" stroke-width="1.5"/>
<line x1="275.1" y1="431.0" x2="275.1" y2="483.7" stroke="#111" stroke-width="1.3"/>
<line x1="274.5" y1="483.2" x2="369.7" y2="483.2" stroke="#111" stroke-width="2"/>
<path d="M272.5 431.5H275.5M273.7 433.6H275.5M273.7 435.6H275.5M273.7 437.7H275.5M273.7 439.8H275.5M272.5 441.8H275.5M273.7 443.9H275.5M273.7 446.0H275.5M273.7 448.0H275.5M273.7 450.1H275.5M272.5 452.2H275.5M273.7 454.2H275.5M273.7 456.3H275.5M273.7 458.4H275.5M273.7 460.5H275.5M272.5 462.5H275.5M273.7 464.6H275.5M273.7 466.7H275.5M273.7 468.7H275.5M273.7 470.8H275.5M272.5 472.9H275.5M273.7 474.9H275.5M273.7 477.0H275.5M273.7 479.1H275.5M273.7 481.1H275.5M272.5 483.2H275.5" stroke="#111" stroke-width="0.8"/>
<path d="M275.5 483.2V485.4M282.6 483.2V484.7M286.7 483.2V484.7M289.6 483.2V484.7M291.9 483.2V484.7M293.7 483.2V484.7M295.3 483.2V484.7M296.7 483.2V484.7M297.9 483.2V484.7M298.9 483.2V485.4M306.0 483.2V484.7M310.1 483.2V484.7M313.0 483.2V484.7M315.3 483.2V484.7M317.2 483.2V484.7M318.7 483.2V484.7M320.1 483.2V484.7M321.3 483.2V484.7M322.4 483.2V485.4M329.4 483.2V484.7M333.5 483.2V484.7M336.5 483.2V484.7M338.7 483.2V484.7M340.6 483.2V484.7M342.1 483.2V484.7M343.5 483.2V484.7M344.7 483.2V484.7M345.8 483.2V485.4M352.8 483.2V484.7M357.0 483.2V484.7M359.9 483.2V484.7M362.1 483.2V484.7M364.0 483.2V484.7M365.6 483.2V484.7M366.9 483.2V484.7M368.1 483.2V484.7M369.2 483.2V485.4" stroke="#111" stroke-width="0.9"/>
<text x="275.5" y="493.8" font-family="'Liberation Sans', sans-serif" font-size="6.5" font-weight="bold" fill="#222" text-anchor="middle">10<tspan font-size="5" dy="-2.9">0</tspan></text>
<text x="298.9" y="493.8" font-family="'Liberation Sans', sans-serif" font-size="6.5" font-weight="bold" fill="#222" text-anchor="middle">10<tspan font-size="5" dy="-2.9">1</tspan></text>
<text x="322.4" y="493.8" font-family="'Liberation Sans', sans-serif" font-size="6.5" font-weight="bold" fill="#222" text-anchor="middle">10<tspan font-size="5" dy="-2.9">2</tspan></text>
<text x="345.8" y="493.8" font-family="'Liberation Sans', sans-serif" font-size="6.5" font-weight="bold" fill="#222" text-anchor="middle">10<tspan font-size="5" dy="-2.9">3</tspan></text>
<text x="369.2" y="493.8" font-family="'Liberation Sans', sans-serif" font-size="6.5" font-weight="bold" fill="#222" text-anchor="middle">10<tspan font-size="5" dy="-2.9">4</tspan></text>
<path d="M309.2 444.5H369.2 M309.2 439.5V449.5 M369.2 439.5V449.5" stroke="#151515" stroke-width="1.3" fill="none"/>
<text x="344.2" y="463.4" font-family="'Liberation Serif', serif" font-size="15.8" stroke="#111" stroke-width="0.55" fill="#111" text-anchor="middle">27</text>
<path d="M400.0 482.7 L400.0 482.2 L400.8 482.2 L400.8 481.6 L401.6 481.6 L401.6 480.6 L402.4 480.6 L402.4 479.6 L403.2 479.6 L403.2 479.6 L404.0 479.6 L404.0 479.6 L404.8 479.6 L404.8 480.1 L405.6 480.1 L405.6 480.3 L406.4 480.3 L406.4 478.5 L407.2 478.5 L407.2 479.2 L408.0 479.2 L408.0 478.8 L408.8 478.8 L408.8 478.7 L409.6 478.7 L409.6 477.8 L410.4 477.8 L410.4 479.0 L411.2 479.0 L411.2 478.6 L412.0 478.6 L412.0 477.6 L412.8 477.6 L412.8 476.1 L413.6 476.1 L413.6 476.3 L414.4 476.3 L414.4 477.4 L415.2 477.4 L415.2 477.6 L416.0 477.6 L416.0 477.8 L416.8 477.8 L416.8 475.6 L417.6 475.6 L417.6 476.8 L418.4 476.8 L418.4 475.3 L419.2 475.3 L419.2 476.9 L420.0 476.9 L420.0 477.2 L420.8 477.2 L420.8 474.9 L421.6 474.9 L421.6 477.4 L422.4 477.4 L422.4 475.5 L423.2 475.5 L423.2 474.4 L424.0 474.4 L424.0 474.5 L424.8 474.5 L424.8 478.3 L425.6 478.3 L425.6 478.3 L426.4 478.3 L426.4 477.8 L427.2 477.8 L427.2 475.4 L428.0 475.4 L428.0 475.9 L428.8 475.9 L428.8 478.0 L429.6 478.0 L429.6 477.4 L430.4 477.4 L430.4 476.4 L431.2 476.4 L431.2 474.6 L432.0 474.6 L432.0 476.3 L432.8 476.3 L432.8 477.4 L433.6 477.4 L433.6 476.1 L434.4 476.1 L434.4 475.3 L435.2 475.3 L435.2 477.3 L436.0 477.3 L436.0 476.7 L436.8 476.7 L436.8 476.5 L437.6 476.5 L437.6 477.0 L438.4 477.0 L438.4 478.2 L439.2 478.2 L439.2 478.0 L440.0 478.0 L440.0 476.9 L440.8 476.9 L440.8 478.2 L441.6 478.2 L441.6 478.0 L442.4 478.0 L442.4 478.2 L443.2 478.2 L443.2 477.8 L444.0 477.8 L444.0 478.7 L444.8 478.7 L444.8 479.2 L445.6 479.2 L445.6 479.2 L446.4 479.2 L446.4 479.9 L447.2 479.9 L447.2 480.1 L448.0 480.1 L448.0 479.8 L448.8 479.8 L448.8 479.7 L449.6 479.7 L449.6 480.3 L450.4 480.3 L450.4 480.9 L451.2 480.9 L451.2 479.8 L452.0 479.8 L452.0 481.0 L452.8 481.0 L452.8 480.1 L453.6 480.1 L453.6 479.6 L454.4 479.6 L454.4 480.4 L455.2 480.4 L455.2 480.0 L456.0 480.0 L456.0 479.9 L456.8 479.9 L456.8 480.6 L457.6 480.6 L457.6 479.6 L458.4 479.6 L458.0 482.7 Z" fill="#111"/>
<path d="M405.0 479.0 L405.7 478.5 L406.4 478.1 L407.1 478.2 L407.8 478.4 L408.5 477.8 L409.2 477.9 L409.9 476.8 L410.6 477.2 L411.3 476.3 L412.0 477.0 L412.7 476.8 L413.4 475.9 L414.1 475.8 L414.8 475.3 L415.5 474.9 L416.2 474.7 L416.9 475.3 L417.6 474.5 L418.3 474.7 L419.0 474.4 L419.7 474.3 L420.4 474.6 L421.1 475.3 L421.8 474.9 L422.5 475.3 L423.2 474.9 L423.9 475.4 L424.6 475.2 L425.3 475.1 L426.0 476.1 L426.7 475.7 L427.4 475.8 L428.1 476.1 L428.8 477.0 L429.5 477.2" fill="none" stroke="#b4b4b4" stroke-width="0.85"/>
<rect x="393.7" y="430.7" width="93.3" height="52.0" fill="none" stroke="#151515" stroke-width="1.5"/>
<line x1="393.3" y1="430.2" x2="393.3" y2="483.2" stroke="#111" stroke-width="1.3"/>
<line x1="392.7" y1="482.7" x2="487.5" y2="482.7" stroke="#111" stroke-width="2"/>
<path d="M390.7 430.7H393.7M391.9 432.8H393.7M391.9 434.9H393.7M391.9 436.9H393.7M391.9 439.0H393.7M390.7 441.1H393.7M391.9 443.2H393.7M391.9 445.3H393.7M391.9 447.3H393.7M391.9 449.4H393.7M390.7 451.5H393.7M391.9 453.6H393.7M391.9 455.7H393.7M391.9 457.7H393.7M391.9 459.8H393.7M390.7 461.9H393.7M391.9 464.0H393.7M391.9 466.1H393.7M391.9 468.1H393.7M391.9 470.2H393.7M390.7 472.3H393.7M391.9 474.4H393.7M391.9 476.5H393.7M391.9 478.5H393.7M391.9 480.6H393.7M390.7 482.7H393.7" stroke="#111" stroke-width="0.8"/>
<path d="M393.7 482.7V484.9M400.7 482.7V484.2M404.8 482.7V484.2M407.7 482.7V484.2M410.0 482.7V484.2M411.9 482.7V484.2M413.4 482.7V484.2M414.8 482.7V484.2M416.0 482.7V484.2M417.0 482.7V484.9M424.0 482.7V484.2M428.2 482.7V484.2M431.1 482.7V484.2M433.3 482.7V484.2M435.2 482.7V484.2M436.7 482.7V484.2M438.1 482.7V484.2M439.3 482.7V484.2M440.4 482.7V484.9M447.4 482.7V484.2M451.5 482.7V484.2M454.4 482.7V484.2M456.7 482.7V484.2M458.5 482.7V484.2M460.1 482.7V484.2M461.4 482.7V484.2M462.6 482.7V484.2M463.7 482.7V484.9M470.7 482.7V484.2M474.8 482.7V484.2M477.7 482.7V484.2M480.0 482.7V484.2M481.8 482.7V484.2M483.4 482.7V484.2M484.7 482.7V484.2M485.9 482.7V484.2M487.0 482.7V484.9" stroke="#111" stroke-width="0.9"/>
<text x="393.7" y="493.3" font-family="'Liberation Sans', sans-serif" font-size="6.5" font-weight="bold" fill="#222" text-anchor="middle">10<tspan font-size="5" dy="-2.9">0</tspan></text>
<text x="417.0" y="493.3" font-family="'Liberation Sans', sans-serif" font-size="6.5" font-weight="bold" fill="#222" text-anchor="middle">10<tspan font-size="5" dy="-2.9">1</tspan></text>
<text x="440.4" y="493.3" font-family="'Liberation Sans', sans-serif" font-size="6.5" font-weight="bold" fill="#222" text-anchor="middle">10<tspan font-size="5" dy="-2.9">2</tspan></text>
<text x="463.7" y="493.3" font-family="'Liberation Sans', sans-serif" font-size="6.5" font-weight="bold" fill="#222" text-anchor="middle">10<tspan font-size="5" dy="-2.9">3</tspan></text>
<text x="487.0" y="493.3" font-family="'Liberation Sans', sans-serif" font-size="6.5" font-weight="bold" fill="#222" text-anchor="middle">10<tspan font-size="5" dy="-2.9">4</tspan></text>
<path d="M432.5 445.0H487.0 M432.5 440.0V450.0 M487.0 440.0V450.0" stroke="#151515" stroke-width="1.3" fill="none"/>
<text x="463.7" y="462.7" font-family="'Liberation Serif', serif" font-size="15.8" stroke="#111" stroke-width="0.3" fill="#111" text-anchor="middle">15</text>
<path d="M41.1 557.0 L41.1 556.7 L41.8 555.8 L42.5 556.6 L43.2 556.3 L43.9 555.8 L44.6 554.5 L45.3 555.2 L46.0 554.0 L46.7 553.6 L47.4 553.8 L48.1 554.2 L48.8 553.3 L49.5 552.1 L50.2 551.7 L50.9 550.2 L51.6 549.9 L52.3 550.5 L53.0 548.4 L53.7 546.9 L54.4 546.9 L55.1 546.5 L55.8 546.6 L56.5 544.0 L57.2 543.2 L57.9 543.6 L58.6 543.8 L59.3 541.9 L60.0 541.3 L60.7 543.0 L61.4 541.2 L62.1 542.0 L62.8 540.5 L63.5 542.1 L64.2 539.6 L64.9 540.6 L65.6 540.3 L66.3 540.3 L67.0 540.9 L67.7 540.5 L68.4 542.4 L69.1 542.2 L69.8 543.8 L70.5 542.4 L71.2 544.5 L71.9 543.6 L72.6 544.8 L73.3 545.7 L74.0 546.6 L74.7 546.3 L75.4 547.8 L76.1 545.9 L76.8 546.8 L77.5 548.9 L78.2 548.0 L78.9 548.4 L79.6 549.3 L80.3 549.1 L81.0 548.3 L81.7 546.2 L82.4 547.7 L83.1 547.6 L83.8 548.0 L84.5 547.7 L85.2 547.2 L85.9 548.1 L86.6 546.7 L87.3 547.8 L88.0 545.0 L88.7 546.5 L89.4 547.1 L90.1 546.8 L90.8 546.7 L91.5 546.7 L92.2 549.2 L92.9 549.3 L93.6 549.9 L94.3 551.2 L95.0 551.9 L95.7 553.1 L96.4 553.0 L97.1 554.0 L97.8 554.8 L98.5 554.7 L99.2 555.1 L99.9 555.6 L100.6 555.2 L101.3 555.2 L102.0 556.2 L102.7 555.2 L103.4 556.3 L104.1 555.9 L104.8 556.2 L105.5 555.7 L106.2 556.3 L106.9 556.9 L107.6 556.1 L108.3 556.2 L109.0 556.8 L109.7 556.2 L110.4 556.2 L111.1 556.3 L111.8 557.0 L112.5 556.8 L113.2 556.8 L113.9 557.0 L114.6 557.0 L115.0 557.0 Z" fill="#111"/>
<path d="M44.0 555.8 L44.7 555.6 L45.4 555.3 L46.1 554.8 L46.8 554.1 L47.5 553.6 L48.2 552.2 L48.9 550.8 L49.6 548.6 L50.3 547.3 L51.0 546.3 L51.7 544.6 L52.4 543.7 L53.1 542.2 L53.8 541.5 L54.5 540.8 L55.2 539.3 L55.9 538.5 L56.6 537.2 L57.3 536.1 L58.0 536.0 L58.7 535.1 L59.4 534.7 L60.1 533.7 L60.8 534.1 L61.5 534.6 L62.2 535.8 L62.9 535.7 L63.6 536.5 L64.3 538.5 L65.0 538.9 L65.7 540.3 L66.4 542.0 L67.1 543.0 L67.8 544.7 L68.5 546.1 L69.2 547.4 L69.9 549.2 L70.6 549.8 L71.3 551.6 L72.0 552.7 L72.7 554.3 L73.4 554.9 L74.1 555.1 L74.8 555.5 L75.5 555.7" fill="none" stroke="#b4b4b4" stroke-width="0.85"/>
<rect x="39.5" y="505.7" width="93.5" height="51.3" fill="none" stroke="#151515" stroke-width="1.5"/>
<line x1="39.1" y1="505.2" x2="39.1" y2="557.5" stroke="#111" stroke-width="1.3"/>
<line x1="38.5" y1="557.0" x2="133.5" y2="557.0" stroke="#111" stroke-width="2"/>
<path d="M36.5 505.7H39.5M37.7 507.8H39.5M37.7 509.8H39.5M37.7 511.9H39.5M37.7 513.9H39.5M36.5 516.0H39.5M37.7 518.0H39.5M37.7 520.1H39.5M37.7 522.1H39.5M37.7 524.2H39.5M36.5 526.2H39.5M37.7 528.3H39.5M37.7 530.3H39.5M37.7 532.4H39.5M37.7 534.4H39.5M36.5 536.5H39.5M37.7 538.5H39.5M37.7 540.6H39.5M37.7 542.6H39.5M37.7 544.7H39.5M36.5 546.7H39.5M37.7 548.8H39.5M37.7 550.8H39.5M37.7 552.9H39.5M37.7 554.9H39.5M36.5 557.0H39.5" stroke="#111" stroke-width="0.8"/>
<path d="M39.5 557.0V559.2M46.5 557.0V558.5M50.7 557.0V558.5M53.6 557.0V558.5M55.8 557.0V558.5M57.7 557.0V558.5M59.3 557.0V558.5M60.6 557.0V558.5M61.8 557.0V558.5M62.9 557.0V559.2M69.9 557.0V558.5M74.0 557.0V558.5M76.9 557.0V558.5M79.2 557.0V558.5M81.1 557.0V558.5M82.6 557.0V558.5M84.0 557.0V558.5M85.2 557.0V558.5M86.2 557.0V559.2M93.3 557.0V558.5M97.4 557.0V558.5M100.3 557.0V558.5M102.6 557.0V558.5M104.4 557.0V558.5M106.0 557.0V558.5M107.4 557.0V558.5M108.6 557.0V558.5M109.6 557.0V559.2M116.7 557.0V558.5M120.8 557.0V558.5M123.7 557.0V558.5M126.0 557.0V558.5M127.8 557.0V558.5M129.4 557.0V558.5M130.7 557.0V558.5M131.9 557.0V558.5M133.0 557.0V559.2" stroke="#111" stroke-width="0.9"/>
<text x="39.5" y="567.6" font-family="'Liberation Sans', sans-serif" font-size="6.5" font-weight="bold" fill="#222" text-anchor="middle">10<tspan font-size="5" dy="-2.9">0</tspan></text>
<text x="62.9" y="567.6" font-family="'Liberation Sans', sans-serif" font-size="6.5" font-weight="bold" fill="#222" text-anchor="middle">10<tspan font-size="5" dy="-2.9">1</tspan></text>
<text x="86.2" y="567.6" font-family="'Liberation Sans', sans-serif" font-size="6.5" font-weight="bold" fill="#222" text-anchor="middle">10<tspan font-size="5" dy="-2.9">2</tspan></text>
<text x="109.6" y="567.6" font-family="'Liberation Sans', sans-serif" font-size="6.5" font-weight="bold" fill="#222" text-anchor="middle">10<tspan font-size="5" dy="-2.9">3</tspan></text>
<text x="133.0" y="567.6" font-family="'Liberation Sans', sans-serif" font-size="6.5" font-weight="bold" fill="#222" text-anchor="middle">10<tspan font-size="5" dy="-2.9">4</tspan></text>
<path d="M74.5 519.5H133.0 M74.5 514.5V524.5 M133.0 514.5V524.5" stroke="#151515" stroke-width="1.3" fill="none"/>
<text x="110.0" y="538.4" font-family="'Liberation Serif', serif" font-size="15.8" stroke="#111" stroke-width="0.3" fill="#111" text-anchor="middle">41</text>
<path d="M160.0 557.0 L160.0 555.6 L160.7 555.4 L161.4 554.4 L162.1 554.6 L162.8 554.1 L163.5 553.7 L164.2 553.1 L164.9 552.0 L165.6 552.0 L166.3 550.9 L167.0 549.6 L167.7 548.6 L168.4 548.8 L169.1 548.4 L169.8 546.8 L170.5 546.8 L171.2 545.2 L171.9 544.6 L172.6 545.2 L173.3 544.3 L174.0 543.0 L174.7 543.6 L175.4 543.3 L176.1 542.2 L176.8 542.1 L177.5 541.1 L178.2 541.2 L178.9 539.4 L179.6 539.3 L180.3 540.1 L181.0 539.0 L181.7 540.2 L182.4 541.0 L183.1 540.3 L183.8 540.1 L184.5 541.6 L185.2 541.6 L185.9 543.1 L186.6 544.2 L187.3 544.9 L188.0 544.5 L188.7 545.6 L189.4 546.7 L190.1 546.7 L190.8 547.1 L191.5 548.4 L192.2 548.0 L192.9 548.7 L193.6 550.0 L194.3 548.8 L195.0 549.0 L195.7 548.7 L196.4 549.1 L197.1 548.9 L197.8 549.3 L198.5 548.3 L199.2 548.0 L199.9 548.7 L200.6 548.9 L201.3 548.6 L202.0 547.0 L202.7 547.0 L203.4 545.7 L204.1 545.4 L204.8 545.7 L205.5 545.4 L206.2 545.1 L206.9 546.0 L207.6 546.7 L208.3 546.0 L209.0 547.7 L209.7 548.4 L210.4 548.1 L211.1 549.1 L211.8 548.5 L212.5 549.7 L213.2 550.0 L213.9 550.9 L214.6 551.8 L215.3 552.6 L216.0 552.8 L216.7 553.1 L217.4 553.4 L218.1 553.0 L218.8 553.4 L219.5 553.9 L220.2 555.0 L220.9 554.2 L221.6 554.3 L222.3 555.3 L223.0 555.0 L223.7 555.2 L224.4 555.7 L225.1 555.6 L225.8 555.8 L226.5 556.1 L227.2 555.9 L227.9 556.0 L228.6 556.0 L229.3 556.3 L230.0 556.1 L230.0 557.0 Z" fill="#111"/>
<path d="M163.8 554.2 L164.4 552.2 L165.2 550.0 L165.8 548.0 L166.6 546.8 L167.2 544.8 L167.9 543.2 L168.7 541.2 L169.3 539.1 L170.1 537.2 L170.8 535.4 L171.4 533.0 L172.2 531.7 L172.8 529.8 L173.6 528.9 L174.2 527.8 L174.9 526.0 L175.7 525.2 L176.3 524.1 L177.1 523.5 L177.8 522.1 L178.4 522.5 L179.2 522.7 L179.8 523.1 L180.6 524.8 L181.2 525.7 L181.9 527.4 L182.7 530.3 L183.3 532.8 L184.1 535.6 L184.8 538.4 L185.4 540.0 L186.2 542.4 L186.8 545.2 L187.6 546.7 L188.2 548.7 L188.9 550.7 L189.7 553.2" fill="none" stroke="#b4b4b4" stroke-width="0.85"/>
<rect x="157.5" y="505.7" width="93.7" height="51.3" fill="none" stroke="#151515" stroke-width="1.5"/>
<line x1="157.1" y1="505.2" x2="157.1" y2="557.5" stroke="#111" stroke-width="1.3"/>
<line x1="156.5" y1="557.0" x2="251.7" y2="557.0" stroke="#111" stroke-width="2"/>
<path d="M154.5 505.7H157.5M155.7 507.8H157.5M155.7 509.8H157.5M155.7 511.9H157.5M155.7 513.9H157.5M154.5 516.0H157.5M155.7 518.0H157.5M155.7 520.1H157.5M155.7 522.1H157.5M155.7 524.2H157.5M154.5 526.2H157.5M155.7 528.3H157.5M155.7 530.3H157.5M155.7 532.4H157.5M155.7 534.4H157.5M154.5 536.5H157.5M155.7 538.5H157.5M155.7 540.6H157.5M155.7 542.6H157.5M155.7 544.7H157.5M154.5 546.7H157.5M155.7 548.8H157.5M155.7 550.8H157.5M155.7 552.9H157.5M155.7 554.9H157.5M154.5 557.0H157.5" stroke="#111" stroke-width="0.8"/>
<path d="M157.5 557.0V559.2M164.6 557.0V558.5M168.7 557.0V558.5M171.6 557.0V558.5M173.9 557.0V558.5M175.7 557.0V558.5M177.3 557.0V558.5M178.7 557.0V558.5M179.9 557.0V558.5M180.9 557.0V559.2M188.0 557.0V558.5M192.1 557.0V558.5M195.0 557.0V558.5M197.3 557.0V558.5M199.2 557.0V558.5M200.7 557.0V558.5M202.1 557.0V558.5M203.3 557.0V558.5M204.3 557.0V559.2M211.4 557.0V558.5M215.5 557.0V558.5M218.5 557.0V558.5M220.7 557.0V558.5M222.6 557.0V558.5M224.1 557.0V558.5M225.5 557.0V558.5M226.7 557.0V558.5M227.8 557.0V559.2M234.8 557.0V558.5M239.0 557.0V558.5M241.9 557.0V558.5M244.1 557.0V558.5M246.0 557.0V558.5M247.6 557.0V558.5M248.9 557.0V558.5M250.1 557.0V558.5M251.2 557.0V559.2" stroke="#111" stroke-width="0.9"/>
<text x="157.5" y="567.6" font-family="'Liberation Sans', sans-serif" font-size="6.5" font-weight="bold" fill="#222" text-anchor="middle">10<tspan font-size="5" dy="-2.9">0</tspan></text>
<text x="180.9" y="567.6" font-family="'Liberation Sans', sans-serif" font-size="6.5" font-weight="bold" fill="#222" text-anchor="middle">10<tspan font-size="5" dy="-2.9">1</tspan></text>
<text x="204.3" y="567.6" font-family="'Liberation Sans', sans-serif" font-size="6.5" font-weight="bold" fill="#222" text-anchor="middle">10<tspan font-size="5" dy="-2.9">2</tspan></text>
<text x="227.8" y="567.6" font-family="'Liberation Sans', sans-serif" font-size="6.5" font-weight="bold" fill="#222" text-anchor="middle">10<tspan font-size="5" dy="-2.9">3</tspan></text>
<text x="251.2" y="567.6" font-family="'Liberation Sans', sans-serif" font-size="6.5" font-weight="bold" fill="#222" text-anchor="middle">10<tspan font-size="5" dy="-2.9">4</tspan></text>
<path d="M194.5 517.0H251.2 M194.5 512.0V522.0 M251.2 512.0V522.0" stroke="#151515" stroke-width="1.3" fill="none"/>
<text x="226.2" y="534.7" font-family="'Liberation Serif', serif" font-size="15.8" stroke="#111" stroke-width="0.3" fill="#111" text-anchor="middle">34</text>
<path d="M277.0 557.0 L277.0 556.5 L277.7 555.6 L278.4 555.2 L279.1 554.8 L279.8 555.1 L280.5 554.9 L281.2 554.0 L281.9 553.8 L282.6 553.9 L283.3 553.8 L284.0 554.0 L284.7 552.1 L285.4 551.7 L286.1 552.9 L286.8 550.2 L287.5 550.4 L288.2 550.5 L288.9 548.3 L289.6 548.8 L290.3 546.5 L291.0 547.4 L291.7 545.1 L292.4 545.5 L293.1 545.4 L293.8 543.1 L294.5 542.9 L295.2 544.0 L295.9 543.4 L296.6 542.6 L297.3 541.5 L298.0 541.4 L298.7 541.0 L299.4 540.9 L300.1 538.7 L300.8 540.4 L301.5 540.6 L302.2 539.0 L302.9 541.1 L303.6 541.6 L304.3 541.5 L305.0 541.7 L305.7 542.7 L306.4 542.8 L307.1 545.4 L307.8 543.9 L308.5 545.8 L309.2 545.4 L309.9 544.8 L310.6 545.1 L311.3 546.5 L312.0 544.5 L312.7 544.7 L313.4 546.0 L314.1 544.5 L314.8 545.7 L315.5 546.5 L316.2 545.4 L316.9 544.0 L317.6 545.2 L318.3 546.0 L319.0 546.7 L319.7 546.6 L320.4 545.9 L321.1 546.9 L321.8 545.3 L322.5 544.4 L323.2 544.1 L323.9 543.5 L324.6 545.6 L325.3 545.6 L326.0 544.7 L326.7 545.3 L327.4 543.8 L328.1 546.2 L328.8 545.2 L329.5 544.1 L330.2 544.6 L330.9 544.7 L331.6 546.0 L332.3 546.7 L333.0 545.7 L333.7 545.6 L334.4 548.0 L335.1 546.1 L335.8 548.3 L336.5 548.7 L337.2 548.4 L337.9 549.8 L338.6 548.8 L339.3 551.3 L340.0 552.3 L340.7 551.3 L341.4 552.1 L342.1 551.8 L342.8 552.6 L343.5 552.9 L344.2 553.3 L344.9 553.0 L345.6 553.6 L346.3 553.1 L347.0 554.0 L347.7 554.5 L348.4 555.4 L349.1 555.0 L349.8 554.6 L350.5 555.8 L351.2 554.9 L351.9 556.0 L352.6 555.2 L353.3 555.0 L354.0 556.1 L354.7 556.1 L355.4 555.2 L356.0 557.0 Z" fill="#111"/>
<path d="M282.0 555.3 L282.7 554.9 L283.4 553.7 L284.1 553.2 L284.8 551.6 L285.5 549.6 L286.2 548.1 L286.9 546.9 L287.6 545.5 L288.3 543.8 L289.0 541.7 L289.7 539.9 L290.4 539.0 L291.1 536.5 L291.8 535.3 L292.5 533.7 L293.2 532.4 L293.9 531.0 L294.6 529.8 L295.3 529.1 L296.0 528.4 L296.7 529.6 L297.4 530.0 L298.1 531.0 L298.8 531.9 L299.5 533.8 L300.2 534.4 L300.9 536.0 L301.6 537.7 L302.3 539.3 L303.0 540.7 L303.7 541.9 L304.4 543.4 L305.1 545.4 L305.8 546.3 L306.5 548.8 L307.2 550.1 L307.9 551.3 L308.6 551.3 L309.3 551.7 L310.0 552.8 L310.7 553.5 L311.4 553.9 L312.1 554.5 L312.8 555.2 L313.5 555.5" fill="none" stroke="#b4b4b4" stroke-width="0.85"/>
<rect x="275.5" y="505.7" width="93.7" height="51.3" fill="none" stroke="#151515" stroke-width="1.5"/>
<line x1="275.1" y1="505.2" x2="275.1" y2="557.5" stroke="#111" stroke-width="1.3"/>
<line x1="274.5" y1="557.0" x2="369.7" y2="557.0" stroke="#111" stroke-width="2"/>
<path d="M272.5 505.7H275.5M273.7 507.8H275.5M273.7 509.8H275.5M273.7 511.9H275.5M273.7 513.9H275.5M272.5 516.0H275.5M273.7 518.0H275.5M273.7 520.1H275.5M273.7 522.1H275.5M273.7 524.2H275.5M272.5 526.2H275.5M273.7 528.3H275.5M273.7 530.3H275.5M273.7 532.4H275.5M273.7 534.4H275.5M272.5 536.5H275.5M273.7 538.5H275.5M273.7 540.6H275.5M273.7 542.6H275.5M273.7 544.7H275.5M272.5 546.7H275.5M273.7 548.8H275.5M273.7 550.8H275.5M273.7 552.9H275.5M273.7 554.9H275.5M272.5 557.0H275.5" stroke="#111" stroke-width="0.8"/>
<path d="M275.5 557.0V559.2M282.6 557.0V558.5M286.7 557.0V558.5M289.6 557.0V558.5M291.9 557.0V558.5M293.7 557.0V558.5M295.3 557.0V558.5M296.7 557.0V558.5M297.9 557.0V558.5M298.9 557.0V559.2M306.0 557.0V558.5M310.1 557.0V558.5M313.0 557.0V558.5M315.3 557.0V558.5M317.2 557.0V558.5M318.7 557.0V558.5M320.1 557.0V558.5M321.3 557.0V558.5M322.4 557.0V559.2M329.4 557.0V558.5M333.5 557.0V558.5M336.5 557.0V558.5M338.7 557.0V558.5M340.6 557.0V558.5M342.1 557.0V558.5M343.5 557.0V558.5M344.7 557.0V558.5M345.8 557.0V559.2M352.8 557.0V558.5M357.0 557.0V558.5M359.9 557.0V558.5M362.1 557.0V558.5M364.0 557.0V558.5M365.6 557.0V558.5M366.9 557.0V558.5M368.1 557.0V558.5M369.2 557.0V559.2" stroke="#111" stroke-width="0.9"/>
<text x="275.5" y="567.6" font-family="'Liberation Sans', sans-serif" font-size="6.5" font-weight="bold" fill="#222" text-anchor="middle">10<tspan font-size="5" dy="-2.9">0</tspan></text>
<text x="298.9" y="567.6" font-family="'Liberation Sans', sans-serif" font-size="6.5" font-weight="bold" fill="#222" text-anchor="middle">10<tspan font-size="5" dy="-2.9">1</tspan></text>
<text x="322.4" y="567.6" font-family="'Liberation Sans', sans-serif" font-size="6.5" font-weight="bold" fill="#222" text-anchor="middle">10<tspan font-size="5" dy="-2.9">2</tspan></text>
<text x="345.8" y="567.6" font-family="'Liberation Sans', sans-serif" font-size="6.5" font-weight="bold" fill="#222" text-anchor="middle">10<tspan font-size="5" dy="-2.9">3</tspan></text>
<text x="369.2" y="567.6" font-family="'Liberation Sans', sans-serif" font-size="6.5" font-weight="bold" fill="#222" text-anchor="middle">10<tspan font-size="5" dy="-2.9">4</tspan></text>
<path d="M311.7 517.0H369.2 M311.7 512.0V522.0 M369.2 512.0V522.0" stroke="#151515" stroke-width="1.3" fill="none"/>
<text x="344.2" y="535.9" font-family="'Liberation Sans', sans-serif" font-size="14.5" stroke="#111" stroke-width="0.2" fill="#111" text-anchor="middle">43</text>
<path d="M395.0 557.0 L395.0 555.9 L395.7 555.3 L396.4 553.5 L397.1 553.4 L397.8 553.1 L398.5 554.0 L399.2 553.8 L399.9 554.1 L400.6 554.6 L401.3 554.3 L402.0 552.5 L402.7 553.1 L403.4 552.1 L404.1 552.9 L404.8 553.3 L405.5 551.5 L406.2 552.8 L406.9 550.5 L407.6 546.2 L408.3 546.0 L409.0 544.4 L409.7 541.8 L410.4 544.1 L411.1 544.3 L411.8 546.4 L412.5 545.4 L413.2 544.6 L413.9 545.3 L414.6 544.8 L415.3 544.6 L416.0 543.3 L416.7 541.7 L417.4 538.8 L418.1 539.0 L418.8 538.8 L419.5 537.7 L420.2 539.1 L420.9 540.0 L421.6 538.9 L422.3 539.2 L423.0 539.8 L423.7 541.2 L424.4 542.8 L425.1 543.3 L425.8 542.9 L426.5 542.4 L427.2 544.3 L427.9 545.3 L428.6 545.5 L429.3 545.9 L430.0 544.5 L430.7 545.7 L431.4 544.0 L432.1 544.1 L432.8 544.4 L433.5 544.5 L434.2 546.7 L434.9 544.9 L435.6 547.5 L436.3 545.7 L437.0 545.9 L437.7 545.2 L438.4 546.0 L439.1 543.2 L439.8 545.2 L440.5 544.7 L441.2 543.2 L441.9 543.3 L442.6 542.8 L443.3 542.2 L444.0 543.3 L444.7 542.5 L445.4 542.2 L446.1 543.4 L446.8 543.3 L447.5 543.1 L448.2 541.8 L448.9 539.6 L449.6 539.2 L450.3 540.2 L451.0 542.6 L451.7 543.1 L452.4 544.8 L453.1 544.5 L453.8 546.5 L454.5 548.3 L455.2 549.0 L455.9 548.9 L456.6 549.8 L457.3 550.4 L458.0 551.2 L458.7 550.2 L459.4 552.0 L460.1 552.4 L460.8 551.2 L461.5 551.2 L462.2 552.4 L462.9 553.3 L463.6 552.8 L464.3 554.5 L465.0 554.6 L465.7 554.2 L466.4 553.5 L467.1 554.8 L467.8 553.7 L468.5 554.6 L469.2 555.4 L469.9 555.4 L470.6 555.0 L471.3 555.6 L472.0 555.6 L472.7 554.6 L473.4 554.7 L474.1 555.3 L474.8 554.6 L475.5 556.1 L476.0 557.0 Z" fill="#111"/>
<path d="M403.0 554.7 L403.7 553.9 L404.4 552.3 L405.1 550.2 L405.8 549.0 L406.5 547.9 L407.2 547.2 L407.9 545.8 L408.6 545.1 L409.3 544.5 L410.0 544.0 L410.7 543.7 L411.4 543.3 L412.1 542.2 L412.8 542.4 L413.5 541.1 L414.2 540.2 L414.9 539.9 L415.6 539.4 L416.3 539.1 L417.0 538.0 L417.7 537.6 L418.4 538.2 L419.1 537.9 L419.8 538.7 L420.5 539.1 L421.2 539.7 L421.9 540.0 L422.6 540.5 L423.3 542.0 L424.0 542.9 L424.7 543.7 L425.4 545.2 L426.1 545.8 L426.8 546.7 L427.5 547.6 L428.2 548.4 L428.9 549.5 L429.6 550.0 L430.3 550.5 L431.0 550.8 L431.7 551.2 L432.4 552.3 L433.1 552.3 L433.8 553.2 L434.5 553.4 L435.2 554.0 L435.9 553.8 L436.6 554.3 L437.3 554.5 L438.0 554.6 L438.7 554.6" fill="none" stroke="#b4b4b4" stroke-width="0.85"/>
<rect x="393.7" y="505.2" width="93.3" height="51.8" fill="none" stroke="#151515" stroke-width="1.5"/>
<line x1="393.3" y1="504.7" x2="393.3" y2="557.5" stroke="#111" stroke-width="1.3"/>
<line x1="392.7" y1="557.0" x2="487.5" y2="557.0" stroke="#111" stroke-width="2"/>
<path d="M390.7 505.2H393.7M391.9 507.3H393.7M391.9 509.3H393.7M391.9 511.4H393.7M391.9 513.5H393.7M390.7 515.6H393.7M391.9 517.6H393.7M391.9 519.7H393.7M391.9 521.8H393.7M391.9 523.8H393.7M390.7 525.9H393.7M391.9 528.0H393.7M391.9 530.1H393.7M391.9 532.1H393.7M391.9 534.2H393.7M390.7 536.3H393.7M391.9 538.4H393.7M391.9 540.4H393.7M391.9 542.5H393.7M391.9 544.6H393.7M390.7 546.6H393.7M391.9 548.7H393.7M391.9 550.8H393.7M391.9 552.9H393.7M391.9 554.9H393.7M390.7 557.0H393.7" stroke="#111" stroke-width="0.8"/>
<path d="M393.7 557.0V559.2M400.7 557.0V558.5M404.8 557.0V558.5M407.7 557.0V558.5M410.0 557.0V558.5M411.9 557.0V558.5M413.4 557.0V558.5M414.8 557.0V558.5M416.0 557.0V558.5M417.0 557.0V559.2M424.0 557.0V558.5M428.2 557.0V558.5M431.1 557.0V558.5M433.3 557.0V558.5M435.2 557.0V558.5M436.7 557.0V558.5M438.1 557.0V558.5M439.3 557.0V558.5M440.4 557.0V559.2M447.4 557.0V558.5M451.5 557.0V558.5M454.4 557.0V558.5M456.7 557.0V558.5M458.5 557.0V558.5M460.1 557.0V558.5M461.4 557.0V558.5M462.6 557.0V558.5M463.7 557.0V559.2M470.7 557.0V558.5M474.8 557.0V558.5M477.7 557.0V558.5M480.0 557.0V558.5M481.8 557.0V558.5M483.4 557.0V558.5M484.7 557.0V558.5M485.9 557.0V558.5M487.0 557.0V559.2" stroke="#111" stroke-width="0.9"/>
<text x="393.7" y="567.6" font-family="'Liberation Sans', sans-serif" font-size="6.5" font-weight="bold" fill="#222" text-anchor="middle">10<tspan font-size="5" dy="-2.9">0</tspan></text>
<text x="417.0" y="567.6" font-family="'Liberation Sans', sans-serif" font-size="6.5" font-weight="bold" fill="#222" text-anchor="middle">10<tspan font-size="5" dy="-2.9">1</tspan></text>
<text x="440.4" y="567.6" font-family="'Liberation Sans', sans-serif" font-size="6.5" font-weight="bold" fill="#222" text-anchor="middle">10<tspan font-size="5" dy="-2.9">2</tspan></text>
<text x="463.7" y="567.6" font-family="'Liberation Sans', sans-serif" font-size="6.5" font-weight="bold" fill="#222" text-anchor="middle">10<tspan font-size="5" dy="-2.9">3</tspan></text>
<text x="487.0" y="567.6" font-family="'Liberation Sans', sans-serif" font-size="6.5" font-weight="bold" fill="#222" text-anchor="middle">10<tspan font-size="5" dy="-2.9">4</tspan></text>
<path d="M432.5 515.7H487.0 M432.5 510.7V520.7 M487.0 510.7V520.7" stroke="#151515" stroke-width="1.3" fill="none"/>
<text x="462.5" y="535.9" font-family="'Liberation Sans', sans-serif" font-size="14.5" stroke="#111" stroke-width="0.2" fill="#111" text-anchor="middle">41</text>
<path d="M40.0 630.7 L40.0 629.9 L40.7 629.5 L41.4 629.0 L42.1 629.2 L42.8 629.4 L43.5 628.2 L44.2 627.9 L44.9 627.8 L45.6 628.3 L46.3 627.6 L47.0 628.0 L47.7 627.3 L48.4 627.3 L49.1 626.7 L49.8 627.5 L50.5 626.8 L51.2 626.9 L51.9 627.1 L52.6 625.8 L53.3 627.0 L54.0 625.1 L54.7 625.6 L55.4 625.8 L56.1 626.0 L56.8 626.3 L57.5 625.9 L58.2 625.6 L58.9 625.5 L59.6 624.2 L60.3 625.3 L61.0 623.7 L61.7 623.5 L62.4 623.5 L63.1 623.7 L63.8 623.4 L64.5 624.3 L65.2 623.5 L65.9 623.6 L66.6 622.1 L67.3 622.8 L68.0 624.6 L68.7 624.7 L69.4 623.0 L70.1 623.8 L70.8 623.1 L71.5 624.6 L72.2 624.7 L72.9 622.4 L73.6 622.2 L74.3 623.1 L75.0 623.7 L75.7 622.5 L76.4 621.7 L77.1 622.7 L77.8 621.8 L78.5 621.0 L79.2 622.1 L79.9 620.1 L80.6 621.5 L81.3 620.2 L82.0 619.1 L82.7 618.7 L83.4 617.4 L84.1 618.2 L84.8 616.0 L85.5 615.1 L86.2 614.4 L86.9 614.0 L87.6 611.5 L88.3 610.8 L89.0 610.2 L89.7 607.5 L90.4 605.7 L91.1 606.6 L91.8 606.2 L92.5 605.7 L93.2 606.4 L93.9 606.2 L94.6 608.0 L95.3 610.6 L96.0 613.5 L96.7 614.3 L97.4 616.1 L98.1 615.9 L98.8 616.8 L99.5 620.0 L100.2 621.1 L100.9 621.8 L101.6 621.9 L102.3 624.1 L103.0 624.3 L103.7 625.9 L104.4 626.0 L105.1 627.0 L105.8 627.8 L106.5 628.1 L107.2 628.3 L107.9 629.1 L108.6 628.8 L109.3 629.2 L110.0 629.7 L110.7 629.9 L111.4 628.8 L112.1 629.3 L112.8 629.7 L113.5 629.4 L114.2 629.7 L114.9 629.6 L115.6 629.5 L116.0 630.7 Z" fill="#111"/>
<path d="M42.0 629.9 L42.7 629.6 L43.4 629.4 L44.1 629.0 L44.8 627.4 L45.5 626.3 L46.2 624.7 L46.9 622.9 L47.6 621.6 L48.3 619.9 L49.0 618.8 L49.7 616.4 L50.4 614.3 L51.1 612.9 L51.8 610.7 L52.5 608.6 L53.2 606.9 L53.9 605.1 L54.6 603.7 L55.3 601.7 L56.0 600.0 L56.7 599.0 L57.4 598.8 L58.1 597.9 L58.8 597.2 L59.5 596.7 L60.2 595.9 L60.9 597.2 L61.6 598.0 L62.3 598.7 L63.0 599.5 L63.7 600.5 L64.4 601.0 L65.1 603.6 L65.8 604.6 L66.5 606.4 L67.2 609.8 L67.9 613.0 L68.6 615.5 L69.3 617.5 L70.0 620.3 L70.7 622.8 L71.4 624.3 L72.1 625.3 L72.8 625.8 L73.5 626.5 L74.2 627.5 L74.9 628.5 L75.6 628.9 L76.3 628.9 L77.0 629.6 L77.7 629.8" fill="none" stroke="#b4b4b4" stroke-width="0.85"/>
<rect x="39.5" y="579.5" width="93.5" height="51.2" fill="none" stroke="#151515" stroke-width="1.5"/>
<line x1="39.1" y1="579.0" x2="39.1" y2="631.2" stroke="#111" stroke-width="1.3"/>
<line x1="38.5" y1="630.7" x2="133.5" y2="630.7" stroke="#111" stroke-width="2"/>
<path d="M36.5 579.5H39.5M37.7 581.5H39.5M37.7 583.6H39.5M37.7 585.6H39.5M37.7 587.7H39.5M36.5 589.7H39.5M37.7 591.8H39.5M37.7 593.8H39.5M37.7 595.9H39.5M37.7 597.9H39.5M36.5 600.0H39.5M37.7 602.0H39.5M37.7 604.1H39.5M37.7 606.1H39.5M37.7 608.2H39.5M36.5 610.2H39.5M37.7 612.3H39.5M37.7 614.3H39.5M37.7 616.4H39.5M37.7 618.4H39.5M36.5 620.5H39.5M37.7 622.5H39.5M37.7 624.6H39.5M37.7 626.6H39.5M37.7 628.7H39.5M36.5 630.7H39.5" stroke="#111" stroke-width="0.8"/>
<path d="M39.5 630.7V632.9M46.5 630.7V632.2M50.7 630.7V632.2M53.6 630.7V632.2M55.8 630.7V632.2M57.7 630.7V632.2M59.3 630.7V632.2M60.6 630.7V632.2M61.8 630.7V632.2M62.9 630.7V632.9M69.9 630.7V632.2M74.0 630.7V632.2M76.9 630.7V632.2M79.2 630.7V632.2M81.1 630.7V632.2M82.6 630.7V632.2M84.0 630.7V632.2M85.2 630.7V632.2M86.2 630.7V632.9M93.3 630.7V632.2M97.4 630.7V632.2M100.3 630.7V632.2M102.6 630.7V632.2M104.4 630.7V632.2M106.0 630.7V632.2M107.4 630.7V632.2M108.6 630.7V632.2M109.6 630.7V632.9M116.7 630.7V632.2M120.8 630.7V632.2M123.7 630.7V632.2M126.0 630.7V632.2M127.8 630.7V632.2M129.4 630.7V632.2M130.7 630.7V632.2M131.9 630.7V632.2M133.0 630.7V632.9" stroke="#111" stroke-width="0.9"/>
<text x="39.5" y="641.3" font-family="'Liberation Sans', sans-serif" font-size="6.5" font-weight="bold" fill="#222" text-anchor="middle">10<tspan font-size="5" dy="-2.9">0</tspan></text>
<text x="62.9" y="641.3" font-family="'Liberation Sans', sans-serif" font-size="6.5" font-weight="bold" fill="#222" text-anchor="middle">10<tspan font-size="5" dy="-2.9">1</tspan></text>
<text x="86.2" y="641.3" font-family="'Liberation Sans', sans-serif" font-size="6.5" font-weight="bold" fill="#222" text-anchor="middle">10<tspan font-size="5" dy="-2.9">2</tspan></text>
<text x="109.6" y="641.3" font-family="'Liberation Sans', sans-serif" font-size="6.5" font-weight="bold" fill="#222" text-anchor="middle">10<tspan font-size="5" dy="-2.9">3</tspan></text>
<text x="133.0" y="641.3" font-family="'Liberation Sans', sans-serif" font-size="6.5" font-weight="bold" fill="#222" text-anchor="middle">10<tspan font-size="5" dy="-2.9">4</tspan></text>
<path d="M74.5 593.7H133.0 M74.5 588.7V598.7 M133.0 588.7V598.7" stroke="#151515" stroke-width="1.3" fill="none"/>
<text x="110.0" y="611.4" font-family="'Liberation Serif', serif" font-size="15.8" stroke="#111" stroke-width="0.3" fill="#111" text-anchor="middle">73</text>
<path d="M158.0 630.7 L158.0 629.8 L158.7 628.9 L159.4 629.0 L160.1 628.5 L160.8 628.3 L161.5 628.1 L162.2 628.2 L162.9 627.5 L163.6 628.7 L164.3 627.2 L165.0 627.3 L165.7 627.3 L166.4 627.2 L167.1 626.5 L167.8 625.7 L168.5 625.4 L169.2 625.2 L169.9 624.7 L170.6 624.9 L171.3 623.7 L172.0 624.6 L172.7 622.6 L173.4 623.5 L174.1 623.5 L174.8 622.1 L175.5 624.3 L176.2 622.3 L176.9 623.2 L177.6 622.1 L178.3 622.8 L179.0 621.0 L179.7 620.5 L180.4 622.5 L181.1 623.0 L181.8 621.7 L182.5 623.7 L183.2 624.1 L183.9 623.8 L184.6 622.3 L185.3 624.0 L186.0 621.5 L186.7 623.2 L187.4 623.3 L188.1 621.2 L188.8 623.7 L189.5 621.3 L190.2 623.0 L190.9 622.6 L191.6 623.2 L192.3 623.5 L193.0 622.0 L193.7 624.1 L194.4 623.0 L195.1 622.7 L195.8 621.9 L196.5 621.3 L197.2 621.0 L197.9 622.3 L198.6 621.8 L199.3 619.8 L200.0 619.7 L200.7 619.6 L201.4 619.5 L202.1 618.0 L202.8 618.6 L203.5 617.0 L204.2 617.0 L204.9 617.3 L205.6 616.4 L206.3 614.8 L207.0 614.7 L207.7 614.3 L208.4 613.1 L209.1 613.6 L209.8 613.8 L210.5 614.2 L211.2 615.4 L211.9 618.3 L212.6 619.0 L213.3 619.7 L214.0 621.0 L214.7 621.1 L215.4 623.3 L216.1 623.8 L216.8 624.2 L217.5 625.8 L218.2 625.8 L218.9 626.6 L219.6 625.8 L220.3 626.8 L221.0 628.0 L221.7 627.5 L222.4 627.6 L223.1 627.7 L223.8 628.0 L224.5 627.6 L225.2 627.9 L225.9 628.4 L226.6 628.4 L227.3 628.5 L228.0 629.8 L228.7 629.6 L229.4 628.7 L230.1 629.0 L230.8 629.2 L231.5 629.0 L232.2 629.0 L232.9 629.7 L233.6 629.4 L234.3 629.7 L235.0 630.5 L235.0 630.7 Z" fill="#111"/>
<path d="M161.0 630.1 L161.7 629.6 L162.4 629.2 L163.1 628.5 L163.8 627.3 L164.5 625.7 L165.2 623.0 L165.9 621.2 L166.6 618.7 L167.3 616.6 L168.0 614.7 L168.7 611.9 L169.4 609.3 L170.1 607.3 L170.8 605.1 L171.5 604.2 L172.2 603.5 L172.9 601.8 L173.6 600.5 L174.3 601.1 L175.0 601.6 L175.7 602.4 L176.4 603.1 L177.1 603.9 L177.8 604.4 L178.5 605.8 L179.2 606.8 L179.9 608.6 L180.6 609.7 L181.3 611.9 L182.0 613.8 L182.7 615.6 L183.4 616.9 L184.1 618.7 L184.8 619.4 L185.5 620.9 L186.2 622.9 L186.9 624.1 L187.6 624.4 L188.3 624.5 L189.0 625.3 L189.7 626.0 L190.4 625.9 L191.1 626.7 L191.8 626.7 L192.5 627.1 L193.2 627.0 L193.9 627.4 L194.6 627.7 L195.3 627.7 L196.0 628.0" fill="none" stroke="#b4b4b4" stroke-width="0.85"/>
<rect x="157.0" y="579.5" width="94.2" height="51.2" fill="none" stroke="#151515" stroke-width="1.5"/>
<line x1="156.6" y1="579.0" x2="156.6" y2="631.2" stroke="#111" stroke-width="1.3"/>
<line x1="156.0" y1="630.7" x2="251.7" y2="630.7" stroke="#111" stroke-width="2"/>
<path d="M154.0 579.5H157.0M155.2 581.5H157.0M155.2 583.6H157.0M155.2 585.6H157.0M155.2 587.7H157.0M154.0 589.7H157.0M155.2 591.8H157.0M155.2 593.8H157.0M155.2 595.9H157.0M155.2 597.9H157.0M154.0 600.0H157.0M155.2 602.0H157.0M155.2 604.1H157.0M155.2 606.1H157.0M155.2 608.2H157.0M154.0 610.2H157.0M155.2 612.3H157.0M155.2 614.3H157.0M155.2 616.4H157.0M155.2 618.4H157.0M154.0 620.5H157.0M155.2 622.5H157.0M155.2 624.6H157.0M155.2 626.6H157.0M155.2 628.7H157.0M154.0 630.7H157.0" stroke="#111" stroke-width="0.8"/>
<path d="M157.0 630.7V632.9M164.1 630.7V632.2M168.2 630.7V632.2M171.2 630.7V632.2M173.5 630.7V632.2M175.3 630.7V632.2M176.9 630.7V632.2M178.3 630.7V632.2M179.5 630.7V632.2M180.6 630.7V632.9M187.6 630.7V632.2M191.8 630.7V632.2M194.7 630.7V632.2M197.0 630.7V632.2M198.9 630.7V632.2M200.5 630.7V632.2M201.8 630.7V632.2M203.0 630.7V632.2M204.1 630.7V632.9M211.2 630.7V632.2M215.3 630.7V632.2M218.3 630.7V632.2M220.6 630.7V632.2M222.4 630.7V632.2M224.0 630.7V632.2M225.4 630.7V632.2M226.6 630.7V632.2M227.6 630.7V632.9M234.7 630.7V632.2M238.9 630.7V632.2M241.8 630.7V632.2M244.1 630.7V632.2M246.0 630.7V632.2M247.6 630.7V632.2M248.9 630.7V632.2M250.1 630.7V632.2M251.2 630.7V632.9" stroke="#111" stroke-width="0.9"/>
<text x="157.0" y="641.3" font-family="'Liberation Sans', sans-serif" font-size="6.5" font-weight="bold" fill="#222" text-anchor="middle">10<tspan font-size="5" dy="-2.9">0</tspan></text>
<text x="180.6" y="641.3" font-family="'Liberation Sans', sans-serif" font-size="6.5" font-weight="bold" fill="#222" text-anchor="middle">10<tspan font-size="5" dy="-2.9">1</tspan></text>
<text x="204.1" y="641.3" font-family="'Liberation Sans', sans-serif" font-size="6.5" font-weight="bold" fill="#222" text-anchor="middle">10<tspan font-size="5" dy="-2.9">2</tspan></text>
<text x="227.6" y="641.3" font-family="'Liberation Sans', sans-serif" font-size="6.5" font-weight="bold" fill="#222" text-anchor="middle">10<tspan font-size="5" dy="-2.9">3</tspan></text>
<text x="251.2" y="641.3" font-family="'Liberation Sans', sans-serif" font-size="6.5" font-weight="bold" fill="#222" text-anchor="middle">10<tspan font-size="5" dy="-2.9">4</tspan></text>
<path d="M193.7 591.2H251.2 M193.7 586.2V596.2 M251.2 586.2V596.2" stroke="#151515" stroke-width="1.3" fill="none"/>
<text x="226.7" y="609.9" font-family="'Liberation Serif', serif" font-size="15.8" font-style="italic" stroke="#111" stroke-width="0.5" fill="#111" text-anchor="middle">57</text>
<path d="M276.0 631.2 L276.0 629.5 L276.7 628.3 L277.4 627.9 L278.1 626.6 L278.8 628.4 L279.5 625.7 L280.2 628.0 L280.9 626.3 L281.6 624.6 L282.3 625.2 L283.0 626.4 L283.7 625.2 L284.4 625.2 L285.1 623.5 L285.8 621.6 L286.5 621.1 L287.2 622.0 L287.9 622.4 L288.6 621.2 L289.3 619.7 L290.0 618.3 L290.7 618.8 L291.4 617.2 L292.1 619.0 L292.8 618.5 L293.5 618.0 L294.2 614.6 L294.9 614.8 L295.6 615.6 L296.3 616.2 L297.0 616.4 L297.7 616.5 L298.4 617.3 L299.1 618.2 L299.8 617.6 L300.5 616.0 L301.2 617.7 L301.9 616.5 L302.6 618.3 L303.3 616.2 L304.0 618.0 L304.7 615.7 L305.4 615.5 L306.1 615.9 L306.8 615.7 L307.5 616.9 L308.2 616.5 L308.9 615.0 L309.6 616.2 L310.3 616.0 L311.0 614.5 L311.7 614.1 L312.4 615.1 L313.1 614.4 L313.8 613.3 L314.5 612.6 L315.2 614.6 L315.9 614.9 L316.6 612.4 L317.3 614.0 L318.0 612.2 L318.7 612.3 L319.4 611.1 L320.1 612.0 L320.8 612.7 L321.5 611.6 L322.2 611.9 L322.9 613.2 L323.6 615.6 L324.3 615.9 L325.0 613.2 L325.7 615.8 L326.4 613.0 L327.1 614.6 L327.8 613.8 L328.5 612.5 L329.2 613.8 L329.9 613.9 L330.6 611.9 L331.3 613.1 L332.0 610.9 L332.7 610.4 L333.4 612.5 L334.1 613.0 L334.8 612.0 L335.5 612.4 L336.2 613.8 L336.9 613.6 L337.6 614.3 L338.3 617.7 L339.0 617.4 L339.7 617.6 L340.4 618.3 L341.1 622.0 L341.8 620.6 L342.5 622.5 L343.2 623.8 L343.9 625.8 L344.6 624.2 L345.3 625.0 L346.0 625.5 L346.7 626.1 L347.4 627.1 L348.1 626.7 L348.8 626.9 L349.5 628.7 L350.2 628.1 L350.9 628.1 L351.6 628.4 L352.3 628.6 L353.0 628.2 L353.7 629.6 L354.4 628.8 L355.1 629.1 L355.8 629.1 L356.5 630.4 L357.2 630.0 L357.9 630.6 L358.0 631.2 Z" fill="#111"/>
<path d="M281.0 630.1 L281.7 628.6 L282.4 627.4 L283.1 625.3 L283.8 624.3 L284.5 621.8 L285.2 620.5 L285.9 618.1 L286.6 616.4 L287.3 613.9 L288.0 611.7 L288.7 610.1 L289.4 607.9 L290.1 605.5 L290.8 603.4 L291.5 601.4 L292.2 600.5 L292.9 598.9 L293.6 598.4 L294.3 597.2 L295.0 598.1 L295.7 599.5 L296.4 601.5 L297.1 600.9 L297.8 601.1 L298.5 601.4 L299.2 603.3 L299.9 605.5 L300.6 607.8 L301.3 609.2 L302.0 611.2 L302.7 613.6 L303.4 614.7 L304.1 616.5 L304.8 618.6 L305.5 620.7 L306.2 622.0 L306.9 624.1 L307.6 624.6 L308.3 625.8 L309.0 627.0 L309.7 627.8 L310.4 627.7 L311.1 627.5 L311.8 628.1 L312.5 628.2 L313.2 627.8 L313.9 628.5 L314.6 628.2 L315.3 628.2 L316.0 628.2 L316.7 628.4 L317.4 628.1 L318.1 628.6 L318.8 628.4 L319.5 628.4 L320.2 628.4 L320.9 628.2 L321.6 628.1 L322.3 628.4 L323.0 628.4 L323.7 628.8 L324.4 628.6" fill="none" stroke="#b4b4b4" stroke-width="0.85"/>
<rect x="275.5" y="579.5" width="93.7" height="51.7" fill="none" stroke="#151515" stroke-width="1.5"/>
<line x1="275.1" y1="579.0" x2="275.1" y2="631.7" stroke="#111" stroke-width="1.3"/>
<line x1="274.5" y1="631.2" x2="369.7" y2="631.2" stroke="#111" stroke-width="2"/>
<path d="M272.5 579.5H275.5M273.7 581.6H275.5M273.7 583.6H275.5M273.7 585.7H275.5M273.7 587.8H275.5M272.5 589.8H275.5M273.7 591.9H275.5M273.7 594.0H275.5M273.7 596.0H275.5M273.7 598.1H275.5M272.5 600.2H275.5M273.7 602.2H275.5M273.7 604.3H275.5M273.7 606.4H275.5M273.7 608.5H275.5M272.5 610.5H275.5M273.7 612.6H275.5M273.7 614.7H275.5M273.7 616.7H275.5M273.7 618.8H275.5M272.5 620.9H275.5M273.7 622.9H275.5M273.7 625.0H275.5M273.7 627.1H275.5M273.7 629.1H275.5M272.5 631.2H275.5" stroke="#111" stroke-width="0.8"/>
<path d="M275.5 631.2V633.4M282.6 631.2V632.7M286.7 631.2V632.7M289.6 631.2V632.7M291.9 631.2V632.7M293.7 631.2V632.7M295.3 631.2V632.7M296.7 631.2V632.7M297.9 631.2V632.7M298.9 631.2V633.4M306.0 631.2V632.7M310.1 631.2V632.7M313.0 631.2V632.7M315.3 631.2V632.7M317.2 631.2V632.7M318.7 631.2V632.7M320.1 631.2V632.7M321.3 631.2V632.7M322.4 631.2V633.4M329.4 631.2V632.7M333.5 631.2V632.7M336.5 631.2V632.7M338.7 631.2V632.7M340.6 631.2V632.7M342.1 631.2V632.7M343.5 631.2V632.7M344.7 631.2V632.7M345.8 631.2V633.4M352.8 631.2V632.7M357.0 631.2V632.7M359.9 631.2V632.7M362.1 631.2V632.7M364.0 631.2V632.7M365.6 631.2V632.7M366.9 631.2V632.7M368.1 631.2V632.7M369.2 631.2V633.4" stroke="#111" stroke-width="0.9"/>
<text x="275.5" y="641.8" font-family="'Liberation Sans', sans-serif" font-size="6.5" font-weight="bold" fill="#222" text-anchor="middle">10<tspan font-size="5" dy="-2.9">0</tspan></text>
<text x="298.9" y="641.8" font-family="'Liberation Sans', sans-serif" font-size="6.5" font-weight="bold" fill="#222" text-anchor="middle">10<tspan font-size="5" dy="-2.9">1</tspan></text>
<text x="322.4" y="641.8" font-family="'Liberation Sans', sans-serif" font-size="6.5" font-weight="bold" fill="#222" text-anchor="middle">10<tspan font-size="5" dy="-2.9">2</tspan></text>
<text x="345.8" y="641.8" font-family="'Liberation Sans', sans-serif" font-size="6.5" font-weight="bold" fill="#222" text-anchor="middle">10<tspan font-size="5" dy="-2.9">3</tspan></text>
<text x="369.2" y="641.8" font-family="'Liberation Sans', sans-serif" font-size="6.5" font-weight="bold" fill="#222" text-anchor="middle">10<tspan font-size="5" dy="-2.9">4</tspan></text>
<path d="M311.7 592.0H369.2 M311.7 587.0V597.0 M369.2 587.0V597.0" stroke="#151515" stroke-width="1.3" fill="none"/>
<text x="343.5" y="611.4" font-family="'Liberation Serif', serif" font-size="15.8" stroke="#111" stroke-width="0.3" fill="#111" text-anchor="middle">51</text>
<path d="M395.0 630.7 L395.0 629.9 L395.7 629.3 L396.4 626.5 L397.1 627.2 L397.8 626.7 L398.5 625.9 L399.2 627.2 L399.9 625.4 L400.6 624.5 L401.3 624.3 L402.0 626.1 L402.7 625.4 L403.4 623.1 L404.1 624.8 L404.8 622.5 L405.5 622.0 L406.2 622.4 L406.9 621.6 L407.6 618.8 L408.3 620.1 L409.0 617.7 L409.7 617.8 L410.4 615.9 L411.1 619.0 L411.8 619.3 L412.5 616.9 L413.2 618.3 L413.9 617.9 L414.6 617.3 L415.3 615.6 L416.0 615.8 L416.7 612.9 L417.4 613.5 L418.1 612.6 L418.8 613.8 L419.5 618.0 L420.2 616.8 L420.9 615.6 L421.6 616.3 L422.3 616.7 L423.0 617.1 L423.7 615.8 L424.4 615.9 L425.1 616.6 L425.8 619.2 L426.5 618.2 L427.2 617.5 L427.9 618.4 L428.6 617.9 L429.3 619.9 L430.0 621.1 L430.7 620.1 L431.4 619.1 L432.1 620.9 L432.8 619.9 L433.5 619.8 L434.2 619.7 L434.9 621.5 L435.6 620.9 L436.3 620.9 L437.0 620.3 L437.7 619.7 L438.4 620.6 L439.1 620.8 L439.8 621.0 L440.5 620.3 L441.2 621.2 L441.9 620.5 L442.6 620.5 L443.3 620.0 L444.0 620.3 L444.7 617.7 L445.4 620.2 L446.1 620.0 L446.8 618.0 L447.5 619.3 L448.2 620.7 L448.9 619.7 L449.6 619.0 L450.3 620.0 L451.0 620.4 L451.7 620.0 L452.4 619.8 L453.1 622.0 L453.8 620.4 L454.5 621.5 L455.2 623.0 L455.9 624.8 L456.6 623.2 L457.3 623.6 L458.0 625.5 L458.7 625.8 L459.4 626.3 L460.1 628.6 L460.8 628.8 L461.5 628.4 L462.2 628.6 L462.9 627.9 L463.6 628.3 L464.3 628.7 L465.0 629.5 L465.7 629.7 L466.4 628.3 L467.1 628.6 L467.8 630.1 L468.5 629.1 L469.2 629.0 L469.9 629.0 L470.6 630.0 L471.3 630.0 L472.0 630.1 L472.0 630.7 Z" fill="#111"/>
<path d="M402.0 629.3 L402.7 628.8 L403.4 628.0 L404.1 627.4 L404.8 627.3 L405.5 627.1 L406.2 625.7 L406.9 625.0 L407.6 624.3 L408.3 624.3 L409.0 622.8 L409.7 622.8 L410.4 621.7 L411.1 621.0 L411.8 621.0 L412.5 619.5 L413.2 619.3 L413.9 618.6 L414.6 618.1 L415.3 617.5 L416.0 617.4 L416.7 616.8 L417.4 617.8 L418.1 617.9 L418.8 617.8 L419.5 618.6 L420.2 618.4 L420.9 619.0 L421.6 619.3 L422.3 619.1 L423.0 620.7 L423.7 621.1 L424.4 621.9 L425.1 623.6 L425.8 623.7 L426.5 625.0 L427.2 625.6 L427.9 625.8 L428.6 626.3 L429.3 626.6 L430.0 626.5 L430.7 627.5 L431.4 627.8 L432.1 628.0 L432.8 627.5 L433.5 627.7 L434.2 628.2 L434.9 628.3 L435.6 628.1 L436.3 628.0 L437.0 628.4 L437.7 627.9 L438.4 628.1 L439.1 628.3" fill="none" stroke="#b4b4b4" stroke-width="0.85"/>
<rect x="393.7" y="579.5" width="93.3" height="51.2" fill="none" stroke="#151515" stroke-width="1.5"/>
<line x1="393.3" y1="579.0" x2="393.3" y2="631.2" stroke="#111" stroke-width="1.3"/>
<line x1="392.7" y1="630.7" x2="487.5" y2="630.7" stroke="#111" stroke-width="2"/>
<path d="M390.7 579.5H393.7M391.9 581.5H393.7M391.9 583.6H393.7M391.9 585.6H393.7M391.9 587.7H393.7M390.7 589.7H393.7M391.9 591.8H393.7M391.9 593.8H393.7M391.9 595.9H393.7M391.9 597.9H393.7M390.7 600.0H393.7M391.9 602.0H393.7M391.9 604.1H393.7M391.9 606.1H393.7M391.9 608.2H393.7M390.7 610.2H393.7M391.9 612.3H393.7M391.9 614.3H393.7M391.9 616.4H393.7M391.9 618.4H393.7M390.7 620.5H393.7M391.9 622.5H393.7M391.9 624.6H393.7M391.9 626.6H393.7M391.9 628.7H393.7M390.7 630.7H393.7" stroke="#111" stroke-width="0.8"/>
<path d="M393.7 630.7V632.9M400.7 630.7V632.2M404.8 630.7V632.2M407.7 630.7V632.2M410.0 630.7V632.2M411.9 630.7V632.2M413.4 630.7V632.2M414.8 630.7V632.2M416.0 630.7V632.2M417.0 630.7V632.9M424.0 630.7V632.2M428.2 630.7V632.2M431.1 630.7V632.2M433.3 630.7V632.2M435.2 630.7V632.2M436.7 630.7V632.2M438.1 630.7V632.2M439.3 630.7V632.2M440.4 630.7V632.9M447.4 630.7V632.2M451.5 630.7V632.2M454.4 630.7V632.2M456.7 630.7V632.2M458.5 630.7V632.2M460.1 630.7V632.2M461.4 630.7V632.2M462.6 630.7V632.2M463.7 630.7V632.9M470.7 630.7V632.2M474.8 630.7V632.2M477.7 630.7V632.2M480.0 630.7V632.2M481.8 630.7V632.2M483.4 630.7V632.2M484.7 630.7V632.2M485.9 630.7V632.2M487.0 630.7V632.9" stroke="#111" stroke-width="0.9"/>
<text x="393.7" y="641.3" font-family="'Liberation Sans', sans-serif" font-size="6.5" font-weight="bold" fill="#222" text-anchor="middle">10<tspan font-size="5" dy="-2.9">0</tspan></text>
<text x="417.0" y="641.3" font-family="'Liberation Sans', sans-serif" font-size="6.5" font-weight="bold" fill="#222" text-anchor="middle">10<tspan font-size="5" dy="-2.9">1</tspan></text>
<text x="440.4" y="641.3" font-family="'Liberation Sans', sans-serif" font-size="6.5" font-weight="bold" fill="#222" text-anchor="middle">10<tspan font-size="5" dy="-2.9">2</tspan></text>
<text x="463.7" y="641.3" font-family="'Liberation Sans', sans-serif" font-size="6.5" font-weight="bold" fill="#222" text-anchor="middle">10<tspan font-size="5" dy="-2.9">3</tspan></text>
<text x="487.0" y="641.3" font-family="'Liberation Sans', sans-serif" font-size="6.5" font-weight="bold" fill="#222" text-anchor="middle">10<tspan font-size="5" dy="-2.9">4</tspan></text>
<path d="M433.0 591.7H487.0 M433.0 586.7V596.7 M487.0 586.7V596.7" stroke="#151515" stroke-width="1.3" fill="none"/>
<text x="463.0" y="611.4" font-family="'Liberation Serif', serif" font-size="15.8" stroke="#111" stroke-width="0.3" fill="#111" text-anchor="middle">35</text>
<text x="17.1" y="21.6" font-family="'Liberation Sans', sans-serif" font-size="23.0" font-weight="bold" text-anchor="middle" fill="#111" stroke="#111" stroke-width="0.8">A</text>
<text x="12.5" y="352.7" font-family="'Liberation Sans', sans-serif" font-size="22.0" font-weight="bold" text-anchor="middle" fill="#111" stroke="#111" stroke-width="0.8">B</text>
<text x="14.0" y="694.5" font-family="'Liberation Sans', sans-serif" font-size="23.5" font-weight="bold" text-anchor="middle" fill="#111" stroke="#111" stroke-width="0.8">C</text>
<text x="83.5" y="14.0" font-family="'Liberation Serif', serif" font-size="14.0" font-weight="bold" text-anchor="middle" fill="#111" >B6</text>
<text x="205.9" y="14.0" font-family="'Liberation Serif', serif" font-size="14.0" font-weight="bold" text-anchor="middle" fill="#111" >TgA</text>
<text x="316.0" y="14.0" font-family="'Liberation Serif', serif" font-size="14.0" font-weight="bold" text-anchor="middle" fill="#111" >TgH</text>
<text x="433.1" y="14.0" font-family="'Liberation Serif', serif" font-size="14.0" font-weight="bold" text-anchor="middle" fill="#111" >TgB</text>
<text x="83.5" y="347.8" font-family="'Liberation Serif', serif" font-size="14.0" font-weight="bold" text-anchor="middle" fill="#111" >B6</text>
<text x="195.6" y="347.8" font-family="'Liberation Serif', serif" font-size="14.0" font-weight="bold" text-anchor="middle" fill="#111" >TgA</text>
<text x="316.7" y="347.8" font-family="'Liberation Serif', serif" font-size="14.0" font-weight="bold" text-anchor="middle" fill="#111" >TgH</text>
<text x="443.1" y="347.8" font-family="'Liberation Serif', serif" font-size="14.0" font-weight="bold" text-anchor="middle" fill="#111" >TgB</text>
<text x="26.3" y="53.8" font-family="'Liberation Serif', serif" font-size="5.8" font-weight="bold" text-anchor="middle" fill="#111" >DN1</text>
<text x="26.3" y="124.4" font-family="'Liberation Serif', serif" font-size="5.8" font-weight="bold" text-anchor="middle" fill="#111" >DN2</text>
<text x="26.3" y="201.0" font-family="'Liberation Serif', serif" font-size="5.8" font-weight="bold" text-anchor="middle" fill="#111" >DN3</text>
<text x="26.3" y="275.1" font-family="'Liberation Serif', serif" font-size="5.8" font-weight="bold" text-anchor="middle" fill="#111" >DN4</text>
<text x="26.3" y="389.0" font-family="'Liberation Serif', serif" font-size="5.8" font-weight="bold" text-anchor="middle" fill="#111" >DN1</text>
<text x="26.3" y="459.5" font-family="'Liberation Serif', serif" font-size="5.8" font-weight="bold" text-anchor="middle" fill="#111" >DN2</text>
<text x="26.3" y="535.9" font-family="'Liberation Serif', serif" font-size="5.8" font-weight="bold" text-anchor="middle" fill="#111" >DN3</text>
<text x="26.3" y="609.6" font-family="'Liberation Serif', serif" font-size="5.8" font-weight="bold" text-anchor="middle" fill="#111" >DN4</text>
<text x="7.5" y="325.6" font-family="'Liberation Serif', serif" font-size="14.2" font-weight="bold" text-anchor="start" fill="#111" >Bcl-2</text>
<text x="6.7" y="660.8" font-family="'Liberation Serif', serif" font-size="14.5" font-weight="bold" text-anchor="start" fill="#111" >Ki-67IC</text>
<path d="M51.3 313.9L490 313.3" stroke="#111" stroke-width="2.1"/>
<path d="M501.5 313.3 L486 308.6 L489.5 313.3 L486 318.1 Z" fill="#111"/>
<path d="M66.3 647.2H506" stroke="#111" stroke-width="1.8"/>
<path d="M516.5 647.2 L503 642.2 L506.5 647.2 L503 651.7 Z" fill="#111"/>
<path d="M76 823.3H381M76 808.2H381M76 793.1H381M76 778.0H381M76 762.9H381M76 747.8H381M76 732.7H381M76 717.6H381M76 702.5H381M76 687.4H381" stroke="#111" stroke-width="1.5"/>
<path d="M78.6 687.4V823.3" stroke="#111" stroke-width="1.5"/>
<text x="72.2" y="827.3" font-family="'Liberation Sans', sans-serif" font-size="11.5" font-weight="normal" text-anchor="end" fill="#111" stroke="#111" stroke-width="0.35">0</text>
<text x="72.2" y="812.2" font-family="'Liberation Sans', sans-serif" font-size="11.5" font-weight="normal" text-anchor="end" fill="#111" stroke="#111" stroke-width="0.35">5</text>
<text x="72.2" y="797.1" font-family="'Liberation Sans', sans-serif" font-size="11.5" font-weight="normal" text-anchor="end" fill="#111" stroke="#111" stroke-width="0.35">10</text>
<text x="72.2" y="782.0" font-family="'Liberation Sans', sans-serif" font-size="11.5" font-weight="normal" text-anchor="end" fill="#111" stroke="#111" stroke-width="0.35">15</text>
<text x="72.2" y="766.9" font-family="'Liberation Sans', sans-serif" font-size="11.5" font-weight="normal" text-anchor="end" fill="#111" stroke="#111" stroke-width="0.35">20</text>
<text x="72.2" y="751.8" font-family="'Liberation Sans', sans-serif" font-size="11.5" font-weight="normal" text-anchor="end" fill="#111" stroke="#111" stroke-width="0.35">25</text>
<text x="72.2" y="736.7" font-family="'Liberation Sans', sans-serif" font-size="11.5" font-weight="normal" text-anchor="end" fill="#111" stroke="#111" stroke-width="0.35">30</text>
<text x="72.2" y="721.6" font-family="'Liberation Sans', sans-serif" font-size="11.5" font-weight="normal" text-anchor="end" fill="#111" stroke="#111" stroke-width="0.35">35</text>
<text x="72.2" y="706.5" font-family="'Liberation Sans', sans-serif" font-size="11.5" font-weight="normal" text-anchor="end" fill="#111" stroke="#111" stroke-width="0.35">40</text>
<text x="72.2" y="691.4" font-family="'Liberation Sans', sans-serif" font-size="11.5" font-weight="normal" text-anchor="end" fill="#111" stroke="#111" stroke-width="0.35">45</text>
<text transform="translate(51.2,826) rotate(-90)" font-family="'Liberation Serif', serif" font-size="14.7" fill="#111" stroke="#111" stroke-width="0.25">% BrdU<tspan font-size="9.5" dy="-5.5">+</tspan><tspan dy="5.5">Progenitors</tspan></text>
<text x="147.3" y="848.8" font-family="'Liberation Serif', serif" font-size="12.0" font-weight="bold" text-anchor="middle" fill="#111" >DN1</text>
<text x="208.8" y="848.8" font-family="'Liberation Serif', serif" font-size="12.0" font-weight="bold" text-anchor="middle" fill="#111" >DN2</text>
<text x="269.2" y="848.8" font-family="'Liberation Serif', serif" font-size="12.0" font-weight="bold" text-anchor="middle" fill="#111" >DN3</text>
<text x="330.7" y="848.8" font-family="'Liberation Serif', serif" font-size="12.0" font-weight="bold" text-anchor="middle" fill="#111" >DN4</text>
<rect x="152.4" y="806.6" width="9.2" height="9.2" fill="url(#stripe)" stroke="#000" stroke-width="1"/>
<rect x="152.4" y="812.7" width="9.2" height="9.2" fill="url(#stripe)" stroke="#000" stroke-width="1"/>
<rect x="152.4" y="817.2" width="9.2" height="9.2" fill="url(#stripe)" stroke="#000" stroke-width="1"/>
<path d="M148.6 787.6L153.4 797.6L143.8 797.6Z" fill="#7a7a7a" stroke="#000" stroke-width="1"/>
<path d="M148.6 796.7L153.4 806.7L143.8 806.7Z" fill="#7a7a7a" stroke="#000" stroke-width="1"/>
<path d="M148.6 802.7L153.4 812.7L143.8 812.7Z" fill="#7a7a7a" stroke="#000" stroke-width="1"/>
<path d="M139.0 750.7L144.3 756.0L139.0 761.3L133.7 756.0Z" fill="#000"/>
<path d="M139.0 793.2L144.3 798.5L139.0 803.8L133.7 798.5Z" fill="#000"/>
<path d="M139.0 802.9L144.3 808.2L139.0 813.5L133.7 808.2Z" fill="#000"/>
<path d="M139.0 808.9L144.3 814.2L139.0 819.5L133.7 814.2Z" fill="#000"/>
<rect x="213.0" y="811.8" width="9.2" height="9.2" fill="url(#stripe)" stroke="#000" stroke-width="1"/>
<rect x="213.0" y="817.5" width="9.2" height="9.2" fill="url(#stripe)" stroke="#000" stroke-width="1"/>
<path d="M208.8 748.3L213.6 758.3L204.0 758.3Z" fill="#7a7a7a" stroke="#000" stroke-width="1"/>
<path d="M208.8 775.5L213.6 785.5L204.0 785.5Z" fill="#7a7a7a" stroke="#000" stroke-width="1"/>
<path d="M208.8 787.6L213.6 797.6L204.0 797.6Z" fill="#7a7a7a" stroke="#000" stroke-width="1"/>
<path d="M199.6 738.6L204.9 743.9L199.6 749.2L194.3 743.9Z" fill="#000"/>
<path d="M199.6 742.5L204.9 747.8L199.6 753.1L194.3 747.8Z" fill="#000"/>
<path d="M199.6 757.0L204.9 762.3L199.6 767.6L194.3 762.3Z" fill="#000"/>
<path d="M199.6 771.8L204.9 777.1L199.6 782.4L194.3 777.1Z" fill="#000"/>
<path d="M199.6 783.0L204.9 788.3L199.6 793.6L194.3 788.3Z" fill="#000"/>
<path d="M199.6 787.2L204.9 792.5L199.6 797.8L194.3 792.5Z" fill="#000"/>
<rect x="273.4" y="781.6" width="9.2" height="9.2" fill="url(#stripe)" stroke="#000" stroke-width="1"/>
<rect x="273.4" y="785.5" width="9.2" height="9.2" fill="url(#stripe)" stroke="#000" stroke-width="1"/>
<rect x="273.4" y="788.5" width="9.2" height="9.2" fill="url(#stripe)" stroke="#000" stroke-width="1"/>
<rect x="273.4" y="790.6" width="9.2" height="9.2" fill="url(#stripe)" stroke="#000" stroke-width="1"/>
<rect x="273.4" y="753.8" width="9.2" height="9.2" fill="#fff" stroke="#000" stroke-width="1"/>
<path d="M268.8 751.4L273.6 761.4L264.0 761.4Z" fill="#7a7a7a" stroke="#000" stroke-width="1"/>
<path d="M268.8 760.4L273.6 770.4L264.0 770.4Z" fill="#7a7a7a" stroke="#000" stroke-width="1"/>
<path d="M268.8 789.7L273.6 799.7L264.0 799.7Z" fill="#7a7a7a" stroke="#000" stroke-width="1"/>
<path d="M259.6 765.5L264.9 770.8L259.6 776.1L254.3 770.8Z" fill="#000"/>
<path d="M259.6 771.5L264.9 776.8L259.6 782.1L254.3 776.8Z" fill="#000"/>
<path d="M259.6 775.7L264.9 781.0L259.6 786.3L254.3 781.0Z" fill="#000"/>
<path d="M259.6 783.6L264.9 788.9L259.6 794.2L254.3 788.9Z" fill="#000"/>
<path d="M259.6 787.8L264.9 793.1L259.6 798.4L254.3 793.1Z" fill="#000"/>
<rect x="334.1" y="806.6" width="9.2" height="9.2" fill="url(#stripe)" stroke="#000" stroke-width="1"/>
<rect x="334.1" y="813.3" width="9.2" height="9.2" fill="url(#stripe)" stroke="#000" stroke-width="1"/>
<rect x="334.1" y="766.5" width="9.2" height="9.2" fill="#fff" stroke="#000" stroke-width="1"/>
<rect x="334.1" y="778.5" width="9.2" height="9.2" fill="#fff" stroke="#000" stroke-width="1"/>
<path d="M329.6 703.0L334.4 713.0L324.8 713.0Z" fill="#7a7a7a" stroke="#000" stroke-width="1"/>
<path d="M329.6 764.9L334.4 774.9L324.8 774.9Z" fill="#7a7a7a" stroke="#000" stroke-width="1"/>
<path d="M329.6 772.5L334.4 782.5L324.8 782.5Z" fill="#7a7a7a" stroke="#000" stroke-width="1"/>
<path d="M320.2 690.3L325.5 695.6L320.2 700.9L314.9 695.6Z" fill="#000"/>
<path d="M320.2 696.3L325.5 701.6L320.2 706.9L314.9 701.6Z" fill="#000"/>
<path d="M320.2 756.4L325.5 761.7L320.2 767.0L314.9 761.7Z" fill="#000"/>
<path d="M320.2 762.1L325.5 767.4L320.2 772.7L314.9 767.4Z" fill="#000"/>
<path d="M320.2 766.7L325.5 772.0L320.2 777.3L314.9 772.0Z" fill="#000"/>
<path d="M320.2 772.7L325.5 778.0L320.2 783.3L314.9 778.0Z" fill="#000"/>
<path d="M320.2 787.8L325.5 793.1L320.2 798.4L314.9 793.1Z" fill="#000"/>
</svg></body></html>
